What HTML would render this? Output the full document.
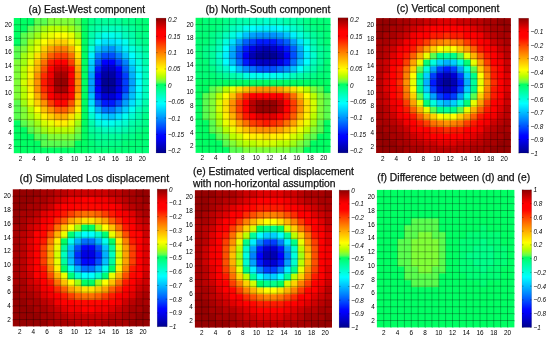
<!DOCTYPE html><html><head><meta charset="utf-8"><style>html,body{margin:0;padding:0;background:#fff;}svg{display:block;will-change:transform;}text{font-family:"Liberation Sans",sans-serif;}</style></head><body>
<svg width="550" height="339" viewBox="0 0 550 339">
<rect width="550" height="339" fill="#fff"/>
<rect x="13.80" y="146.44" width="7.76" height="6.76" fill="#00ff64"/><rect x="20.56" y="146.44" width="7.76" height="6.76" fill="#00ff64"/><rect x="27.32" y="146.44" width="7.76" height="6.76" fill="#00ff64"/><rect x="34.08" y="146.44" width="7.76" height="6.76" fill="#00ff64"/><rect x="40.84" y="146.44" width="7.76" height="6.76" fill="#00ff64"/><rect x="47.60" y="146.44" width="7.76" height="6.76" fill="#00ff64"/><rect x="54.36" y="146.44" width="7.76" height="6.76" fill="#00ff64"/><rect x="61.12" y="146.44" width="7.76" height="6.76" fill="#00ff64"/><rect x="67.88" y="146.44" width="7.76" height="6.76" fill="#00ff64"/><rect x="74.64" y="146.44" width="7.76" height="6.76" fill="#00ff64"/><rect x="81.40" y="146.44" width="7.76" height="6.76" fill="#00ff64"/><rect x="88.16" y="146.44" width="7.76" height="6.76" fill="#00ff77"/><rect x="94.92" y="146.44" width="7.76" height="6.76" fill="#00ff77"/><rect x="101.68" y="146.44" width="7.76" height="6.76" fill="#00ff77"/><rect x="108.44" y="146.44" width="7.76" height="6.76" fill="#00ff77"/><rect x="115.20" y="146.44" width="7.76" height="6.76" fill="#00ff77"/><rect x="121.96" y="146.44" width="7.76" height="6.76" fill="#00ff77"/><rect x="128.72" y="146.44" width="7.76" height="6.76" fill="#00ff77"/><rect x="135.48" y="146.44" width="7.76" height="6.76" fill="#00ff77"/><rect x="142.24" y="146.44" width="6.76" height="6.76" fill="#00ff77"/><rect x="13.80" y="139.68" width="7.76" height="7.76" fill="#00ff64"/><rect x="20.56" y="139.68" width="7.76" height="7.76" fill="#00ff64"/><rect x="27.32" y="139.68" width="7.76" height="7.76" fill="#00ff64"/><rect x="34.08" y="139.68" width="7.76" height="7.76" fill="#00ff64"/><rect x="40.84" y="139.68" width="7.76" height="7.76" fill="#59ff4f"/><rect x="47.60" y="139.68" width="7.76" height="7.76" fill="#59ff4f"/><rect x="54.36" y="139.68" width="7.76" height="7.76" fill="#59ff4f"/><rect x="61.12" y="139.68" width="7.76" height="7.76" fill="#59ff4f"/><rect x="67.88" y="139.68" width="7.76" height="7.76" fill="#59ff4f"/><rect x="74.64" y="139.68" width="7.76" height="7.76" fill="#00ff64"/><rect x="81.40" y="139.68" width="7.76" height="7.76" fill="#00ff64"/><rect x="88.16" y="139.68" width="7.76" height="7.76" fill="#00ff77"/><rect x="94.92" y="139.68" width="7.76" height="7.76" fill="#00ff89"/><rect x="101.68" y="139.68" width="7.76" height="7.76" fill="#00ff89"/><rect x="108.44" y="139.68" width="7.76" height="7.76" fill="#00ff89"/><rect x="115.20" y="139.68" width="7.76" height="7.76" fill="#00ff89"/><rect x="121.96" y="139.68" width="7.76" height="7.76" fill="#00ff77"/><rect x="128.72" y="139.68" width="7.76" height="7.76" fill="#00ff77"/><rect x="135.48" y="139.68" width="7.76" height="7.76" fill="#00ff77"/><rect x="142.24" y="139.68" width="6.76" height="7.76" fill="#00ff77"/><rect x="13.80" y="132.92" width="7.76" height="7.76" fill="#00ff64"/><rect x="20.56" y="132.92" width="7.76" height="7.76" fill="#00ff64"/><rect x="27.32" y="132.92" width="7.76" height="7.76" fill="#00ff64"/><rect x="34.08" y="132.92" width="7.76" height="7.76" fill="#59ff4f"/><rect x="40.84" y="132.92" width="7.76" height="7.76" fill="#59ff4f"/><rect x="47.60" y="132.92" width="7.76" height="7.76" fill="#80ff37"/><rect x="54.36" y="132.92" width="7.76" height="7.76" fill="#80ff37"/><rect x="61.12" y="132.92" width="7.76" height="7.76" fill="#80ff37"/><rect x="67.88" y="132.92" width="7.76" height="7.76" fill="#80ff37"/><rect x="74.64" y="132.92" width="7.76" height="7.76" fill="#59ff4f"/><rect x="81.40" y="132.92" width="7.76" height="7.76" fill="#00ff64"/><rect x="88.16" y="132.92" width="7.76" height="7.76" fill="#00ff89"/><rect x="94.92" y="132.92" width="7.76" height="7.76" fill="#00ff9b"/><rect x="101.68" y="132.92" width="7.76" height="7.76" fill="#00ff9b"/><rect x="108.44" y="132.92" width="7.76" height="7.76" fill="#00ff9b"/><rect x="115.20" y="132.92" width="7.76" height="7.76" fill="#00ff9b"/><rect x="121.96" y="132.92" width="7.76" height="7.76" fill="#00ff89"/><rect x="128.72" y="132.92" width="7.76" height="7.76" fill="#00ff89"/><rect x="135.48" y="132.92" width="7.76" height="7.76" fill="#00ff77"/><rect x="142.24" y="132.92" width="6.76" height="7.76" fill="#00ff77"/><rect x="13.80" y="126.16" width="7.76" height="7.76" fill="#00ff64"/><rect x="20.56" y="126.16" width="7.76" height="7.76" fill="#00ff64"/><rect x="27.32" y="126.16" width="7.76" height="7.76" fill="#59ff4f"/><rect x="34.08" y="126.16" width="7.76" height="7.76" fill="#80ff37"/><rect x="40.84" y="126.16" width="7.76" height="7.76" fill="#9fff13"/><rect x="47.60" y="126.16" width="7.76" height="7.76" fill="#b9ff00"/><rect x="54.36" y="126.16" width="7.76" height="7.76" fill="#b9ff00"/><rect x="61.12" y="126.16" width="7.76" height="7.76" fill="#b9ff00"/><rect x="67.88" y="126.16" width="7.76" height="7.76" fill="#b9ff00"/><rect x="74.64" y="126.16" width="7.76" height="7.76" fill="#80ff37"/><rect x="81.40" y="126.16" width="7.76" height="7.76" fill="#00ff64"/><rect x="88.16" y="126.16" width="7.76" height="7.76" fill="#00ff9b"/><rect x="94.92" y="126.16" width="7.76" height="7.76" fill="#00ffac"/><rect x="101.68" y="126.16" width="7.76" height="7.76" fill="#00ffbd"/><rect x="108.44" y="126.16" width="7.76" height="7.76" fill="#00ffbd"/><rect x="115.20" y="126.16" width="7.76" height="7.76" fill="#00ffbd"/><rect x="121.96" y="126.16" width="7.76" height="7.76" fill="#00ffac"/><rect x="128.72" y="126.16" width="7.76" height="7.76" fill="#00ff9b"/><rect x="135.48" y="126.16" width="7.76" height="7.76" fill="#00ff89"/><rect x="142.24" y="126.16" width="6.76" height="7.76" fill="#00ff77"/><rect x="13.80" y="119.40" width="7.76" height="7.76" fill="#00ff64"/><rect x="20.56" y="119.40" width="7.76" height="7.76" fill="#59ff4f"/><rect x="27.32" y="119.40" width="7.76" height="7.76" fill="#80ff37"/><rect x="34.08" y="119.40" width="7.76" height="7.76" fill="#9fff13"/><rect x="40.84" y="119.40" width="7.76" height="7.76" fill="#d2ff00"/><rect x="47.60" y="119.40" width="7.76" height="7.76" fill="#e9ff00"/><rect x="54.36" y="119.40" width="7.76" height="7.76" fill="#fff000"/><rect x="61.12" y="119.40" width="7.76" height="7.76" fill="#fff000"/><rect x="67.88" y="119.40" width="7.76" height="7.76" fill="#e9ff00"/><rect x="74.64" y="119.40" width="7.76" height="7.76" fill="#9fff13"/><rect x="81.40" y="119.40" width="7.76" height="7.76" fill="#00ff64"/><rect x="88.16" y="119.40" width="7.76" height="7.76" fill="#00ffac"/><rect x="94.92" y="119.40" width="7.76" height="7.76" fill="#00ffdf"/><rect x="101.68" y="119.40" width="7.76" height="7.76" fill="#00ffef"/><rect x="108.44" y="119.40" width="7.76" height="7.76" fill="#00ffef"/><rect x="115.20" y="119.40" width="7.76" height="7.76" fill="#00ffdf"/><rect x="121.96" y="119.40" width="7.76" height="7.76" fill="#00ffce"/><rect x="128.72" y="119.40" width="7.76" height="7.76" fill="#00ffac"/><rect x="135.48" y="119.40" width="7.76" height="7.76" fill="#00ff9b"/><rect x="142.24" y="119.40" width="6.76" height="7.76" fill="#00ff89"/><rect x="13.80" y="112.64" width="7.76" height="7.76" fill="#59ff4f"/><rect x="20.56" y="112.64" width="7.76" height="7.76" fill="#80ff37"/><rect x="27.32" y="112.64" width="7.76" height="7.76" fill="#9fff13"/><rect x="34.08" y="112.64" width="7.76" height="7.76" fill="#d2ff00"/><rect x="40.84" y="112.64" width="7.76" height="7.76" fill="#fff000"/><rect x="47.60" y="112.64" width="7.76" height="7.76" fill="#ffd000"/><rect x="54.36" y="112.64" width="7.76" height="7.76" fill="#ffb100"/><rect x="61.12" y="112.64" width="7.76" height="7.76" fill="#ffb100"/><rect x="67.88" y="112.64" width="7.76" height="7.76" fill="#ffe000"/><rect x="74.64" y="112.64" width="7.76" height="7.76" fill="#d2ff00"/><rect x="81.40" y="112.64" width="7.76" height="7.76" fill="#00ff64"/><rect x="88.16" y="112.64" width="7.76" height="7.76" fill="#00ffce"/><rect x="94.92" y="112.64" width="7.76" height="7.76" fill="#00f0ff"/><rect x="101.68" y="112.64" width="7.76" height="7.76" fill="#00d0ff"/><rect x="108.44" y="112.64" width="7.76" height="7.76" fill="#00c1ff"/><rect x="115.20" y="112.64" width="7.76" height="7.76" fill="#00e0ff"/><rect x="121.96" y="112.64" width="7.76" height="7.76" fill="#00ffef"/><rect x="128.72" y="112.64" width="7.76" height="7.76" fill="#00ffce"/><rect x="135.48" y="112.64" width="7.76" height="7.76" fill="#00ffac"/><rect x="142.24" y="112.64" width="6.76" height="7.76" fill="#00ff89"/><rect x="13.80" y="105.88" width="7.76" height="7.76" fill="#59ff4f"/><rect x="20.56" y="105.88" width="7.76" height="7.76" fill="#80ff37"/><rect x="27.32" y="105.88" width="7.76" height="7.76" fill="#b9ff00"/><rect x="34.08" y="105.88" width="7.76" height="7.76" fill="#ffff00"/><rect x="40.84" y="105.88" width="7.76" height="7.76" fill="#ffc100"/><rect x="47.60" y="105.88" width="7.76" height="7.76" fill="#ff9100"/><rect x="54.36" y="105.88" width="7.76" height="7.76" fill="#ff5f00"/><rect x="61.12" y="105.88" width="7.76" height="7.76" fill="#ff5f00"/><rect x="67.88" y="105.88" width="7.76" height="7.76" fill="#ff9100"/><rect x="74.64" y="105.88" width="7.76" height="7.76" fill="#fff000"/><rect x="81.40" y="105.88" width="7.76" height="7.76" fill="#00ff64"/><rect x="88.16" y="105.88" width="7.76" height="7.76" fill="#00ffef"/><rect x="94.92" y="105.88" width="7.76" height="7.76" fill="#00b1ff"/><rect x="101.68" y="105.88" width="7.76" height="7.76" fill="#0070ff"/><rect x="108.44" y="105.88" width="7.76" height="7.76" fill="#0070ff"/><rect x="115.20" y="105.88" width="7.76" height="7.76" fill="#00a1ff"/><rect x="121.96" y="105.88" width="7.76" height="7.76" fill="#00d0ff"/><rect x="128.72" y="105.88" width="7.76" height="7.76" fill="#00ffef"/><rect x="135.48" y="105.88" width="7.76" height="7.76" fill="#00ffbd"/><rect x="142.24" y="105.88" width="6.76" height="7.76" fill="#00ff9b"/><rect x="13.80" y="99.12" width="7.76" height="7.76" fill="#59ff4f"/><rect x="20.56" y="99.12" width="7.76" height="7.76" fill="#9fff13"/><rect x="27.32" y="99.12" width="7.76" height="7.76" fill="#e9ff00"/><rect x="34.08" y="99.12" width="7.76" height="7.76" fill="#ffd000"/><rect x="40.84" y="99.12" width="7.76" height="7.76" fill="#ff9100"/><rect x="47.60" y="99.12" width="7.76" height="7.76" fill="#ff3e00"/><rect x="54.36" y="99.12" width="7.76" height="7.76" fill="#ff0700"/><rect x="61.12" y="99.12" width="7.76" height="7.76" fill="#ff0700"/><rect x="67.88" y="99.12" width="7.76" height="7.76" fill="#ff4f00"/><rect x="74.64" y="99.12" width="7.76" height="7.76" fill="#ffd000"/><rect x="81.40" y="99.12" width="7.76" height="7.76" fill="#00ff64"/><rect x="88.16" y="99.12" width="7.76" height="7.76" fill="#00e0ff"/><rect x="94.92" y="99.12" width="7.76" height="7.76" fill="#005fff"/><rect x="101.68" y="99.12" width="7.76" height="7.76" fill="#001aff"/><rect x="108.44" y="99.12" width="7.76" height="7.76" fill="#001aff"/><rect x="115.20" y="99.12" width="7.76" height="7.76" fill="#004fff"/><rect x="121.96" y="99.12" width="7.76" height="7.76" fill="#00a1ff"/><rect x="128.72" y="99.12" width="7.76" height="7.76" fill="#00e0ff"/><rect x="135.48" y="99.12" width="7.76" height="7.76" fill="#00ffdf"/><rect x="142.24" y="99.12" width="6.76" height="7.76" fill="#00ffac"/><rect x="13.80" y="92.36" width="7.76" height="7.76" fill="#80ff37"/><rect x="20.56" y="92.36" width="7.76" height="7.76" fill="#b9ff00"/><rect x="27.32" y="92.36" width="7.76" height="7.76" fill="#ffff00"/><rect x="34.08" y="92.36" width="7.76" height="7.76" fill="#ffb100"/><rect x="40.84" y="92.36" width="7.76" height="7.76" fill="#ff4f00"/><rect x="47.60" y="92.36" width="7.76" height="7.76" fill="#ff0000"/><rect x="54.36" y="92.36" width="7.76" height="7.76" fill="#e00000"/><rect x="61.12" y="92.36" width="7.76" height="7.76" fill="#e00000"/><rect x="67.88" y="92.36" width="7.76" height="7.76" fill="#ff0700"/><rect x="74.64" y="92.36" width="7.76" height="7.76" fill="#ffb100"/><rect x="81.40" y="92.36" width="7.76" height="7.76" fill="#00ff64"/><rect x="88.16" y="92.36" width="7.76" height="7.76" fill="#00c1ff"/><rect x="94.92" y="92.36" width="7.76" height="7.76" fill="#001aff"/><rect x="101.68" y="92.36" width="7.76" height="7.76" fill="#0000d4"/><rect x="108.44" y="92.36" width="7.76" height="7.76" fill="#0000d4"/><rect x="115.20" y="92.36" width="7.76" height="7.76" fill="#0007ff"/><rect x="121.96" y="92.36" width="7.76" height="7.76" fill="#0070ff"/><rect x="128.72" y="92.36" width="7.76" height="7.76" fill="#00c1ff"/><rect x="135.48" y="92.36" width="7.76" height="7.76" fill="#00ffef"/><rect x="142.24" y="92.36" width="6.76" height="7.76" fill="#00ffbd"/><rect x="13.80" y="85.60" width="7.76" height="7.76" fill="#80ff37"/><rect x="20.56" y="85.60" width="7.76" height="7.76" fill="#b9ff00"/><rect x="27.32" y="85.60" width="7.76" height="7.76" fill="#fff000"/><rect x="34.08" y="85.60" width="7.76" height="7.76" fill="#ff9100"/><rect x="40.84" y="85.60" width="7.76" height="7.76" fill="#ff2c00"/><rect x="47.60" y="85.60" width="7.76" height="7.76" fill="#f20000"/><rect x="54.36" y="85.60" width="7.76" height="7.76" fill="#a90000"/><rect x="61.12" y="85.60" width="7.76" height="7.76" fill="#a90000"/><rect x="67.88" y="85.60" width="7.76" height="7.76" fill="#ff0000"/><rect x="74.64" y="85.60" width="7.76" height="7.76" fill="#ff9100"/><rect x="81.40" y="85.60" width="7.76" height="7.76" fill="#00ff64"/><rect x="88.16" y="85.60" width="7.76" height="7.76" fill="#00a1ff"/><rect x="94.92" y="85.60" width="7.76" height="7.76" fill="#0000ff"/><rect x="101.68" y="85.60" width="7.76" height="7.76" fill="#0000a4"/><rect x="108.44" y="85.60" width="7.76" height="7.76" fill="#0000a4"/><rect x="115.20" y="85.60" width="7.76" height="7.76" fill="#0000e4"/><rect x="121.96" y="85.60" width="7.76" height="7.76" fill="#003eff"/><rect x="128.72" y="85.60" width="7.76" height="7.76" fill="#00b1ff"/><rect x="135.48" y="85.60" width="7.76" height="7.76" fill="#00ffff"/><rect x="142.24" y="85.60" width="6.76" height="7.76" fill="#00ffbd"/><rect x="13.80" y="78.84" width="7.76" height="7.76" fill="#80ff37"/><rect x="20.56" y="78.84" width="7.76" height="7.76" fill="#d2ff00"/><rect x="27.32" y="78.84" width="7.76" height="7.76" fill="#ffe000"/><rect x="34.08" y="78.84" width="7.76" height="7.76" fill="#ff9100"/><rect x="40.84" y="78.84" width="7.76" height="7.76" fill="#ff1a00"/><rect x="47.60" y="78.84" width="7.76" height="7.76" fill="#e00000"/><rect x="54.36" y="78.84" width="7.76" height="7.76" fill="#960000"/><rect x="61.12" y="78.84" width="7.76" height="7.76" fill="#960000"/><rect x="67.88" y="78.84" width="7.76" height="7.76" fill="#f20000"/><rect x="74.64" y="78.84" width="7.76" height="7.76" fill="#ff9100"/><rect x="81.40" y="78.84" width="7.76" height="7.76" fill="#00ff64"/><rect x="88.16" y="78.84" width="7.76" height="7.76" fill="#00a1ff"/><rect x="94.92" y="78.84" width="7.76" height="7.76" fill="#0000f4"/><rect x="101.68" y="78.84" width="7.76" height="7.76" fill="#000094"/><rect x="108.44" y="78.84" width="7.76" height="7.76" fill="#000094"/><rect x="115.20" y="78.84" width="7.76" height="7.76" fill="#0000d4"/><rect x="121.96" y="78.84" width="7.76" height="7.76" fill="#003eff"/><rect x="128.72" y="78.84" width="7.76" height="7.76" fill="#00a1ff"/><rect x="135.48" y="78.84" width="7.76" height="7.76" fill="#00ffff"/><rect x="142.24" y="78.84" width="6.76" height="7.76" fill="#00ffbd"/><rect x="13.80" y="72.08" width="7.76" height="7.76" fill="#80ff37"/><rect x="20.56" y="72.08" width="7.76" height="7.76" fill="#b9ff00"/><rect x="27.32" y="72.08" width="7.76" height="7.76" fill="#fff000"/><rect x="34.08" y="72.08" width="7.76" height="7.76" fill="#ff9100"/><rect x="40.84" y="72.08" width="7.76" height="7.76" fill="#ff2c00"/><rect x="47.60" y="72.08" width="7.76" height="7.76" fill="#f20000"/><rect x="54.36" y="72.08" width="7.76" height="7.76" fill="#a90000"/><rect x="61.12" y="72.08" width="7.76" height="7.76" fill="#a90000"/><rect x="67.88" y="72.08" width="7.76" height="7.76" fill="#ff0000"/><rect x="74.64" y="72.08" width="7.76" height="7.76" fill="#ff9100"/><rect x="81.40" y="72.08" width="7.76" height="7.76" fill="#00ff64"/><rect x="88.16" y="72.08" width="7.76" height="7.76" fill="#00a1ff"/><rect x="94.92" y="72.08" width="7.76" height="7.76" fill="#0000f4"/><rect x="101.68" y="72.08" width="7.76" height="7.76" fill="#0000a4"/><rect x="108.44" y="72.08" width="7.76" height="7.76" fill="#0000a4"/><rect x="115.20" y="72.08" width="7.76" height="7.76" fill="#0000e4"/><rect x="121.96" y="72.08" width="7.76" height="7.76" fill="#003eff"/><rect x="128.72" y="72.08" width="7.76" height="7.76" fill="#00b1ff"/><rect x="135.48" y="72.08" width="7.76" height="7.76" fill="#00ffff"/><rect x="142.24" y="72.08" width="6.76" height="7.76" fill="#00ffbd"/><rect x="13.80" y="65.32" width="7.76" height="7.76" fill="#80ff37"/><rect x="20.56" y="65.32" width="7.76" height="7.76" fill="#b9ff00"/><rect x="27.32" y="65.32" width="7.76" height="7.76" fill="#fff000"/><rect x="34.08" y="65.32" width="7.76" height="7.76" fill="#ffb100"/><rect x="40.84" y="65.32" width="7.76" height="7.76" fill="#ff4f00"/><rect x="47.60" y="65.32" width="7.76" height="7.76" fill="#ff0000"/><rect x="54.36" y="65.32" width="7.76" height="7.76" fill="#cd0000"/><rect x="61.12" y="65.32" width="7.76" height="7.76" fill="#cd0000"/><rect x="67.88" y="65.32" width="7.76" height="7.76" fill="#ff0000"/><rect x="74.64" y="65.32" width="7.76" height="7.76" fill="#ffa100"/><rect x="81.40" y="65.32" width="7.76" height="7.76" fill="#00ff64"/><rect x="88.16" y="65.32" width="7.76" height="7.76" fill="#00c1ff"/><rect x="94.92" y="65.32" width="7.76" height="7.76" fill="#001aff"/><rect x="101.68" y="65.32" width="7.76" height="7.76" fill="#0000c4"/><rect x="108.44" y="65.32" width="7.76" height="7.76" fill="#0000c4"/><rect x="115.20" y="65.32" width="7.76" height="7.76" fill="#0000ff"/><rect x="121.96" y="65.32" width="7.76" height="7.76" fill="#005fff"/><rect x="128.72" y="65.32" width="7.76" height="7.76" fill="#00c1ff"/><rect x="135.48" y="65.32" width="7.76" height="7.76" fill="#00ffef"/><rect x="142.24" y="65.32" width="6.76" height="7.76" fill="#00ffbd"/><rect x="13.80" y="58.56" width="7.76" height="7.76" fill="#80ff37"/><rect x="20.56" y="58.56" width="7.76" height="7.76" fill="#9fff13"/><rect x="27.32" y="58.56" width="7.76" height="7.76" fill="#e9ff00"/><rect x="34.08" y="58.56" width="7.76" height="7.76" fill="#ffc100"/><rect x="40.84" y="58.56" width="7.76" height="7.76" fill="#ff7000"/><rect x="47.60" y="58.56" width="7.76" height="7.76" fill="#ff1a00"/><rect x="54.36" y="58.56" width="7.76" height="7.76" fill="#ff0000"/><rect x="61.12" y="58.56" width="7.76" height="7.76" fill="#ff0000"/><rect x="67.88" y="58.56" width="7.76" height="7.76" fill="#ff3e00"/><rect x="74.64" y="58.56" width="7.76" height="7.76" fill="#ffc100"/><rect x="81.40" y="58.56" width="7.76" height="7.76" fill="#00ff64"/><rect x="88.16" y="58.56" width="7.76" height="7.76" fill="#00d0ff"/><rect x="94.92" y="58.56" width="7.76" height="7.76" fill="#004fff"/><rect x="101.68" y="58.56" width="7.76" height="7.76" fill="#0000ff"/><rect x="108.44" y="58.56" width="7.76" height="7.76" fill="#0000ff"/><rect x="115.20" y="58.56" width="7.76" height="7.76" fill="#003eff"/><rect x="121.96" y="58.56" width="7.76" height="7.76" fill="#0081ff"/><rect x="128.72" y="58.56" width="7.76" height="7.76" fill="#00e0ff"/><rect x="135.48" y="58.56" width="7.76" height="7.76" fill="#00ffdf"/><rect x="142.24" y="58.56" width="6.76" height="7.76" fill="#00ffac"/><rect x="13.80" y="51.80" width="7.76" height="7.76" fill="#59ff4f"/><rect x="20.56" y="51.80" width="7.76" height="7.76" fill="#9fff13"/><rect x="27.32" y="51.80" width="7.76" height="7.76" fill="#d2ff00"/><rect x="34.08" y="51.80" width="7.76" height="7.76" fill="#ffe000"/><rect x="40.84" y="51.80" width="7.76" height="7.76" fill="#ffa100"/><rect x="47.60" y="51.80" width="7.76" height="7.76" fill="#ff5f00"/><rect x="54.36" y="51.80" width="7.76" height="7.76" fill="#ff3e00"/><rect x="61.12" y="51.80" width="7.76" height="7.76" fill="#ff3e00"/><rect x="67.88" y="51.80" width="7.76" height="7.76" fill="#ff7000"/><rect x="74.64" y="51.80" width="7.76" height="7.76" fill="#ffe000"/><rect x="81.40" y="51.80" width="7.76" height="7.76" fill="#00ff64"/><rect x="88.16" y="51.80" width="7.76" height="7.76" fill="#00f0ff"/><rect x="94.92" y="51.80" width="7.76" height="7.76" fill="#0081ff"/><rect x="101.68" y="51.80" width="7.76" height="7.76" fill="#004fff"/><rect x="108.44" y="51.80" width="7.76" height="7.76" fill="#004fff"/><rect x="115.20" y="51.80" width="7.76" height="7.76" fill="#0081ff"/><rect x="121.96" y="51.80" width="7.76" height="7.76" fill="#00c1ff"/><rect x="128.72" y="51.80" width="7.76" height="7.76" fill="#00ffff"/><rect x="135.48" y="51.80" width="7.76" height="7.76" fill="#00ffce"/><rect x="142.24" y="51.80" width="6.76" height="7.76" fill="#00ffac"/><rect x="13.80" y="45.04" width="7.76" height="7.76" fill="#59ff4f"/><rect x="20.56" y="45.04" width="7.76" height="7.76" fill="#80ff37"/><rect x="27.32" y="45.04" width="7.76" height="7.76" fill="#b9ff00"/><rect x="34.08" y="45.04" width="7.76" height="7.76" fill="#e9ff00"/><rect x="40.84" y="45.04" width="7.76" height="7.76" fill="#ffd000"/><rect x="47.60" y="45.04" width="7.76" height="7.76" fill="#ffa100"/><rect x="54.36" y="45.04" width="7.76" height="7.76" fill="#ff8100"/><rect x="61.12" y="45.04" width="7.76" height="7.76" fill="#ff8100"/><rect x="67.88" y="45.04" width="7.76" height="7.76" fill="#ffb100"/><rect x="74.64" y="45.04" width="7.76" height="7.76" fill="#ffff00"/><rect x="81.40" y="45.04" width="7.76" height="7.76" fill="#00ff64"/><rect x="88.16" y="45.04" width="7.76" height="7.76" fill="#00ffdf"/><rect x="94.92" y="45.04" width="7.76" height="7.76" fill="#00c1ff"/><rect x="101.68" y="45.04" width="7.76" height="7.76" fill="#00a1ff"/><rect x="108.44" y="45.04" width="7.76" height="7.76" fill="#0091ff"/><rect x="115.20" y="45.04" width="7.76" height="7.76" fill="#00c1ff"/><rect x="121.96" y="45.04" width="7.76" height="7.76" fill="#00f0ff"/><rect x="128.72" y="45.04" width="7.76" height="7.76" fill="#00ffdf"/><rect x="135.48" y="45.04" width="7.76" height="7.76" fill="#00ffbd"/><rect x="142.24" y="45.04" width="6.76" height="7.76" fill="#00ff9b"/><rect x="13.80" y="38.28" width="7.76" height="7.76" fill="#00ff64"/><rect x="20.56" y="38.28" width="7.76" height="7.76" fill="#59ff4f"/><rect x="27.32" y="38.28" width="7.76" height="7.76" fill="#9fff13"/><rect x="34.08" y="38.28" width="7.76" height="7.76" fill="#d2ff00"/><rect x="40.84" y="38.28" width="7.76" height="7.76" fill="#ffff00"/><rect x="47.60" y="38.28" width="7.76" height="7.76" fill="#ffe000"/><rect x="54.36" y="38.28" width="7.76" height="7.76" fill="#ffd000"/><rect x="61.12" y="38.28" width="7.76" height="7.76" fill="#ffd000"/><rect x="67.88" y="38.28" width="7.76" height="7.76" fill="#fff000"/><rect x="74.64" y="38.28" width="7.76" height="7.76" fill="#d2ff00"/><rect x="81.40" y="38.28" width="7.76" height="7.76" fill="#00ff64"/><rect x="88.16" y="38.28" width="7.76" height="7.76" fill="#00ffbd"/><rect x="94.92" y="38.28" width="7.76" height="7.76" fill="#00ffff"/><rect x="101.68" y="38.28" width="7.76" height="7.76" fill="#00e0ff"/><rect x="108.44" y="38.28" width="7.76" height="7.76" fill="#00e0ff"/><rect x="115.20" y="38.28" width="7.76" height="7.76" fill="#00f0ff"/><rect x="121.96" y="38.28" width="7.76" height="7.76" fill="#00ffef"/><rect x="128.72" y="38.28" width="7.76" height="7.76" fill="#00ffbd"/><rect x="135.48" y="38.28" width="7.76" height="7.76" fill="#00ff9b"/><rect x="142.24" y="38.28" width="6.76" height="7.76" fill="#00ff89"/><rect x="13.80" y="31.52" width="7.76" height="7.76" fill="#00ff64"/><rect x="20.56" y="31.52" width="7.76" height="7.76" fill="#59ff4f"/><rect x="27.32" y="31.52" width="7.76" height="7.76" fill="#80ff37"/><rect x="34.08" y="31.52" width="7.76" height="7.76" fill="#9fff13"/><rect x="40.84" y="31.52" width="7.76" height="7.76" fill="#d2ff00"/><rect x="47.60" y="31.52" width="7.76" height="7.76" fill="#e9ff00"/><rect x="54.36" y="31.52" width="7.76" height="7.76" fill="#ffff00"/><rect x="61.12" y="31.52" width="7.76" height="7.76" fill="#ffff00"/><rect x="67.88" y="31.52" width="7.76" height="7.76" fill="#e9ff00"/><rect x="74.64" y="31.52" width="7.76" height="7.76" fill="#9fff13"/><rect x="81.40" y="31.52" width="7.76" height="7.76" fill="#00ff64"/><rect x="88.16" y="31.52" width="7.76" height="7.76" fill="#00ffac"/><rect x="94.92" y="31.52" width="7.76" height="7.76" fill="#00ffce"/><rect x="101.68" y="31.52" width="7.76" height="7.76" fill="#00ffef"/><rect x="108.44" y="31.52" width="7.76" height="7.76" fill="#00ffef"/><rect x="115.20" y="31.52" width="7.76" height="7.76" fill="#00ffdf"/><rect x="121.96" y="31.52" width="7.76" height="7.76" fill="#00ffbd"/><rect x="128.72" y="31.52" width="7.76" height="7.76" fill="#00ffac"/><rect x="135.48" y="31.52" width="7.76" height="7.76" fill="#00ff89"/><rect x="142.24" y="31.52" width="6.76" height="7.76" fill="#00ff89"/><rect x="13.80" y="24.76" width="7.76" height="7.76" fill="#00ff64"/><rect x="20.56" y="24.76" width="7.76" height="7.76" fill="#00ff64"/><rect x="27.32" y="24.76" width="7.76" height="7.76" fill="#59ff4f"/><rect x="34.08" y="24.76" width="7.76" height="7.76" fill="#80ff37"/><rect x="40.84" y="24.76" width="7.76" height="7.76" fill="#9fff13"/><rect x="47.60" y="24.76" width="7.76" height="7.76" fill="#b9ff00"/><rect x="54.36" y="24.76" width="7.76" height="7.76" fill="#b9ff00"/><rect x="61.12" y="24.76" width="7.76" height="7.76" fill="#b9ff00"/><rect x="67.88" y="24.76" width="7.76" height="7.76" fill="#9fff13"/><rect x="74.64" y="24.76" width="7.76" height="7.76" fill="#80ff37"/><rect x="81.40" y="24.76" width="7.76" height="7.76" fill="#00ff64"/><rect x="88.16" y="24.76" width="7.76" height="7.76" fill="#00ff9b"/><rect x="94.92" y="24.76" width="7.76" height="7.76" fill="#00ffac"/><rect x="101.68" y="24.76" width="7.76" height="7.76" fill="#00ffbd"/><rect x="108.44" y="24.76" width="7.76" height="7.76" fill="#00ffbd"/><rect x="115.20" y="24.76" width="7.76" height="7.76" fill="#00ffbd"/><rect x="121.96" y="24.76" width="7.76" height="7.76" fill="#00ffac"/><rect x="128.72" y="24.76" width="7.76" height="7.76" fill="#00ff9b"/><rect x="135.48" y="24.76" width="7.76" height="7.76" fill="#00ff89"/><rect x="142.24" y="24.76" width="6.76" height="7.76" fill="#00ff77"/><rect x="13.80" y="18.00" width="7.76" height="7.76" fill="#00ff64"/><rect x="20.56" y="18.00" width="7.76" height="7.76" fill="#00ff64"/><rect x="27.32" y="18.00" width="7.76" height="7.76" fill="#00ff64"/><rect x="34.08" y="18.00" width="7.76" height="7.76" fill="#59ff4f"/><rect x="40.84" y="18.00" width="7.76" height="7.76" fill="#59ff4f"/><rect x="47.60" y="18.00" width="7.76" height="7.76" fill="#80ff37"/><rect x="54.36" y="18.00" width="7.76" height="7.76" fill="#80ff37"/><rect x="61.12" y="18.00" width="7.76" height="7.76" fill="#80ff37"/><rect x="67.88" y="18.00" width="7.76" height="7.76" fill="#80ff37"/><rect x="74.64" y="18.00" width="7.76" height="7.76" fill="#59ff4f"/><rect x="81.40" y="18.00" width="7.76" height="7.76" fill="#00ff64"/><rect x="88.16" y="18.00" width="7.76" height="7.76" fill="#00ff89"/><rect x="94.92" y="18.00" width="7.76" height="7.76" fill="#00ff9b"/><rect x="101.68" y="18.00" width="7.76" height="7.76" fill="#00ff9b"/><rect x="108.44" y="18.00" width="7.76" height="7.76" fill="#00ff9b"/><rect x="115.20" y="18.00" width="7.76" height="7.76" fill="#00ff9b"/><rect x="121.96" y="18.00" width="7.76" height="7.76" fill="#00ff89"/><rect x="128.72" y="18.00" width="7.76" height="7.76" fill="#00ff89"/><rect x="135.48" y="18.00" width="7.76" height="7.76" fill="#00ff77"/><rect x="142.24" y="18.00" width="6.76" height="7.76" fill="#00ff77"/>
<path d="M20.56 18.00V153.20M13.80 24.76H149.00M27.32 18.00V153.20M13.80 31.52H149.00M34.08 18.00V153.20M13.80 38.28H149.00M40.84 18.00V153.20M13.80 45.04H149.00M47.60 18.00V153.20M13.80 51.80H149.00M54.36 18.00V153.20M13.80 58.56H149.00M61.12 18.00V153.20M13.80 65.32H149.00M67.88 18.00V153.20M13.80 72.08H149.00M74.64 18.00V153.20M13.80 78.84H149.00M81.40 18.00V153.20M13.80 85.60H149.00M88.16 18.00V153.20M13.80 92.36H149.00M94.92 18.00V153.20M13.80 99.12H149.00M101.68 18.00V153.20M13.80 105.88H149.00M108.44 18.00V153.20M13.80 112.64H149.00M115.20 18.00V153.20M13.80 119.40H149.00M121.96 18.00V153.20M13.80 126.16H149.00M128.72 18.00V153.20M13.80 132.92H149.00M135.48 18.00V153.20M13.80 139.68H149.00M142.24 18.00V153.20M13.80 146.44H149.00" stroke="#000" stroke-opacity="0.42" stroke-width="0.7" fill="none"/>
<text x="20.56" y="160.70" font-size="7.1" fill="#000" text-anchor="middle" textLength="3.55" lengthAdjust="spacingAndGlyphs">2</text>
<text x="11.80" y="148.74" font-size="7.1" fill="#000" text-anchor="end" textLength="3.55" lengthAdjust="spacingAndGlyphs">2</text>
<text x="34.08" y="160.70" font-size="7.1" fill="#000" text-anchor="middle" textLength="3.55" lengthAdjust="spacingAndGlyphs">4</text>
<text x="11.80" y="135.22" font-size="7.1" fill="#000" text-anchor="end" textLength="3.55" lengthAdjust="spacingAndGlyphs">4</text>
<text x="47.60" y="160.70" font-size="7.1" fill="#000" text-anchor="middle" textLength="3.55" lengthAdjust="spacingAndGlyphs">6</text>
<text x="11.80" y="121.70" font-size="7.1" fill="#000" text-anchor="end" textLength="3.55" lengthAdjust="spacingAndGlyphs">6</text>
<text x="61.12" y="160.70" font-size="7.1" fill="#000" text-anchor="middle" textLength="3.55" lengthAdjust="spacingAndGlyphs">8</text>
<text x="11.80" y="108.18" font-size="7.1" fill="#000" text-anchor="end" textLength="3.55" lengthAdjust="spacingAndGlyphs">8</text>
<text x="74.64" y="160.70" font-size="7.1" fill="#000" text-anchor="middle" textLength="7.11" lengthAdjust="spacingAndGlyphs">10</text>
<text x="11.80" y="94.66" font-size="7.1" fill="#000" text-anchor="end" textLength="7.11" lengthAdjust="spacingAndGlyphs">10</text>
<text x="88.16" y="160.70" font-size="7.1" fill="#000" text-anchor="middle" textLength="7.11" lengthAdjust="spacingAndGlyphs">12</text>
<text x="11.80" y="81.14" font-size="7.1" fill="#000" text-anchor="end" textLength="7.11" lengthAdjust="spacingAndGlyphs">12</text>
<text x="101.68" y="160.70" font-size="7.1" fill="#000" text-anchor="middle" textLength="7.11" lengthAdjust="spacingAndGlyphs">14</text>
<text x="11.80" y="67.62" font-size="7.1" fill="#000" text-anchor="end" textLength="7.11" lengthAdjust="spacingAndGlyphs">14</text>
<text x="115.20" y="160.70" font-size="7.1" fill="#000" text-anchor="middle" textLength="7.11" lengthAdjust="spacingAndGlyphs">16</text>
<text x="11.80" y="54.10" font-size="7.1" fill="#000" text-anchor="end" textLength="7.11" lengthAdjust="spacingAndGlyphs">16</text>
<text x="128.72" y="160.70" font-size="7.1" fill="#000" text-anchor="middle" textLength="7.11" lengthAdjust="spacingAndGlyphs">18</text>
<text x="11.80" y="40.58" font-size="7.1" fill="#000" text-anchor="end" textLength="7.11" lengthAdjust="spacingAndGlyphs">18</text>
<text x="142.24" y="160.70" font-size="7.1" fill="#000" text-anchor="middle" textLength="7.11" lengthAdjust="spacingAndGlyphs">20</text>
<text x="11.80" y="27.06" font-size="7.1" fill="#000" text-anchor="end" textLength="7.11" lengthAdjust="spacingAndGlyphs">20</text>
<defs><linearGradient id="g0" x1="0" y1="0" x2="0" y2="1"><stop offset="0.0078" stop-color="#960000"/><stop offset="0.0234" stop-color="#a90000"/><stop offset="0.0391" stop-color="#bb0000"/><stop offset="0.0547" stop-color="#cd0000"/><stop offset="0.0703" stop-color="#e00000"/><stop offset="0.0859" stop-color="#f20000"/><stop offset="0.1016" stop-color="#ff0000"/><stop offset="0.1172" stop-color="#ff0000"/><stop offset="0.1328" stop-color="#ff0000"/><stop offset="0.1484" stop-color="#ff0700"/><stop offset="0.1641" stop-color="#ff1a00"/><stop offset="0.1797" stop-color="#ff2c00"/><stop offset="0.1953" stop-color="#ff3e00"/><stop offset="0.2109" stop-color="#ff4f00"/><stop offset="0.2266" stop-color="#ff5f00"/><stop offset="0.2422" stop-color="#ff7000"/><stop offset="0.2578" stop-color="#ff8100"/><stop offset="0.2734" stop-color="#ff9100"/><stop offset="0.2891" stop-color="#ffa100"/><stop offset="0.3047" stop-color="#ffb100"/><stop offset="0.3203" stop-color="#ffc100"/><stop offset="0.3359" stop-color="#ffd000"/><stop offset="0.3516" stop-color="#ffe000"/><stop offset="0.3672" stop-color="#fff000"/><stop offset="0.3828" stop-color="#ffff00"/><stop offset="0.3984" stop-color="#e9ff00"/><stop offset="0.4141" stop-color="#d2ff00"/><stop offset="0.4297" stop-color="#b9ff00"/><stop offset="0.4453" stop-color="#9fff13"/><stop offset="0.4609" stop-color="#80ff37"/><stop offset="0.4766" stop-color="#59ff4f"/><stop offset="0.4922" stop-color="#00ff64"/><stop offset="0.5078" stop-color="#00ff77"/><stop offset="0.5234" stop-color="#00ff89"/><stop offset="0.5391" stop-color="#00ff9b"/><stop offset="0.5547" stop-color="#00ffac"/><stop offset="0.5703" stop-color="#00ffbd"/><stop offset="0.5859" stop-color="#00ffce"/><stop offset="0.6016" stop-color="#00ffdf"/><stop offset="0.6172" stop-color="#00ffef"/><stop offset="0.6328" stop-color="#00ffff"/><stop offset="0.6484" stop-color="#00f0ff"/><stop offset="0.6641" stop-color="#00e0ff"/><stop offset="0.6797" stop-color="#00d0ff"/><stop offset="0.6953" stop-color="#00c1ff"/><stop offset="0.7109" stop-color="#00b1ff"/><stop offset="0.7266" stop-color="#00a1ff"/><stop offset="0.7422" stop-color="#0091ff"/><stop offset="0.7578" stop-color="#0081ff"/><stop offset="0.7734" stop-color="#0070ff"/><stop offset="0.7891" stop-color="#005fff"/><stop offset="0.8047" stop-color="#004fff"/><stop offset="0.8203" stop-color="#003eff"/><stop offset="0.8359" stop-color="#002cff"/><stop offset="0.8516" stop-color="#001aff"/><stop offset="0.8672" stop-color="#0007ff"/><stop offset="0.8828" stop-color="#0000ff"/><stop offset="0.8984" stop-color="#0000f4"/><stop offset="0.9141" stop-color="#0000e4"/><stop offset="0.9297" stop-color="#0000d4"/><stop offset="0.9453" stop-color="#0000c4"/><stop offset="0.9609" stop-color="#0000b4"/><stop offset="0.9766" stop-color="#0000a4"/><stop offset="0.9922" stop-color="#000094"/></linearGradient></defs>
<rect x="156.10" y="18.10" width="9.90" height="134.90" fill="url(#g0)"/>
<rect x="156.10" y="18.10" width="9.90" height="134.90" fill="none" stroke="#000" stroke-opacity="0.25" stroke-width="0.5"/>
<path d="M156.10 19.96h1.5M166.00 19.96h-1.5" stroke="#000" stroke-opacity="0.5" stroke-width="0.6"/>
<text x="167.90" y="22.46" font-size="7.1" fill="#000" font-style="italic" textLength="8.88" lengthAdjust="spacingAndGlyphs">0.2</text>
<path d="M156.10 36.31h1.5M166.00 36.31h-1.5" stroke="#000" stroke-opacity="0.5" stroke-width="0.6"/>
<text x="167.90" y="38.81" font-size="7.1" fill="#000" font-style="italic" textLength="12.43" lengthAdjust="spacingAndGlyphs">0.15</text>
<path d="M156.10 52.65h1.5M166.00 52.65h-1.5" stroke="#000" stroke-opacity="0.5" stroke-width="0.6"/>
<text x="167.90" y="55.15" font-size="7.1" fill="#000" font-style="italic" textLength="8.88" lengthAdjust="spacingAndGlyphs">0.1</text>
<path d="M156.10 68.99h1.5M166.00 68.99h-1.5" stroke="#000" stroke-opacity="0.5" stroke-width="0.6"/>
<text x="167.90" y="71.49" font-size="7.1" fill="#000" font-style="italic" textLength="12.43" lengthAdjust="spacingAndGlyphs">0.05</text>
<path d="M156.10 85.34h1.5M166.00 85.34h-1.5" stroke="#000" stroke-opacity="0.5" stroke-width="0.6"/>
<text x="167.90" y="87.84" font-size="7.1" fill="#000" font-style="italic" textLength="3.55" lengthAdjust="spacingAndGlyphs">0</text>
<path d="M156.10 101.68h1.5M166.00 101.68h-1.5" stroke="#000" stroke-opacity="0.5" stroke-width="0.6"/>
<text x="167.90" y="104.18" font-size="7.1" fill="#000" font-style="italic" textLength="16.17" lengthAdjust="spacingAndGlyphs">−0.05</text>
<path d="M156.10 118.02h1.5M166.00 118.02h-1.5" stroke="#000" stroke-opacity="0.5" stroke-width="0.6"/>
<text x="167.90" y="120.52" font-size="7.1" fill="#000" font-style="italic" textLength="12.61" lengthAdjust="spacingAndGlyphs">−0.1</text>
<path d="M156.10 134.37h1.5M166.00 134.37h-1.5" stroke="#000" stroke-opacity="0.5" stroke-width="0.6"/>
<text x="167.90" y="136.87" font-size="7.1" fill="#000" font-style="italic" textLength="16.17" lengthAdjust="spacingAndGlyphs">−0.15</text>
<path d="M156.10 150.71h1.5M166.00 150.71h-1.5" stroke="#000" stroke-opacity="0.5" stroke-width="0.6"/>
<text x="167.90" y="153.21" font-size="7.1" fill="#000" font-style="italic" textLength="12.61" lengthAdjust="spacingAndGlyphs">−0.2</text>
<text x="28.50" y="12.50" font-size="10.3" fill="#111" stroke="#111" stroke-width="0.25">(a) East-West component</text>
<rect x="195.60" y="146.15" width="7.75" height="6.75" fill="#00ff64"/><rect x="202.34" y="146.15" width="7.75" height="6.75" fill="#00ff64"/><rect x="209.09" y="146.15" width="7.75" height="6.75" fill="#00ff64"/><rect x="215.83" y="146.15" width="7.75" height="6.75" fill="#00ff64"/><rect x="222.58" y="146.15" width="7.75" height="6.75" fill="#00ff64"/><rect x="229.32" y="146.15" width="7.75" height="6.75" fill="#59ff4f"/><rect x="236.07" y="146.15" width="7.75" height="6.75" fill="#59ff4f"/><rect x="242.81" y="146.15" width="7.75" height="6.75" fill="#80ff37"/><rect x="249.56" y="146.15" width="7.75" height="6.75" fill="#80ff37"/><rect x="256.31" y="146.15" width="7.75" height="6.75" fill="#80ff37"/><rect x="263.05" y="146.15" width="7.75" height="6.75" fill="#80ff37"/><rect x="269.80" y="146.15" width="7.75" height="6.75" fill="#80ff37"/><rect x="276.54" y="146.15" width="7.75" height="6.75" fill="#80ff37"/><rect x="283.28" y="146.15" width="7.75" height="6.75" fill="#80ff37"/><rect x="290.03" y="146.15" width="7.75" height="6.75" fill="#59ff4f"/><rect x="296.77" y="146.15" width="7.75" height="6.75" fill="#59ff4f"/><rect x="303.52" y="146.15" width="7.75" height="6.75" fill="#00ff64"/><rect x="310.26" y="146.15" width="7.75" height="6.75" fill="#00ff64"/><rect x="317.01" y="146.15" width="7.75" height="6.75" fill="#00ff64"/><rect x="323.75" y="146.15" width="6.75" height="6.75" fill="#00ff64"/><rect x="195.60" y="139.39" width="7.75" height="7.75" fill="#00ff64"/><rect x="202.34" y="139.39" width="7.75" height="7.75" fill="#00ff64"/><rect x="209.09" y="139.39" width="7.75" height="7.75" fill="#00ff64"/><rect x="215.83" y="139.39" width="7.75" height="7.75" fill="#00ff64"/><rect x="222.58" y="139.39" width="7.75" height="7.75" fill="#59ff4f"/><rect x="229.32" y="139.39" width="7.75" height="7.75" fill="#80ff37"/><rect x="236.07" y="139.39" width="7.75" height="7.75" fill="#9fff13"/><rect x="242.81" y="139.39" width="7.75" height="7.75" fill="#b9ff00"/><rect x="249.56" y="139.39" width="7.75" height="7.75" fill="#b9ff00"/><rect x="256.31" y="139.39" width="7.75" height="7.75" fill="#d2ff00"/><rect x="263.05" y="139.39" width="7.75" height="7.75" fill="#d2ff00"/><rect x="269.80" y="139.39" width="7.75" height="7.75" fill="#d2ff00"/><rect x="276.54" y="139.39" width="7.75" height="7.75" fill="#b9ff00"/><rect x="283.28" y="139.39" width="7.75" height="7.75" fill="#b9ff00"/><rect x="290.03" y="139.39" width="7.75" height="7.75" fill="#9fff13"/><rect x="296.77" y="139.39" width="7.75" height="7.75" fill="#80ff37"/><rect x="303.52" y="139.39" width="7.75" height="7.75" fill="#59ff4f"/><rect x="310.26" y="139.39" width="7.75" height="7.75" fill="#00ff64"/><rect x="317.01" y="139.39" width="7.75" height="7.75" fill="#00ff64"/><rect x="323.75" y="139.39" width="6.75" height="7.75" fill="#00ff64"/><rect x="195.60" y="132.63" width="7.75" height="7.75" fill="#00ff64"/><rect x="202.34" y="132.63" width="7.75" height="7.75" fill="#00ff64"/><rect x="209.09" y="132.63" width="7.75" height="7.75" fill="#00ff64"/><rect x="215.83" y="132.63" width="7.75" height="7.75" fill="#59ff4f"/><rect x="222.58" y="132.63" width="7.75" height="7.75" fill="#80ff37"/><rect x="229.32" y="132.63" width="7.75" height="7.75" fill="#b9ff00"/><rect x="236.07" y="132.63" width="7.75" height="7.75" fill="#d2ff00"/><rect x="242.81" y="132.63" width="7.75" height="7.75" fill="#ffff00"/><rect x="249.56" y="132.63" width="7.75" height="7.75" fill="#fff000"/><rect x="256.31" y="132.63" width="7.75" height="7.75" fill="#fff000"/><rect x="263.05" y="132.63" width="7.75" height="7.75" fill="#ffe000"/><rect x="269.80" y="132.63" width="7.75" height="7.75" fill="#fff000"/><rect x="276.54" y="132.63" width="7.75" height="7.75" fill="#fff000"/><rect x="283.28" y="132.63" width="7.75" height="7.75" fill="#ffff00"/><rect x="290.03" y="132.63" width="7.75" height="7.75" fill="#d2ff00"/><rect x="296.77" y="132.63" width="7.75" height="7.75" fill="#b9ff00"/><rect x="303.52" y="132.63" width="7.75" height="7.75" fill="#80ff37"/><rect x="310.26" y="132.63" width="7.75" height="7.75" fill="#59ff4f"/><rect x="317.01" y="132.63" width="7.75" height="7.75" fill="#00ff64"/><rect x="323.75" y="132.63" width="6.75" height="7.75" fill="#00ff64"/><rect x="195.60" y="125.88" width="7.75" height="7.75" fill="#00ff64"/><rect x="202.34" y="125.88" width="7.75" height="7.75" fill="#00ff64"/><rect x="209.09" y="125.88" width="7.75" height="7.75" fill="#59ff4f"/><rect x="215.83" y="125.88" width="7.75" height="7.75" fill="#80ff37"/><rect x="222.58" y="125.88" width="7.75" height="7.75" fill="#b9ff00"/><rect x="229.32" y="125.88" width="7.75" height="7.75" fill="#e9ff00"/><rect x="236.07" y="125.88" width="7.75" height="7.75" fill="#ffe000"/><rect x="242.81" y="125.88" width="7.75" height="7.75" fill="#ffc100"/><rect x="249.56" y="125.88" width="7.75" height="7.75" fill="#ffa100"/><rect x="256.31" y="125.88" width="7.75" height="7.75" fill="#ff9100"/><rect x="263.05" y="125.88" width="7.75" height="7.75" fill="#ff9100"/><rect x="269.80" y="125.88" width="7.75" height="7.75" fill="#ff9100"/><rect x="276.54" y="125.88" width="7.75" height="7.75" fill="#ffa100"/><rect x="283.28" y="125.88" width="7.75" height="7.75" fill="#ffc100"/><rect x="290.03" y="125.88" width="7.75" height="7.75" fill="#ffe000"/><rect x="296.77" y="125.88" width="7.75" height="7.75" fill="#e9ff00"/><rect x="303.52" y="125.88" width="7.75" height="7.75" fill="#b9ff00"/><rect x="310.26" y="125.88" width="7.75" height="7.75" fill="#80ff37"/><rect x="317.01" y="125.88" width="7.75" height="7.75" fill="#59ff4f"/><rect x="323.75" y="125.88" width="6.75" height="7.75" fill="#00ff64"/><rect x="195.60" y="119.12" width="7.75" height="7.75" fill="#00ff64"/><rect x="202.34" y="119.12" width="7.75" height="7.75" fill="#00ff64"/><rect x="209.09" y="119.12" width="7.75" height="7.75" fill="#59ff4f"/><rect x="215.83" y="119.12" width="7.75" height="7.75" fill="#9fff13"/><rect x="222.58" y="119.12" width="7.75" height="7.75" fill="#e9ff00"/><rect x="229.32" y="119.12" width="7.75" height="7.75" fill="#ffe000"/><rect x="236.07" y="119.12" width="7.75" height="7.75" fill="#ffa100"/><rect x="242.81" y="119.12" width="7.75" height="7.75" fill="#ff7000"/><rect x="249.56" y="119.12" width="7.75" height="7.75" fill="#ff3e00"/><rect x="256.31" y="119.12" width="7.75" height="7.75" fill="#ff2c00"/><rect x="263.05" y="119.12" width="7.75" height="7.75" fill="#ff1a00"/><rect x="269.80" y="119.12" width="7.75" height="7.75" fill="#ff2c00"/><rect x="276.54" y="119.12" width="7.75" height="7.75" fill="#ff3e00"/><rect x="283.28" y="119.12" width="7.75" height="7.75" fill="#ff7000"/><rect x="290.03" y="119.12" width="7.75" height="7.75" fill="#ffa100"/><rect x="296.77" y="119.12" width="7.75" height="7.75" fill="#ffe000"/><rect x="303.52" y="119.12" width="7.75" height="7.75" fill="#e9ff00"/><rect x="310.26" y="119.12" width="7.75" height="7.75" fill="#9fff13"/><rect x="317.01" y="119.12" width="7.75" height="7.75" fill="#59ff4f"/><rect x="323.75" y="119.12" width="6.75" height="7.75" fill="#00ff64"/><rect x="195.60" y="112.37" width="7.75" height="7.75" fill="#00ff64"/><rect x="202.34" y="112.37" width="7.75" height="7.75" fill="#59ff4f"/><rect x="209.09" y="112.37" width="7.75" height="7.75" fill="#80ff37"/><rect x="215.83" y="112.37" width="7.75" height="7.75" fill="#b9ff00"/><rect x="222.58" y="112.37" width="7.75" height="7.75" fill="#fff000"/><rect x="229.32" y="112.37" width="7.75" height="7.75" fill="#ffb100"/><rect x="236.07" y="112.37" width="7.75" height="7.75" fill="#ff5f00"/><rect x="242.81" y="112.37" width="7.75" height="7.75" fill="#ff1a00"/><rect x="249.56" y="112.37" width="7.75" height="7.75" fill="#ff0000"/><rect x="256.31" y="112.37" width="7.75" height="7.75" fill="#e00000"/><rect x="263.05" y="112.37" width="7.75" height="7.75" fill="#e00000"/><rect x="269.80" y="112.37" width="7.75" height="7.75" fill="#e00000"/><rect x="276.54" y="112.37" width="7.75" height="7.75" fill="#ff0000"/><rect x="283.28" y="112.37" width="7.75" height="7.75" fill="#ff1a00"/><rect x="290.03" y="112.37" width="7.75" height="7.75" fill="#ff5f00"/><rect x="296.77" y="112.37" width="7.75" height="7.75" fill="#ffb100"/><rect x="303.52" y="112.37" width="7.75" height="7.75" fill="#fff000"/><rect x="310.26" y="112.37" width="7.75" height="7.75" fill="#b9ff00"/><rect x="317.01" y="112.37" width="7.75" height="7.75" fill="#80ff37"/><rect x="323.75" y="112.37" width="6.75" height="7.75" fill="#59ff4f"/><rect x="195.60" y="105.62" width="7.75" height="7.75" fill="#00ff64"/><rect x="202.34" y="105.62" width="7.75" height="7.75" fill="#59ff4f"/><rect x="209.09" y="105.62" width="7.75" height="7.75" fill="#80ff37"/><rect x="215.83" y="105.62" width="7.75" height="7.75" fill="#d2ff00"/><rect x="222.58" y="105.62" width="7.75" height="7.75" fill="#ffe000"/><rect x="229.32" y="105.62" width="7.75" height="7.75" fill="#ff9100"/><rect x="236.07" y="105.62" width="7.75" height="7.75" fill="#ff3e00"/><rect x="242.81" y="105.62" width="7.75" height="7.75" fill="#ff0000"/><rect x="249.56" y="105.62" width="7.75" height="7.75" fill="#bb0000"/><rect x="256.31" y="105.62" width="7.75" height="7.75" fill="#960000"/><rect x="263.05" y="105.62" width="7.75" height="7.75" fill="#960000"/><rect x="269.80" y="105.62" width="7.75" height="7.75" fill="#960000"/><rect x="276.54" y="105.62" width="7.75" height="7.75" fill="#bb0000"/><rect x="283.28" y="105.62" width="7.75" height="7.75" fill="#ff0000"/><rect x="290.03" y="105.62" width="7.75" height="7.75" fill="#ff3e00"/><rect x="296.77" y="105.62" width="7.75" height="7.75" fill="#ff9100"/><rect x="303.52" y="105.62" width="7.75" height="7.75" fill="#ffe000"/><rect x="310.26" y="105.62" width="7.75" height="7.75" fill="#d2ff00"/><rect x="317.01" y="105.62" width="7.75" height="7.75" fill="#80ff37"/><rect x="323.75" y="105.62" width="6.75" height="7.75" fill="#59ff4f"/><rect x="195.60" y="98.86" width="7.75" height="7.75" fill="#00ff64"/><rect x="202.34" y="98.86" width="7.75" height="7.75" fill="#59ff4f"/><rect x="209.09" y="98.86" width="7.75" height="7.75" fill="#80ff37"/><rect x="215.83" y="98.86" width="7.75" height="7.75" fill="#d2ff00"/><rect x="222.58" y="98.86" width="7.75" height="7.75" fill="#ffe000"/><rect x="229.32" y="98.86" width="7.75" height="7.75" fill="#ff9100"/><rect x="236.07" y="98.86" width="7.75" height="7.75" fill="#ff3e00"/><rect x="242.81" y="98.86" width="7.75" height="7.75" fill="#ff0000"/><rect x="249.56" y="98.86" width="7.75" height="7.75" fill="#bb0000"/><rect x="256.31" y="98.86" width="7.75" height="7.75" fill="#960000"/><rect x="263.05" y="98.86" width="7.75" height="7.75" fill="#960000"/><rect x="269.80" y="98.86" width="7.75" height="7.75" fill="#960000"/><rect x="276.54" y="98.86" width="7.75" height="7.75" fill="#bb0000"/><rect x="283.28" y="98.86" width="7.75" height="7.75" fill="#ff0000"/><rect x="290.03" y="98.86" width="7.75" height="7.75" fill="#ff3e00"/><rect x="296.77" y="98.86" width="7.75" height="7.75" fill="#ff9100"/><rect x="303.52" y="98.86" width="7.75" height="7.75" fill="#ffe000"/><rect x="310.26" y="98.86" width="7.75" height="7.75" fill="#d2ff00"/><rect x="317.01" y="98.86" width="7.75" height="7.75" fill="#80ff37"/><rect x="323.75" y="98.86" width="6.75" height="7.75" fill="#59ff4f"/><rect x="195.60" y="92.11" width="7.75" height="7.75" fill="#00ff64"/><rect x="202.34" y="92.11" width="7.75" height="7.75" fill="#59ff4f"/><rect x="209.09" y="92.11" width="7.75" height="7.75" fill="#80ff37"/><rect x="215.83" y="92.11" width="7.75" height="7.75" fill="#b9ff00"/><rect x="222.58" y="92.11" width="7.75" height="7.75" fill="#ffff00"/><rect x="229.32" y="92.11" width="7.75" height="7.75" fill="#ffc100"/><rect x="236.07" y="92.11" width="7.75" height="7.75" fill="#ff7000"/><rect x="242.81" y="92.11" width="7.75" height="7.75" fill="#ff2c00"/><rect x="249.56" y="92.11" width="7.75" height="7.75" fill="#ff0000"/><rect x="256.31" y="92.11" width="7.75" height="7.75" fill="#ff0000"/><rect x="263.05" y="92.11" width="7.75" height="7.75" fill="#ff0000"/><rect x="269.80" y="92.11" width="7.75" height="7.75" fill="#ff0000"/><rect x="276.54" y="92.11" width="7.75" height="7.75" fill="#ff0000"/><rect x="283.28" y="92.11" width="7.75" height="7.75" fill="#ff2c00"/><rect x="290.03" y="92.11" width="7.75" height="7.75" fill="#ff7000"/><rect x="296.77" y="92.11" width="7.75" height="7.75" fill="#ffc100"/><rect x="303.52" y="92.11" width="7.75" height="7.75" fill="#ffff00"/><rect x="310.26" y="92.11" width="7.75" height="7.75" fill="#b9ff00"/><rect x="317.01" y="92.11" width="7.75" height="7.75" fill="#80ff37"/><rect x="323.75" y="92.11" width="6.75" height="7.75" fill="#59ff4f"/><rect x="195.60" y="85.35" width="7.75" height="7.75" fill="#00ff64"/><rect x="202.34" y="85.35" width="7.75" height="7.75" fill="#00ff64"/><rect x="209.09" y="85.35" width="7.75" height="7.75" fill="#59ff4f"/><rect x="215.83" y="85.35" width="7.75" height="7.75" fill="#80ff37"/><rect x="222.58" y="85.35" width="7.75" height="7.75" fill="#b9ff00"/><rect x="229.32" y="85.35" width="7.75" height="7.75" fill="#e9ff00"/><rect x="236.07" y="85.35" width="7.75" height="7.75" fill="#ffe000"/><rect x="242.81" y="85.35" width="7.75" height="7.75" fill="#ffc100"/><rect x="249.56" y="85.35" width="7.75" height="7.75" fill="#ffa100"/><rect x="256.31" y="85.35" width="7.75" height="7.75" fill="#ff9100"/><rect x="263.05" y="85.35" width="7.75" height="7.75" fill="#ff9100"/><rect x="269.80" y="85.35" width="7.75" height="7.75" fill="#ff9100"/><rect x="276.54" y="85.35" width="7.75" height="7.75" fill="#ffa100"/><rect x="283.28" y="85.35" width="7.75" height="7.75" fill="#ffc100"/><rect x="290.03" y="85.35" width="7.75" height="7.75" fill="#ffe000"/><rect x="296.77" y="85.35" width="7.75" height="7.75" fill="#e9ff00"/><rect x="303.52" y="85.35" width="7.75" height="7.75" fill="#b9ff00"/><rect x="310.26" y="85.35" width="7.75" height="7.75" fill="#80ff37"/><rect x="317.01" y="85.35" width="7.75" height="7.75" fill="#59ff4f"/><rect x="323.75" y="85.35" width="6.75" height="7.75" fill="#00ff64"/><rect x="195.60" y="78.60" width="7.75" height="7.75" fill="#00ff64"/><rect x="202.34" y="78.60" width="7.75" height="7.75" fill="#00ff64"/><rect x="209.09" y="78.60" width="7.75" height="7.75" fill="#00ff64"/><rect x="215.83" y="78.60" width="7.75" height="7.75" fill="#00ff64"/><rect x="222.58" y="78.60" width="7.75" height="7.75" fill="#00ff64"/><rect x="229.32" y="78.60" width="7.75" height="7.75" fill="#00ff64"/><rect x="236.07" y="78.60" width="7.75" height="7.75" fill="#00ff64"/><rect x="242.81" y="78.60" width="7.75" height="7.75" fill="#00ff64"/><rect x="249.56" y="78.60" width="7.75" height="7.75" fill="#00ff64"/><rect x="256.31" y="78.60" width="7.75" height="7.75" fill="#00ff64"/><rect x="263.05" y="78.60" width="7.75" height="7.75" fill="#00ff64"/><rect x="269.80" y="78.60" width="7.75" height="7.75" fill="#00ff64"/><rect x="276.54" y="78.60" width="7.75" height="7.75" fill="#00ff64"/><rect x="283.28" y="78.60" width="7.75" height="7.75" fill="#00ff64"/><rect x="290.03" y="78.60" width="7.75" height="7.75" fill="#00ff64"/><rect x="296.77" y="78.60" width="7.75" height="7.75" fill="#00ff64"/><rect x="303.52" y="78.60" width="7.75" height="7.75" fill="#00ff64"/><rect x="310.26" y="78.60" width="7.75" height="7.75" fill="#00ff64"/><rect x="317.01" y="78.60" width="7.75" height="7.75" fill="#00ff64"/><rect x="323.75" y="78.60" width="6.75" height="7.75" fill="#00ff64"/><rect x="195.60" y="71.84" width="7.75" height="7.75" fill="#00ff77"/><rect x="202.34" y="71.84" width="7.75" height="7.75" fill="#00ff77"/><rect x="209.09" y="71.84" width="7.75" height="7.75" fill="#00ff77"/><rect x="215.83" y="71.84" width="7.75" height="7.75" fill="#00ff89"/><rect x="222.58" y="71.84" width="7.75" height="7.75" fill="#00ff9b"/><rect x="229.32" y="71.84" width="7.75" height="7.75" fill="#00ffac"/><rect x="236.07" y="71.84" width="7.75" height="7.75" fill="#00ffbd"/><rect x="242.81" y="71.84" width="7.75" height="7.75" fill="#00ffdf"/><rect x="249.56" y="71.84" width="7.75" height="7.75" fill="#00ffef"/><rect x="256.31" y="71.84" width="7.75" height="7.75" fill="#00ffef"/><rect x="263.05" y="71.84" width="7.75" height="7.75" fill="#00ffef"/><rect x="269.80" y="71.84" width="7.75" height="7.75" fill="#00ffef"/><rect x="276.54" y="71.84" width="7.75" height="7.75" fill="#00ffef"/><rect x="283.28" y="71.84" width="7.75" height="7.75" fill="#00ffdf"/><rect x="290.03" y="71.84" width="7.75" height="7.75" fill="#00ffbd"/><rect x="296.77" y="71.84" width="7.75" height="7.75" fill="#00ffac"/><rect x="303.52" y="71.84" width="7.75" height="7.75" fill="#00ff9b"/><rect x="310.26" y="71.84" width="7.75" height="7.75" fill="#00ff89"/><rect x="317.01" y="71.84" width="7.75" height="7.75" fill="#00ff77"/><rect x="323.75" y="71.84" width="6.75" height="7.75" fill="#00ff77"/><rect x="195.60" y="65.09" width="7.75" height="7.75" fill="#00ff77"/><rect x="202.34" y="65.09" width="7.75" height="7.75" fill="#00ff77"/><rect x="209.09" y="65.09" width="7.75" height="7.75" fill="#00ff89"/><rect x="215.83" y="65.09" width="7.75" height="7.75" fill="#00ffac"/><rect x="222.58" y="65.09" width="7.75" height="7.75" fill="#00ffce"/><rect x="229.32" y="65.09" width="7.75" height="7.75" fill="#00ffff"/><rect x="236.07" y="65.09" width="7.75" height="7.75" fill="#00c1ff"/><rect x="242.81" y="65.09" width="7.75" height="7.75" fill="#0091ff"/><rect x="249.56" y="65.09" width="7.75" height="7.75" fill="#0070ff"/><rect x="256.31" y="65.09" width="7.75" height="7.75" fill="#004fff"/><rect x="263.05" y="65.09" width="7.75" height="7.75" fill="#004fff"/><rect x="269.80" y="65.09" width="7.75" height="7.75" fill="#004fff"/><rect x="276.54" y="65.09" width="7.75" height="7.75" fill="#0070ff"/><rect x="283.28" y="65.09" width="7.75" height="7.75" fill="#0091ff"/><rect x="290.03" y="65.09" width="7.75" height="7.75" fill="#00c1ff"/><rect x="296.77" y="65.09" width="7.75" height="7.75" fill="#00ffff"/><rect x="303.52" y="65.09" width="7.75" height="7.75" fill="#00ffce"/><rect x="310.26" y="65.09" width="7.75" height="7.75" fill="#00ffac"/><rect x="317.01" y="65.09" width="7.75" height="7.75" fill="#00ff89"/><rect x="323.75" y="65.09" width="6.75" height="7.75" fill="#00ff77"/><rect x="195.60" y="58.33" width="7.75" height="7.75" fill="#00ff77"/><rect x="202.34" y="58.33" width="7.75" height="7.75" fill="#00ff77"/><rect x="209.09" y="58.33" width="7.75" height="7.75" fill="#00ff9b"/><rect x="215.83" y="58.33" width="7.75" height="7.75" fill="#00ffbd"/><rect x="222.58" y="58.33" width="7.75" height="7.75" fill="#00ffff"/><rect x="229.32" y="58.33" width="7.75" height="7.75" fill="#00c1ff"/><rect x="236.07" y="58.33" width="7.75" height="7.75" fill="#0070ff"/><rect x="242.81" y="58.33" width="7.75" height="7.75" fill="#001aff"/><rect x="249.56" y="58.33" width="7.75" height="7.75" fill="#0000e4"/><rect x="256.31" y="58.33" width="7.75" height="7.75" fill="#0000c4"/><rect x="263.05" y="58.33" width="7.75" height="7.75" fill="#0000c4"/><rect x="269.80" y="58.33" width="7.75" height="7.75" fill="#0000c4"/><rect x="276.54" y="58.33" width="7.75" height="7.75" fill="#0000e4"/><rect x="283.28" y="58.33" width="7.75" height="7.75" fill="#001aff"/><rect x="290.03" y="58.33" width="7.75" height="7.75" fill="#0070ff"/><rect x="296.77" y="58.33" width="7.75" height="7.75" fill="#00c1ff"/><rect x="303.52" y="58.33" width="7.75" height="7.75" fill="#00ffff"/><rect x="310.26" y="58.33" width="7.75" height="7.75" fill="#00ffbd"/><rect x="317.01" y="58.33" width="7.75" height="7.75" fill="#00ff9b"/><rect x="323.75" y="58.33" width="6.75" height="7.75" fill="#00ff77"/><rect x="195.60" y="51.58" width="7.75" height="7.75" fill="#00ff77"/><rect x="202.34" y="51.58" width="7.75" height="7.75" fill="#00ff89"/><rect x="209.09" y="51.58" width="7.75" height="7.75" fill="#00ff9b"/><rect x="215.83" y="51.58" width="7.75" height="7.75" fill="#00ffce"/><rect x="222.58" y="51.58" width="7.75" height="7.75" fill="#00f0ff"/><rect x="229.32" y="51.58" width="7.75" height="7.75" fill="#00a1ff"/><rect x="236.07" y="51.58" width="7.75" height="7.75" fill="#004fff"/><rect x="242.81" y="51.58" width="7.75" height="7.75" fill="#0000f4"/><rect x="249.56" y="51.58" width="7.75" height="7.75" fill="#0000b4"/><rect x="256.31" y="51.58" width="7.75" height="7.75" fill="#000094"/><rect x="263.05" y="51.58" width="7.75" height="7.75" fill="#000094"/><rect x="269.80" y="51.58" width="7.75" height="7.75" fill="#000094"/><rect x="276.54" y="51.58" width="7.75" height="7.75" fill="#0000b4"/><rect x="283.28" y="51.58" width="7.75" height="7.75" fill="#0000f4"/><rect x="290.03" y="51.58" width="7.75" height="7.75" fill="#004fff"/><rect x="296.77" y="51.58" width="7.75" height="7.75" fill="#00a1ff"/><rect x="303.52" y="51.58" width="7.75" height="7.75" fill="#00f0ff"/><rect x="310.26" y="51.58" width="7.75" height="7.75" fill="#00ffce"/><rect x="317.01" y="51.58" width="7.75" height="7.75" fill="#00ff9b"/><rect x="323.75" y="51.58" width="6.75" height="7.75" fill="#00ff89"/><rect x="195.60" y="44.82" width="7.75" height="7.75" fill="#00ff77"/><rect x="202.34" y="44.82" width="7.75" height="7.75" fill="#00ff89"/><rect x="209.09" y="44.82" width="7.75" height="7.75" fill="#00ff9b"/><rect x="215.83" y="44.82" width="7.75" height="7.75" fill="#00ffbd"/><rect x="222.58" y="44.82" width="7.75" height="7.75" fill="#00ffff"/><rect x="229.32" y="44.82" width="7.75" height="7.75" fill="#00b1ff"/><rect x="236.07" y="44.82" width="7.75" height="7.75" fill="#005fff"/><rect x="242.81" y="44.82" width="7.75" height="7.75" fill="#001aff"/><rect x="249.56" y="44.82" width="7.75" height="7.75" fill="#0000e4"/><rect x="256.31" y="44.82" width="7.75" height="7.75" fill="#0000c4"/><rect x="263.05" y="44.82" width="7.75" height="7.75" fill="#0000b4"/><rect x="269.80" y="44.82" width="7.75" height="7.75" fill="#0000c4"/><rect x="276.54" y="44.82" width="7.75" height="7.75" fill="#0000e4"/><rect x="283.28" y="44.82" width="7.75" height="7.75" fill="#001aff"/><rect x="290.03" y="44.82" width="7.75" height="7.75" fill="#005fff"/><rect x="296.77" y="44.82" width="7.75" height="7.75" fill="#00b1ff"/><rect x="303.52" y="44.82" width="7.75" height="7.75" fill="#00ffff"/><rect x="310.26" y="44.82" width="7.75" height="7.75" fill="#00ffbd"/><rect x="317.01" y="44.82" width="7.75" height="7.75" fill="#00ff9b"/><rect x="323.75" y="44.82" width="6.75" height="7.75" fill="#00ff89"/><rect x="195.60" y="38.07" width="7.75" height="7.75" fill="#00ff77"/><rect x="202.34" y="38.07" width="7.75" height="7.75" fill="#00ff77"/><rect x="209.09" y="38.07" width="7.75" height="7.75" fill="#00ff89"/><rect x="215.83" y="38.07" width="7.75" height="7.75" fill="#00ffac"/><rect x="222.58" y="38.07" width="7.75" height="7.75" fill="#00ffdf"/><rect x="229.32" y="38.07" width="7.75" height="7.75" fill="#00e0ff"/><rect x="236.07" y="38.07" width="7.75" height="7.75" fill="#00a1ff"/><rect x="242.81" y="38.07" width="7.75" height="7.75" fill="#005fff"/><rect x="249.56" y="38.07" width="7.75" height="7.75" fill="#003eff"/><rect x="256.31" y="38.07" width="7.75" height="7.75" fill="#001aff"/><rect x="263.05" y="38.07" width="7.75" height="7.75" fill="#001aff"/><rect x="269.80" y="38.07" width="7.75" height="7.75" fill="#001aff"/><rect x="276.54" y="38.07" width="7.75" height="7.75" fill="#003eff"/><rect x="283.28" y="38.07" width="7.75" height="7.75" fill="#005fff"/><rect x="290.03" y="38.07" width="7.75" height="7.75" fill="#00a1ff"/><rect x="296.77" y="38.07" width="7.75" height="7.75" fill="#00e0ff"/><rect x="303.52" y="38.07" width="7.75" height="7.75" fill="#00ffdf"/><rect x="310.26" y="38.07" width="7.75" height="7.75" fill="#00ffac"/><rect x="317.01" y="38.07" width="7.75" height="7.75" fill="#00ff89"/><rect x="323.75" y="38.07" width="6.75" height="7.75" fill="#00ff77"/><rect x="195.60" y="31.31" width="7.75" height="7.75" fill="#00ff77"/><rect x="202.34" y="31.31" width="7.75" height="7.75" fill="#00ff77"/><rect x="209.09" y="31.31" width="7.75" height="7.75" fill="#00ff89"/><rect x="215.83" y="31.31" width="7.75" height="7.75" fill="#00ff9b"/><rect x="222.58" y="31.31" width="7.75" height="7.75" fill="#00ffbd"/><rect x="229.32" y="31.31" width="7.75" height="7.75" fill="#00ffdf"/><rect x="236.07" y="31.31" width="7.75" height="7.75" fill="#00f0ff"/><rect x="242.81" y="31.31" width="7.75" height="7.75" fill="#00c1ff"/><rect x="249.56" y="31.31" width="7.75" height="7.75" fill="#00a1ff"/><rect x="256.31" y="31.31" width="7.75" height="7.75" fill="#0091ff"/><rect x="263.05" y="31.31" width="7.75" height="7.75" fill="#0091ff"/><rect x="269.80" y="31.31" width="7.75" height="7.75" fill="#0091ff"/><rect x="276.54" y="31.31" width="7.75" height="7.75" fill="#00a1ff"/><rect x="283.28" y="31.31" width="7.75" height="7.75" fill="#00c1ff"/><rect x="290.03" y="31.31" width="7.75" height="7.75" fill="#00f0ff"/><rect x="296.77" y="31.31" width="7.75" height="7.75" fill="#00ffdf"/><rect x="303.52" y="31.31" width="7.75" height="7.75" fill="#00ffbd"/><rect x="310.26" y="31.31" width="7.75" height="7.75" fill="#00ff9b"/><rect x="317.01" y="31.31" width="7.75" height="7.75" fill="#00ff89"/><rect x="323.75" y="31.31" width="6.75" height="7.75" fill="#00ff77"/><rect x="195.60" y="24.56" width="7.75" height="7.75" fill="#00ff77"/><rect x="202.34" y="24.56" width="7.75" height="7.75" fill="#00ff77"/><rect x="209.09" y="24.56" width="7.75" height="7.75" fill="#00ff77"/><rect x="215.83" y="24.56" width="7.75" height="7.75" fill="#00ff89"/><rect x="222.58" y="24.56" width="7.75" height="7.75" fill="#00ff9b"/><rect x="229.32" y="24.56" width="7.75" height="7.75" fill="#00ffbd"/><rect x="236.07" y="24.56" width="7.75" height="7.75" fill="#00ffce"/><rect x="242.81" y="24.56" width="7.75" height="7.75" fill="#00ffef"/><rect x="249.56" y="24.56" width="7.75" height="7.75" fill="#00ffff"/><rect x="256.31" y="24.56" width="7.75" height="7.75" fill="#00f0ff"/><rect x="263.05" y="24.56" width="7.75" height="7.75" fill="#00f0ff"/><rect x="269.80" y="24.56" width="7.75" height="7.75" fill="#00f0ff"/><rect x="276.54" y="24.56" width="7.75" height="7.75" fill="#00ffff"/><rect x="283.28" y="24.56" width="7.75" height="7.75" fill="#00ffef"/><rect x="290.03" y="24.56" width="7.75" height="7.75" fill="#00ffce"/><rect x="296.77" y="24.56" width="7.75" height="7.75" fill="#00ffbd"/><rect x="303.52" y="24.56" width="7.75" height="7.75" fill="#00ff9b"/><rect x="310.26" y="24.56" width="7.75" height="7.75" fill="#00ff89"/><rect x="317.01" y="24.56" width="7.75" height="7.75" fill="#00ff77"/><rect x="323.75" y="24.56" width="6.75" height="7.75" fill="#00ff77"/><rect x="195.60" y="17.80" width="7.75" height="7.75" fill="#00ff64"/><rect x="202.34" y="17.80" width="7.75" height="7.75" fill="#00ff77"/><rect x="209.09" y="17.80" width="7.75" height="7.75" fill="#00ff77"/><rect x="215.83" y="17.80" width="7.75" height="7.75" fill="#00ff77"/><rect x="222.58" y="17.80" width="7.75" height="7.75" fill="#00ff89"/><rect x="229.32" y="17.80" width="7.75" height="7.75" fill="#00ff9b"/><rect x="236.07" y="17.80" width="7.75" height="7.75" fill="#00ffac"/><rect x="242.81" y="17.80" width="7.75" height="7.75" fill="#00ffac"/><rect x="249.56" y="17.80" width="7.75" height="7.75" fill="#00ffbd"/><rect x="256.31" y="17.80" width="7.75" height="7.75" fill="#00ffbd"/><rect x="263.05" y="17.80" width="7.75" height="7.75" fill="#00ffce"/><rect x="269.80" y="17.80" width="7.75" height="7.75" fill="#00ffbd"/><rect x="276.54" y="17.80" width="7.75" height="7.75" fill="#00ffbd"/><rect x="283.28" y="17.80" width="7.75" height="7.75" fill="#00ffac"/><rect x="290.03" y="17.80" width="7.75" height="7.75" fill="#00ffac"/><rect x="296.77" y="17.80" width="7.75" height="7.75" fill="#00ff9b"/><rect x="303.52" y="17.80" width="7.75" height="7.75" fill="#00ff89"/><rect x="310.26" y="17.80" width="7.75" height="7.75" fill="#00ff77"/><rect x="317.01" y="17.80" width="7.75" height="7.75" fill="#00ff77"/><rect x="323.75" y="17.80" width="6.75" height="7.75" fill="#00ff77"/>
<path d="M202.34 17.80V152.90M195.60 24.55H330.50M209.09 17.80V152.90M195.60 31.31H330.50M215.83 17.80V152.90M195.60 38.06H330.50M222.58 17.80V152.90M195.60 44.82H330.50M229.32 17.80V152.90M195.60 51.58H330.50M236.07 17.80V152.90M195.60 58.33H330.50M242.81 17.80V152.90M195.60 65.08H330.50M249.56 17.80V152.90M195.60 71.84H330.50M256.31 17.80V152.90M195.60 78.59H330.50M263.05 17.80V152.90M195.60 85.35H330.50M269.80 17.80V152.90M195.60 92.10H330.50M276.54 17.80V152.90M195.60 98.86H330.50M283.28 17.80V152.90M195.60 105.61H330.50M290.03 17.80V152.90M195.60 112.37H330.50M296.77 17.80V152.90M195.60 119.12H330.50M303.52 17.80V152.90M195.60 125.88H330.50M310.26 17.80V152.90M195.60 132.63H330.50M317.01 17.80V152.90M195.60 139.39H330.50M323.75 17.80V152.90M195.60 146.15H330.50" stroke="#000" stroke-opacity="0.42" stroke-width="0.7" fill="none"/>
<text x="202.34" y="160.40" font-size="7.1" fill="#000" text-anchor="middle" textLength="3.55" lengthAdjust="spacingAndGlyphs">2</text>
<text x="193.60" y="148.45" font-size="7.1" fill="#000" text-anchor="end" textLength="3.55" lengthAdjust="spacingAndGlyphs">2</text>
<text x="215.83" y="160.40" font-size="7.1" fill="#000" text-anchor="middle" textLength="3.55" lengthAdjust="spacingAndGlyphs">4</text>
<text x="193.60" y="134.94" font-size="7.1" fill="#000" text-anchor="end" textLength="3.55" lengthAdjust="spacingAndGlyphs">4</text>
<text x="229.32" y="160.40" font-size="7.1" fill="#000" text-anchor="middle" textLength="3.55" lengthAdjust="spacingAndGlyphs">6</text>
<text x="193.60" y="121.42" font-size="7.1" fill="#000" text-anchor="end" textLength="3.55" lengthAdjust="spacingAndGlyphs">6</text>
<text x="242.81" y="160.40" font-size="7.1" fill="#000" text-anchor="middle" textLength="3.55" lengthAdjust="spacingAndGlyphs">8</text>
<text x="193.60" y="107.92" font-size="7.1" fill="#000" text-anchor="end" textLength="3.55" lengthAdjust="spacingAndGlyphs">8</text>
<text x="256.31" y="160.40" font-size="7.1" fill="#000" text-anchor="middle" textLength="7.11" lengthAdjust="spacingAndGlyphs">10</text>
<text x="193.60" y="94.41" font-size="7.1" fill="#000" text-anchor="end" textLength="7.11" lengthAdjust="spacingAndGlyphs">10</text>
<text x="269.80" y="160.40" font-size="7.1" fill="#000" text-anchor="middle" textLength="7.11" lengthAdjust="spacingAndGlyphs">12</text>
<text x="193.60" y="80.90" font-size="7.1" fill="#000" text-anchor="end" textLength="7.11" lengthAdjust="spacingAndGlyphs">12</text>
<text x="283.28" y="160.40" font-size="7.1" fill="#000" text-anchor="middle" textLength="7.11" lengthAdjust="spacingAndGlyphs">14</text>
<text x="193.60" y="67.39" font-size="7.1" fill="#000" text-anchor="end" textLength="7.11" lengthAdjust="spacingAndGlyphs">14</text>
<text x="296.77" y="160.40" font-size="7.1" fill="#000" text-anchor="middle" textLength="7.11" lengthAdjust="spacingAndGlyphs">16</text>
<text x="193.60" y="53.88" font-size="7.1" fill="#000" text-anchor="end" textLength="7.11" lengthAdjust="spacingAndGlyphs">16</text>
<text x="310.26" y="160.40" font-size="7.1" fill="#000" text-anchor="middle" textLength="7.11" lengthAdjust="spacingAndGlyphs">18</text>
<text x="193.60" y="40.37" font-size="7.1" fill="#000" text-anchor="end" textLength="7.11" lengthAdjust="spacingAndGlyphs">18</text>
<text x="323.75" y="160.40" font-size="7.1" fill="#000" text-anchor="middle" textLength="7.11" lengthAdjust="spacingAndGlyphs">20</text>
<text x="193.60" y="26.86" font-size="7.1" fill="#000" text-anchor="end" textLength="7.11" lengthAdjust="spacingAndGlyphs">20</text>
<defs><linearGradient id="g1" x1="0" y1="0" x2="0" y2="1"><stop offset="0.0078" stop-color="#960000"/><stop offset="0.0234" stop-color="#a90000"/><stop offset="0.0391" stop-color="#bb0000"/><stop offset="0.0547" stop-color="#cd0000"/><stop offset="0.0703" stop-color="#e00000"/><stop offset="0.0859" stop-color="#f20000"/><stop offset="0.1016" stop-color="#ff0000"/><stop offset="0.1172" stop-color="#ff0000"/><stop offset="0.1328" stop-color="#ff0000"/><stop offset="0.1484" stop-color="#ff0700"/><stop offset="0.1641" stop-color="#ff1a00"/><stop offset="0.1797" stop-color="#ff2c00"/><stop offset="0.1953" stop-color="#ff3e00"/><stop offset="0.2109" stop-color="#ff4f00"/><stop offset="0.2266" stop-color="#ff5f00"/><stop offset="0.2422" stop-color="#ff7000"/><stop offset="0.2578" stop-color="#ff8100"/><stop offset="0.2734" stop-color="#ff9100"/><stop offset="0.2891" stop-color="#ffa100"/><stop offset="0.3047" stop-color="#ffb100"/><stop offset="0.3203" stop-color="#ffc100"/><stop offset="0.3359" stop-color="#ffd000"/><stop offset="0.3516" stop-color="#ffe000"/><stop offset="0.3672" stop-color="#fff000"/><stop offset="0.3828" stop-color="#ffff00"/><stop offset="0.3984" stop-color="#e9ff00"/><stop offset="0.4141" stop-color="#d2ff00"/><stop offset="0.4297" stop-color="#b9ff00"/><stop offset="0.4453" stop-color="#9fff13"/><stop offset="0.4609" stop-color="#80ff37"/><stop offset="0.4766" stop-color="#59ff4f"/><stop offset="0.4922" stop-color="#00ff64"/><stop offset="0.5078" stop-color="#00ff77"/><stop offset="0.5234" stop-color="#00ff89"/><stop offset="0.5391" stop-color="#00ff9b"/><stop offset="0.5547" stop-color="#00ffac"/><stop offset="0.5703" stop-color="#00ffbd"/><stop offset="0.5859" stop-color="#00ffce"/><stop offset="0.6016" stop-color="#00ffdf"/><stop offset="0.6172" stop-color="#00ffef"/><stop offset="0.6328" stop-color="#00ffff"/><stop offset="0.6484" stop-color="#00f0ff"/><stop offset="0.6641" stop-color="#00e0ff"/><stop offset="0.6797" stop-color="#00d0ff"/><stop offset="0.6953" stop-color="#00c1ff"/><stop offset="0.7109" stop-color="#00b1ff"/><stop offset="0.7266" stop-color="#00a1ff"/><stop offset="0.7422" stop-color="#0091ff"/><stop offset="0.7578" stop-color="#0081ff"/><stop offset="0.7734" stop-color="#0070ff"/><stop offset="0.7891" stop-color="#005fff"/><stop offset="0.8047" stop-color="#004fff"/><stop offset="0.8203" stop-color="#003eff"/><stop offset="0.8359" stop-color="#002cff"/><stop offset="0.8516" stop-color="#001aff"/><stop offset="0.8672" stop-color="#0007ff"/><stop offset="0.8828" stop-color="#0000ff"/><stop offset="0.8984" stop-color="#0000f4"/><stop offset="0.9141" stop-color="#0000e4"/><stop offset="0.9297" stop-color="#0000d4"/><stop offset="0.9453" stop-color="#0000c4"/><stop offset="0.9609" stop-color="#0000b4"/><stop offset="0.9766" stop-color="#0000a4"/><stop offset="0.9922" stop-color="#000094"/></linearGradient></defs>
<rect x="338.00" y="17.80" width="10.00" height="135.10" fill="url(#g1)"/>
<rect x="338.00" y="17.80" width="10.00" height="135.10" fill="none" stroke="#000" stroke-opacity="0.25" stroke-width="0.5"/>
<path d="M338.00 19.67h1.5M348.00 19.67h-1.5" stroke="#000" stroke-opacity="0.5" stroke-width="0.6"/>
<text x="349.90" y="22.17" font-size="7.1" fill="#000" font-style="italic" textLength="8.88" lengthAdjust="spacingAndGlyphs">0.2</text>
<path d="M338.00 36.03h1.5M348.00 36.03h-1.5" stroke="#000" stroke-opacity="0.5" stroke-width="0.6"/>
<text x="349.90" y="38.53" font-size="7.1" fill="#000" font-style="italic" textLength="12.43" lengthAdjust="spacingAndGlyphs">0.15</text>
<path d="M338.00 52.40h1.5M348.00 52.40h-1.5" stroke="#000" stroke-opacity="0.5" stroke-width="0.6"/>
<text x="349.90" y="54.90" font-size="7.1" fill="#000" font-style="italic" textLength="8.88" lengthAdjust="spacingAndGlyphs">0.1</text>
<path d="M338.00 68.77h1.5M348.00 68.77h-1.5" stroke="#000" stroke-opacity="0.5" stroke-width="0.6"/>
<text x="349.90" y="71.27" font-size="7.1" fill="#000" font-style="italic" textLength="12.43" lengthAdjust="spacingAndGlyphs">0.05</text>
<path d="M338.00 85.14h1.5M348.00 85.14h-1.5" stroke="#000" stroke-opacity="0.5" stroke-width="0.6"/>
<text x="349.90" y="87.64" font-size="7.1" fill="#000" font-style="italic" textLength="3.55" lengthAdjust="spacingAndGlyphs">0</text>
<path d="M338.00 101.51h1.5M348.00 101.51h-1.5" stroke="#000" stroke-opacity="0.5" stroke-width="0.6"/>
<text x="349.90" y="104.01" font-size="7.1" fill="#000" font-style="italic" textLength="16.17" lengthAdjust="spacingAndGlyphs">−0.05</text>
<path d="M338.00 117.87h1.5M348.00 117.87h-1.5" stroke="#000" stroke-opacity="0.5" stroke-width="0.6"/>
<text x="349.90" y="120.37" font-size="7.1" fill="#000" font-style="italic" textLength="12.61" lengthAdjust="spacingAndGlyphs">−0.1</text>
<path d="M338.00 134.24h1.5M348.00 134.24h-1.5" stroke="#000" stroke-opacity="0.5" stroke-width="0.6"/>
<text x="349.90" y="136.74" font-size="7.1" fill="#000" font-style="italic" textLength="16.17" lengthAdjust="spacingAndGlyphs">−0.15</text>
<path d="M338.00 150.61h1.5M348.00 150.61h-1.5" stroke="#000" stroke-opacity="0.5" stroke-width="0.6"/>
<text x="349.90" y="153.11" font-size="7.1" fill="#000" font-style="italic" textLength="12.61" lengthAdjust="spacingAndGlyphs">−0.2</text>
<text x="205.60" y="12.70" font-size="10.31" fill="#111" stroke="#111" stroke-width="0.25">(b) North-South component</text>
<rect x="376.10" y="146.25" width="7.74" height="6.75" fill="#960000"/><rect x="382.84" y="146.25" width="7.74" height="6.75" fill="#960000"/><rect x="389.58" y="146.25" width="7.74" height="6.75" fill="#960000"/><rect x="396.32" y="146.25" width="7.74" height="6.75" fill="#960000"/><rect x="403.06" y="146.25" width="7.74" height="6.75" fill="#a90000"/><rect x="409.80" y="146.25" width="7.74" height="6.75" fill="#a90000"/><rect x="416.54" y="146.25" width="7.74" height="6.75" fill="#a90000"/><rect x="423.28" y="146.25" width="7.74" height="6.75" fill="#bb0000"/><rect x="430.02" y="146.25" width="7.74" height="6.75" fill="#bb0000"/><rect x="436.76" y="146.25" width="7.74" height="6.75" fill="#bb0000"/><rect x="443.50" y="146.25" width="7.74" height="6.75" fill="#bb0000"/><rect x="450.24" y="146.25" width="7.74" height="6.75" fill="#bb0000"/><rect x="456.98" y="146.25" width="7.74" height="6.75" fill="#bb0000"/><rect x="463.72" y="146.25" width="7.74" height="6.75" fill="#bb0000"/><rect x="470.46" y="146.25" width="7.74" height="6.75" fill="#a90000"/><rect x="477.20" y="146.25" width="7.74" height="6.75" fill="#a90000"/><rect x="483.94" y="146.25" width="7.74" height="6.75" fill="#a90000"/><rect x="490.68" y="146.25" width="7.74" height="6.75" fill="#960000"/><rect x="497.42" y="146.25" width="7.74" height="6.75" fill="#960000"/><rect x="504.16" y="146.25" width="6.74" height="6.75" fill="#960000"/><rect x="376.10" y="139.51" width="7.74" height="7.75" fill="#960000"/><rect x="382.84" y="139.51" width="7.74" height="7.75" fill="#960000"/><rect x="389.58" y="139.51" width="7.74" height="7.75" fill="#960000"/><rect x="396.32" y="139.51" width="7.74" height="7.75" fill="#a90000"/><rect x="403.06" y="139.51" width="7.74" height="7.75" fill="#a90000"/><rect x="409.80" y="139.51" width="7.74" height="7.75" fill="#bb0000"/><rect x="416.54" y="139.51" width="7.74" height="7.75" fill="#bb0000"/><rect x="423.28" y="139.51" width="7.74" height="7.75" fill="#cd0000"/><rect x="430.02" y="139.51" width="7.74" height="7.75" fill="#cd0000"/><rect x="436.76" y="139.51" width="7.74" height="7.75" fill="#e00000"/><rect x="443.50" y="139.51" width="7.74" height="7.75" fill="#e00000"/><rect x="450.24" y="139.51" width="7.74" height="7.75" fill="#e00000"/><rect x="456.98" y="139.51" width="7.74" height="7.75" fill="#cd0000"/><rect x="463.72" y="139.51" width="7.74" height="7.75" fill="#cd0000"/><rect x="470.46" y="139.51" width="7.74" height="7.75" fill="#bb0000"/><rect x="477.20" y="139.51" width="7.74" height="7.75" fill="#bb0000"/><rect x="483.94" y="139.51" width="7.74" height="7.75" fill="#a90000"/><rect x="490.68" y="139.51" width="7.74" height="7.75" fill="#a90000"/><rect x="497.42" y="139.51" width="7.74" height="7.75" fill="#960000"/><rect x="504.16" y="139.51" width="6.74" height="7.75" fill="#960000"/><rect x="376.10" y="132.76" width="7.74" height="7.75" fill="#960000"/><rect x="382.84" y="132.76" width="7.74" height="7.75" fill="#960000"/><rect x="389.58" y="132.76" width="7.74" height="7.75" fill="#a90000"/><rect x="396.32" y="132.76" width="7.74" height="7.75" fill="#a90000"/><rect x="403.06" y="132.76" width="7.74" height="7.75" fill="#bb0000"/><rect x="409.80" y="132.76" width="7.74" height="7.75" fill="#cd0000"/><rect x="416.54" y="132.76" width="7.74" height="7.75" fill="#e00000"/><rect x="423.28" y="132.76" width="7.74" height="7.75" fill="#f20000"/><rect x="430.02" y="132.76" width="7.74" height="7.75" fill="#ff0000"/><rect x="436.76" y="132.76" width="7.74" height="7.75" fill="#ff0000"/><rect x="443.50" y="132.76" width="7.74" height="7.75" fill="#ff0000"/><rect x="450.24" y="132.76" width="7.74" height="7.75" fill="#ff0000"/><rect x="456.98" y="132.76" width="7.74" height="7.75" fill="#ff0000"/><rect x="463.72" y="132.76" width="7.74" height="7.75" fill="#f20000"/><rect x="470.46" y="132.76" width="7.74" height="7.75" fill="#e00000"/><rect x="477.20" y="132.76" width="7.74" height="7.75" fill="#cd0000"/><rect x="483.94" y="132.76" width="7.74" height="7.75" fill="#bb0000"/><rect x="490.68" y="132.76" width="7.74" height="7.75" fill="#a90000"/><rect x="497.42" y="132.76" width="7.74" height="7.75" fill="#a90000"/><rect x="504.16" y="132.76" width="6.74" height="7.75" fill="#960000"/><rect x="376.10" y="126.02" width="7.74" height="7.75" fill="#960000"/><rect x="382.84" y="126.02" width="7.74" height="7.75" fill="#a90000"/><rect x="389.58" y="126.02" width="7.74" height="7.75" fill="#a90000"/><rect x="396.32" y="126.02" width="7.74" height="7.75" fill="#bb0000"/><rect x="403.06" y="126.02" width="7.74" height="7.75" fill="#cd0000"/><rect x="409.80" y="126.02" width="7.74" height="7.75" fill="#f20000"/><rect x="416.54" y="126.02" width="7.74" height="7.75" fill="#ff0000"/><rect x="423.28" y="126.02" width="7.74" height="7.75" fill="#ff0000"/><rect x="430.02" y="126.02" width="7.74" height="7.75" fill="#ff1a00"/><rect x="436.76" y="126.02" width="7.74" height="7.75" fill="#ff1a00"/><rect x="443.50" y="126.02" width="7.74" height="7.75" fill="#ff2c00"/><rect x="450.24" y="126.02" width="7.74" height="7.75" fill="#ff1a00"/><rect x="456.98" y="126.02" width="7.74" height="7.75" fill="#ff1a00"/><rect x="463.72" y="126.02" width="7.74" height="7.75" fill="#ff0000"/><rect x="470.46" y="126.02" width="7.74" height="7.75" fill="#ff0000"/><rect x="477.20" y="126.02" width="7.74" height="7.75" fill="#f20000"/><rect x="483.94" y="126.02" width="7.74" height="7.75" fill="#cd0000"/><rect x="490.68" y="126.02" width="7.74" height="7.75" fill="#bb0000"/><rect x="497.42" y="126.02" width="7.74" height="7.75" fill="#a90000"/><rect x="504.16" y="126.02" width="6.74" height="7.75" fill="#a90000"/><rect x="376.10" y="119.28" width="7.74" height="7.75" fill="#a90000"/><rect x="382.84" y="119.28" width="7.74" height="7.75" fill="#a90000"/><rect x="389.58" y="119.28" width="7.74" height="7.75" fill="#bb0000"/><rect x="396.32" y="119.28" width="7.74" height="7.75" fill="#cd0000"/><rect x="403.06" y="119.28" width="7.74" height="7.75" fill="#f20000"/><rect x="409.80" y="119.28" width="7.74" height="7.75" fill="#ff0000"/><rect x="416.54" y="119.28" width="7.74" height="7.75" fill="#ff1a00"/><rect x="423.28" y="119.28" width="7.74" height="7.75" fill="#ff3e00"/><rect x="430.02" y="119.28" width="7.74" height="7.75" fill="#ff7000"/><rect x="436.76" y="119.28" width="7.74" height="7.75" fill="#ff8100"/><rect x="443.50" y="119.28" width="7.74" height="7.75" fill="#ff9100"/><rect x="450.24" y="119.28" width="7.74" height="7.75" fill="#ff8100"/><rect x="456.98" y="119.28" width="7.74" height="7.75" fill="#ff7000"/><rect x="463.72" y="119.28" width="7.74" height="7.75" fill="#ff3e00"/><rect x="470.46" y="119.28" width="7.74" height="7.75" fill="#ff1a00"/><rect x="477.20" y="119.28" width="7.74" height="7.75" fill="#ff0000"/><rect x="483.94" y="119.28" width="7.74" height="7.75" fill="#f20000"/><rect x="490.68" y="119.28" width="7.74" height="7.75" fill="#cd0000"/><rect x="497.42" y="119.28" width="7.74" height="7.75" fill="#bb0000"/><rect x="504.16" y="119.28" width="6.74" height="7.75" fill="#a90000"/><rect x="376.10" y="112.53" width="7.74" height="7.75" fill="#a90000"/><rect x="382.84" y="112.53" width="7.74" height="7.75" fill="#bb0000"/><rect x="389.58" y="112.53" width="7.74" height="7.75" fill="#cd0000"/><rect x="396.32" y="112.53" width="7.74" height="7.75" fill="#f20000"/><rect x="403.06" y="112.53" width="7.74" height="7.75" fill="#ff0000"/><rect x="409.80" y="112.53" width="7.74" height="7.75" fill="#ff1a00"/><rect x="416.54" y="112.53" width="7.74" height="7.75" fill="#ff5f00"/><rect x="423.28" y="112.53" width="7.74" height="7.75" fill="#ffa100"/><rect x="430.02" y="112.53" width="7.74" height="7.75" fill="#ffd000"/><rect x="436.76" y="112.53" width="7.74" height="7.75" fill="#ffff00"/><rect x="443.50" y="112.53" width="7.74" height="7.75" fill="#e9ff00"/><rect x="450.24" y="112.53" width="7.74" height="7.75" fill="#ffff00"/><rect x="456.98" y="112.53" width="7.74" height="7.75" fill="#ffd000"/><rect x="463.72" y="112.53" width="7.74" height="7.75" fill="#ffa100"/><rect x="470.46" y="112.53" width="7.74" height="7.75" fill="#ff5f00"/><rect x="477.20" y="112.53" width="7.74" height="7.75" fill="#ff1a00"/><rect x="483.94" y="112.53" width="7.74" height="7.75" fill="#ff0000"/><rect x="490.68" y="112.53" width="7.74" height="7.75" fill="#f20000"/><rect x="497.42" y="112.53" width="7.74" height="7.75" fill="#cd0000"/><rect x="504.16" y="112.53" width="6.74" height="7.75" fill="#bb0000"/><rect x="376.10" y="105.78" width="7.74" height="7.75" fill="#a90000"/><rect x="382.84" y="105.78" width="7.74" height="7.75" fill="#bb0000"/><rect x="389.58" y="105.78" width="7.74" height="7.75" fill="#e00000"/><rect x="396.32" y="105.78" width="7.74" height="7.75" fill="#ff0000"/><rect x="403.06" y="105.78" width="7.74" height="7.75" fill="#ff1a00"/><rect x="409.80" y="105.78" width="7.74" height="7.75" fill="#ff5f00"/><rect x="416.54" y="105.78" width="7.74" height="7.75" fill="#ffb100"/><rect x="423.28" y="105.78" width="7.74" height="7.75" fill="#e9ff00"/><rect x="430.02" y="105.78" width="7.74" height="7.75" fill="#59ff4f"/><rect x="436.76" y="105.78" width="7.74" height="7.75" fill="#00ff89"/><rect x="443.50" y="105.78" width="7.74" height="7.75" fill="#00ff9b"/><rect x="450.24" y="105.78" width="7.74" height="7.75" fill="#00ff89"/><rect x="456.98" y="105.78" width="7.74" height="7.75" fill="#59ff4f"/><rect x="463.72" y="105.78" width="7.74" height="7.75" fill="#e9ff00"/><rect x="470.46" y="105.78" width="7.74" height="7.75" fill="#ffb100"/><rect x="477.20" y="105.78" width="7.74" height="7.75" fill="#ff5f00"/><rect x="483.94" y="105.78" width="7.74" height="7.75" fill="#ff1a00"/><rect x="490.68" y="105.78" width="7.74" height="7.75" fill="#ff0000"/><rect x="497.42" y="105.78" width="7.74" height="7.75" fill="#e00000"/><rect x="504.16" y="105.78" width="6.74" height="7.75" fill="#bb0000"/><rect x="376.10" y="99.04" width="7.74" height="7.75" fill="#bb0000"/><rect x="382.84" y="99.04" width="7.74" height="7.75" fill="#cd0000"/><rect x="389.58" y="99.04" width="7.74" height="7.75" fill="#f20000"/><rect x="396.32" y="99.04" width="7.74" height="7.75" fill="#ff0000"/><rect x="403.06" y="99.04" width="7.74" height="7.75" fill="#ff3e00"/><rect x="409.80" y="99.04" width="7.74" height="7.75" fill="#ffa100"/><rect x="416.54" y="99.04" width="7.74" height="7.75" fill="#e9ff00"/><rect x="423.28" y="99.04" width="7.74" height="7.75" fill="#00ff77"/><rect x="430.02" y="99.04" width="7.74" height="7.75" fill="#00ffdf"/><rect x="436.76" y="99.04" width="7.74" height="7.75" fill="#00d0ff"/><rect x="443.50" y="99.04" width="7.74" height="7.75" fill="#00b1ff"/><rect x="450.24" y="99.04" width="7.74" height="7.75" fill="#00d0ff"/><rect x="456.98" y="99.04" width="7.74" height="7.75" fill="#00ffdf"/><rect x="463.72" y="99.04" width="7.74" height="7.75" fill="#00ff77"/><rect x="470.46" y="99.04" width="7.74" height="7.75" fill="#e9ff00"/><rect x="477.20" y="99.04" width="7.74" height="7.75" fill="#ffa100"/><rect x="483.94" y="99.04" width="7.74" height="7.75" fill="#ff3e00"/><rect x="490.68" y="99.04" width="7.74" height="7.75" fill="#ff0000"/><rect x="497.42" y="99.04" width="7.74" height="7.75" fill="#f20000"/><rect x="504.16" y="99.04" width="6.74" height="7.75" fill="#cd0000"/><rect x="376.10" y="92.30" width="7.74" height="7.75" fill="#bb0000"/><rect x="382.84" y="92.30" width="7.74" height="7.75" fill="#cd0000"/><rect x="389.58" y="92.30" width="7.74" height="7.75" fill="#ff0000"/><rect x="396.32" y="92.30" width="7.74" height="7.75" fill="#ff1a00"/><rect x="403.06" y="92.30" width="7.74" height="7.75" fill="#ff7000"/><rect x="409.80" y="92.30" width="7.74" height="7.75" fill="#ffd000"/><rect x="416.54" y="92.30" width="7.74" height="7.75" fill="#59ff4f"/><rect x="423.28" y="92.30" width="7.74" height="7.75" fill="#00ffdf"/><rect x="430.02" y="92.30" width="7.74" height="7.75" fill="#00a1ff"/><rect x="436.76" y="92.30" width="7.74" height="7.75" fill="#003eff"/><rect x="443.50" y="92.30" width="7.74" height="7.75" fill="#001aff"/><rect x="450.24" y="92.30" width="7.74" height="7.75" fill="#003eff"/><rect x="456.98" y="92.30" width="7.74" height="7.75" fill="#00a1ff"/><rect x="463.72" y="92.30" width="7.74" height="7.75" fill="#00ffdf"/><rect x="470.46" y="92.30" width="7.74" height="7.75" fill="#59ff4f"/><rect x="477.20" y="92.30" width="7.74" height="7.75" fill="#ffd000"/><rect x="483.94" y="92.30" width="7.74" height="7.75" fill="#ff7000"/><rect x="490.68" y="92.30" width="7.74" height="7.75" fill="#ff1a00"/><rect x="497.42" y="92.30" width="7.74" height="7.75" fill="#ff0000"/><rect x="504.16" y="92.30" width="6.74" height="7.75" fill="#cd0000"/><rect x="376.10" y="85.55" width="7.74" height="7.75" fill="#bb0000"/><rect x="382.84" y="85.55" width="7.74" height="7.75" fill="#e00000"/><rect x="389.58" y="85.55" width="7.74" height="7.75" fill="#ff0000"/><rect x="396.32" y="85.55" width="7.74" height="7.75" fill="#ff1a00"/><rect x="403.06" y="85.55" width="7.74" height="7.75" fill="#ff8100"/><rect x="409.80" y="85.55" width="7.74" height="7.75" fill="#ffff00"/><rect x="416.54" y="85.55" width="7.74" height="7.75" fill="#00ff89"/><rect x="423.28" y="85.55" width="7.74" height="7.75" fill="#00d0ff"/><rect x="430.02" y="85.55" width="7.74" height="7.75" fill="#003eff"/><rect x="436.76" y="85.55" width="7.74" height="7.75" fill="#0000d4"/><rect x="443.50" y="85.55" width="7.74" height="7.75" fill="#0000b4"/><rect x="450.24" y="85.55" width="7.74" height="7.75" fill="#0000d4"/><rect x="456.98" y="85.55" width="7.74" height="7.75" fill="#003eff"/><rect x="463.72" y="85.55" width="7.74" height="7.75" fill="#00d0ff"/><rect x="470.46" y="85.55" width="7.74" height="7.75" fill="#00ff89"/><rect x="477.20" y="85.55" width="7.74" height="7.75" fill="#ffff00"/><rect x="483.94" y="85.55" width="7.74" height="7.75" fill="#ff8100"/><rect x="490.68" y="85.55" width="7.74" height="7.75" fill="#ff1a00"/><rect x="497.42" y="85.55" width="7.74" height="7.75" fill="#ff0000"/><rect x="504.16" y="85.55" width="6.74" height="7.75" fill="#e00000"/><rect x="376.10" y="78.80" width="7.74" height="7.75" fill="#bb0000"/><rect x="382.84" y="78.80" width="7.74" height="7.75" fill="#e00000"/><rect x="389.58" y="78.80" width="7.74" height="7.75" fill="#ff0000"/><rect x="396.32" y="78.80" width="7.74" height="7.75" fill="#ff2c00"/><rect x="403.06" y="78.80" width="7.74" height="7.75" fill="#ff9100"/><rect x="409.80" y="78.80" width="7.74" height="7.75" fill="#e9ff00"/><rect x="416.54" y="78.80" width="7.74" height="7.75" fill="#00ff9b"/><rect x="423.28" y="78.80" width="7.74" height="7.75" fill="#00b1ff"/><rect x="430.02" y="78.80" width="7.74" height="7.75" fill="#001aff"/><rect x="436.76" y="78.80" width="7.74" height="7.75" fill="#0000b4"/><rect x="443.50" y="78.80" width="7.74" height="7.75" fill="#000094"/><rect x="450.24" y="78.80" width="7.74" height="7.75" fill="#0000b4"/><rect x="456.98" y="78.80" width="7.74" height="7.75" fill="#001aff"/><rect x="463.72" y="78.80" width="7.74" height="7.75" fill="#00b1ff"/><rect x="470.46" y="78.80" width="7.74" height="7.75" fill="#00ff9b"/><rect x="477.20" y="78.80" width="7.74" height="7.75" fill="#e9ff00"/><rect x="483.94" y="78.80" width="7.74" height="7.75" fill="#ff9100"/><rect x="490.68" y="78.80" width="7.74" height="7.75" fill="#ff2c00"/><rect x="497.42" y="78.80" width="7.74" height="7.75" fill="#ff0000"/><rect x="504.16" y="78.80" width="6.74" height="7.75" fill="#e00000"/><rect x="376.10" y="72.06" width="7.74" height="7.75" fill="#bb0000"/><rect x="382.84" y="72.06" width="7.74" height="7.75" fill="#e00000"/><rect x="389.58" y="72.06" width="7.74" height="7.75" fill="#ff0000"/><rect x="396.32" y="72.06" width="7.74" height="7.75" fill="#ff1a00"/><rect x="403.06" y="72.06" width="7.74" height="7.75" fill="#ff8100"/><rect x="409.80" y="72.06" width="7.74" height="7.75" fill="#ffff00"/><rect x="416.54" y="72.06" width="7.74" height="7.75" fill="#00ff89"/><rect x="423.28" y="72.06" width="7.74" height="7.75" fill="#00d0ff"/><rect x="430.02" y="72.06" width="7.74" height="7.75" fill="#003eff"/><rect x="436.76" y="72.06" width="7.74" height="7.75" fill="#0000d4"/><rect x="443.50" y="72.06" width="7.74" height="7.75" fill="#0000b4"/><rect x="450.24" y="72.06" width="7.74" height="7.75" fill="#0000d4"/><rect x="456.98" y="72.06" width="7.74" height="7.75" fill="#003eff"/><rect x="463.72" y="72.06" width="7.74" height="7.75" fill="#00d0ff"/><rect x="470.46" y="72.06" width="7.74" height="7.75" fill="#00ff89"/><rect x="477.20" y="72.06" width="7.74" height="7.75" fill="#ffff00"/><rect x="483.94" y="72.06" width="7.74" height="7.75" fill="#ff8100"/><rect x="490.68" y="72.06" width="7.74" height="7.75" fill="#ff1a00"/><rect x="497.42" y="72.06" width="7.74" height="7.75" fill="#ff0000"/><rect x="504.16" y="72.06" width="6.74" height="7.75" fill="#e00000"/><rect x="376.10" y="65.31" width="7.74" height="7.75" fill="#bb0000"/><rect x="382.84" y="65.31" width="7.74" height="7.75" fill="#cd0000"/><rect x="389.58" y="65.31" width="7.74" height="7.75" fill="#ff0000"/><rect x="396.32" y="65.31" width="7.74" height="7.75" fill="#ff1a00"/><rect x="403.06" y="65.31" width="7.74" height="7.75" fill="#ff7000"/><rect x="409.80" y="65.31" width="7.74" height="7.75" fill="#ffd000"/><rect x="416.54" y="65.31" width="7.74" height="7.75" fill="#59ff4f"/><rect x="423.28" y="65.31" width="7.74" height="7.75" fill="#00ffdf"/><rect x="430.02" y="65.31" width="7.74" height="7.75" fill="#00a1ff"/><rect x="436.76" y="65.31" width="7.74" height="7.75" fill="#003eff"/><rect x="443.50" y="65.31" width="7.74" height="7.75" fill="#001aff"/><rect x="450.24" y="65.31" width="7.74" height="7.75" fill="#003eff"/><rect x="456.98" y="65.31" width="7.74" height="7.75" fill="#00a1ff"/><rect x="463.72" y="65.31" width="7.74" height="7.75" fill="#00ffdf"/><rect x="470.46" y="65.31" width="7.74" height="7.75" fill="#59ff4f"/><rect x="477.20" y="65.31" width="7.74" height="7.75" fill="#ffd000"/><rect x="483.94" y="65.31" width="7.74" height="7.75" fill="#ff7000"/><rect x="490.68" y="65.31" width="7.74" height="7.75" fill="#ff1a00"/><rect x="497.42" y="65.31" width="7.74" height="7.75" fill="#ff0000"/><rect x="504.16" y="65.31" width="6.74" height="7.75" fill="#cd0000"/><rect x="376.10" y="58.57" width="7.74" height="7.75" fill="#bb0000"/><rect x="382.84" y="58.57" width="7.74" height="7.75" fill="#cd0000"/><rect x="389.58" y="58.57" width="7.74" height="7.75" fill="#f20000"/><rect x="396.32" y="58.57" width="7.74" height="7.75" fill="#ff0000"/><rect x="403.06" y="58.57" width="7.74" height="7.75" fill="#ff3e00"/><rect x="409.80" y="58.57" width="7.74" height="7.75" fill="#ffa100"/><rect x="416.54" y="58.57" width="7.74" height="7.75" fill="#e9ff00"/><rect x="423.28" y="58.57" width="7.74" height="7.75" fill="#00ff77"/><rect x="430.02" y="58.57" width="7.74" height="7.75" fill="#00ffdf"/><rect x="436.76" y="58.57" width="7.74" height="7.75" fill="#00d0ff"/><rect x="443.50" y="58.57" width="7.74" height="7.75" fill="#00b1ff"/><rect x="450.24" y="58.57" width="7.74" height="7.75" fill="#00d0ff"/><rect x="456.98" y="58.57" width="7.74" height="7.75" fill="#00ffdf"/><rect x="463.72" y="58.57" width="7.74" height="7.75" fill="#00ff77"/><rect x="470.46" y="58.57" width="7.74" height="7.75" fill="#e9ff00"/><rect x="477.20" y="58.57" width="7.74" height="7.75" fill="#ffa100"/><rect x="483.94" y="58.57" width="7.74" height="7.75" fill="#ff3e00"/><rect x="490.68" y="58.57" width="7.74" height="7.75" fill="#ff0000"/><rect x="497.42" y="58.57" width="7.74" height="7.75" fill="#f20000"/><rect x="504.16" y="58.57" width="6.74" height="7.75" fill="#cd0000"/><rect x="376.10" y="51.83" width="7.74" height="7.75" fill="#a90000"/><rect x="382.84" y="51.83" width="7.74" height="7.75" fill="#bb0000"/><rect x="389.58" y="51.83" width="7.74" height="7.75" fill="#e00000"/><rect x="396.32" y="51.83" width="7.74" height="7.75" fill="#ff0000"/><rect x="403.06" y="51.83" width="7.74" height="7.75" fill="#ff1a00"/><rect x="409.80" y="51.83" width="7.74" height="7.75" fill="#ff5f00"/><rect x="416.54" y="51.83" width="7.74" height="7.75" fill="#ffb100"/><rect x="423.28" y="51.83" width="7.74" height="7.75" fill="#e9ff00"/><rect x="430.02" y="51.83" width="7.74" height="7.75" fill="#59ff4f"/><rect x="436.76" y="51.83" width="7.74" height="7.75" fill="#00ff89"/><rect x="443.50" y="51.83" width="7.74" height="7.75" fill="#00ff9b"/><rect x="450.24" y="51.83" width="7.74" height="7.75" fill="#00ff89"/><rect x="456.98" y="51.83" width="7.74" height="7.75" fill="#59ff4f"/><rect x="463.72" y="51.83" width="7.74" height="7.75" fill="#e9ff00"/><rect x="470.46" y="51.83" width="7.74" height="7.75" fill="#ffb100"/><rect x="477.20" y="51.83" width="7.74" height="7.75" fill="#ff5f00"/><rect x="483.94" y="51.83" width="7.74" height="7.75" fill="#ff1a00"/><rect x="490.68" y="51.83" width="7.74" height="7.75" fill="#ff0000"/><rect x="497.42" y="51.83" width="7.74" height="7.75" fill="#e00000"/><rect x="504.16" y="51.83" width="6.74" height="7.75" fill="#bb0000"/><rect x="376.10" y="45.08" width="7.74" height="7.75" fill="#a90000"/><rect x="382.84" y="45.08" width="7.74" height="7.75" fill="#bb0000"/><rect x="389.58" y="45.08" width="7.74" height="7.75" fill="#cd0000"/><rect x="396.32" y="45.08" width="7.74" height="7.75" fill="#f20000"/><rect x="403.06" y="45.08" width="7.74" height="7.75" fill="#ff0000"/><rect x="409.80" y="45.08" width="7.74" height="7.75" fill="#ff1a00"/><rect x="416.54" y="45.08" width="7.74" height="7.75" fill="#ff5f00"/><rect x="423.28" y="45.08" width="7.74" height="7.75" fill="#ffa100"/><rect x="430.02" y="45.08" width="7.74" height="7.75" fill="#ffd000"/><rect x="436.76" y="45.08" width="7.74" height="7.75" fill="#ffff00"/><rect x="443.50" y="45.08" width="7.74" height="7.75" fill="#e9ff00"/><rect x="450.24" y="45.08" width="7.74" height="7.75" fill="#ffff00"/><rect x="456.98" y="45.08" width="7.74" height="7.75" fill="#ffd000"/><rect x="463.72" y="45.08" width="7.74" height="7.75" fill="#ffa100"/><rect x="470.46" y="45.08" width="7.74" height="7.75" fill="#ff5f00"/><rect x="477.20" y="45.08" width="7.74" height="7.75" fill="#ff1a00"/><rect x="483.94" y="45.08" width="7.74" height="7.75" fill="#ff0000"/><rect x="490.68" y="45.08" width="7.74" height="7.75" fill="#f20000"/><rect x="497.42" y="45.08" width="7.74" height="7.75" fill="#cd0000"/><rect x="504.16" y="45.08" width="6.74" height="7.75" fill="#bb0000"/><rect x="376.10" y="38.33" width="7.74" height="7.75" fill="#a90000"/><rect x="382.84" y="38.33" width="7.74" height="7.75" fill="#a90000"/><rect x="389.58" y="38.33" width="7.74" height="7.75" fill="#bb0000"/><rect x="396.32" y="38.33" width="7.74" height="7.75" fill="#cd0000"/><rect x="403.06" y="38.33" width="7.74" height="7.75" fill="#f20000"/><rect x="409.80" y="38.33" width="7.74" height="7.75" fill="#ff0000"/><rect x="416.54" y="38.33" width="7.74" height="7.75" fill="#ff1a00"/><rect x="423.28" y="38.33" width="7.74" height="7.75" fill="#ff3e00"/><rect x="430.02" y="38.33" width="7.74" height="7.75" fill="#ff7000"/><rect x="436.76" y="38.33" width="7.74" height="7.75" fill="#ff8100"/><rect x="443.50" y="38.33" width="7.74" height="7.75" fill="#ff9100"/><rect x="450.24" y="38.33" width="7.74" height="7.75" fill="#ff8100"/><rect x="456.98" y="38.33" width="7.74" height="7.75" fill="#ff7000"/><rect x="463.72" y="38.33" width="7.74" height="7.75" fill="#ff3e00"/><rect x="470.46" y="38.33" width="7.74" height="7.75" fill="#ff1a00"/><rect x="477.20" y="38.33" width="7.74" height="7.75" fill="#ff0000"/><rect x="483.94" y="38.33" width="7.74" height="7.75" fill="#f20000"/><rect x="490.68" y="38.33" width="7.74" height="7.75" fill="#cd0000"/><rect x="497.42" y="38.33" width="7.74" height="7.75" fill="#bb0000"/><rect x="504.16" y="38.33" width="6.74" height="7.75" fill="#a90000"/><rect x="376.10" y="31.59" width="7.74" height="7.75" fill="#960000"/><rect x="382.84" y="31.59" width="7.74" height="7.75" fill="#a90000"/><rect x="389.58" y="31.59" width="7.74" height="7.75" fill="#a90000"/><rect x="396.32" y="31.59" width="7.74" height="7.75" fill="#bb0000"/><rect x="403.06" y="31.59" width="7.74" height="7.75" fill="#cd0000"/><rect x="409.80" y="31.59" width="7.74" height="7.75" fill="#f20000"/><rect x="416.54" y="31.59" width="7.74" height="7.75" fill="#ff0000"/><rect x="423.28" y="31.59" width="7.74" height="7.75" fill="#ff0000"/><rect x="430.02" y="31.59" width="7.74" height="7.75" fill="#ff1a00"/><rect x="436.76" y="31.59" width="7.74" height="7.75" fill="#ff1a00"/><rect x="443.50" y="31.59" width="7.74" height="7.75" fill="#ff2c00"/><rect x="450.24" y="31.59" width="7.74" height="7.75" fill="#ff1a00"/><rect x="456.98" y="31.59" width="7.74" height="7.75" fill="#ff1a00"/><rect x="463.72" y="31.59" width="7.74" height="7.75" fill="#ff0000"/><rect x="470.46" y="31.59" width="7.74" height="7.75" fill="#ff0000"/><rect x="477.20" y="31.59" width="7.74" height="7.75" fill="#f20000"/><rect x="483.94" y="31.59" width="7.74" height="7.75" fill="#cd0000"/><rect x="490.68" y="31.59" width="7.74" height="7.75" fill="#bb0000"/><rect x="497.42" y="31.59" width="7.74" height="7.75" fill="#a90000"/><rect x="504.16" y="31.59" width="6.74" height="7.75" fill="#a90000"/><rect x="376.10" y="24.84" width="7.74" height="7.75" fill="#960000"/><rect x="382.84" y="24.84" width="7.74" height="7.75" fill="#960000"/><rect x="389.58" y="24.84" width="7.74" height="7.75" fill="#a90000"/><rect x="396.32" y="24.84" width="7.74" height="7.75" fill="#a90000"/><rect x="403.06" y="24.84" width="7.74" height="7.75" fill="#bb0000"/><rect x="409.80" y="24.84" width="7.74" height="7.75" fill="#cd0000"/><rect x="416.54" y="24.84" width="7.74" height="7.75" fill="#e00000"/><rect x="423.28" y="24.84" width="7.74" height="7.75" fill="#f20000"/><rect x="430.02" y="24.84" width="7.74" height="7.75" fill="#ff0000"/><rect x="436.76" y="24.84" width="7.74" height="7.75" fill="#ff0000"/><rect x="443.50" y="24.84" width="7.74" height="7.75" fill="#ff0000"/><rect x="450.24" y="24.84" width="7.74" height="7.75" fill="#ff0000"/><rect x="456.98" y="24.84" width="7.74" height="7.75" fill="#ff0000"/><rect x="463.72" y="24.84" width="7.74" height="7.75" fill="#f20000"/><rect x="470.46" y="24.84" width="7.74" height="7.75" fill="#e00000"/><rect x="477.20" y="24.84" width="7.74" height="7.75" fill="#cd0000"/><rect x="483.94" y="24.84" width="7.74" height="7.75" fill="#bb0000"/><rect x="490.68" y="24.84" width="7.74" height="7.75" fill="#a90000"/><rect x="497.42" y="24.84" width="7.74" height="7.75" fill="#a90000"/><rect x="504.16" y="24.84" width="6.74" height="7.75" fill="#960000"/><rect x="376.10" y="18.10" width="7.74" height="7.75" fill="#960000"/><rect x="382.84" y="18.10" width="7.74" height="7.75" fill="#960000"/><rect x="389.58" y="18.10" width="7.74" height="7.75" fill="#960000"/><rect x="396.32" y="18.10" width="7.74" height="7.75" fill="#a90000"/><rect x="403.06" y="18.10" width="7.74" height="7.75" fill="#a90000"/><rect x="409.80" y="18.10" width="7.74" height="7.75" fill="#bb0000"/><rect x="416.54" y="18.10" width="7.74" height="7.75" fill="#bb0000"/><rect x="423.28" y="18.10" width="7.74" height="7.75" fill="#cd0000"/><rect x="430.02" y="18.10" width="7.74" height="7.75" fill="#cd0000"/><rect x="436.76" y="18.10" width="7.74" height="7.75" fill="#e00000"/><rect x="443.50" y="18.10" width="7.74" height="7.75" fill="#e00000"/><rect x="450.24" y="18.10" width="7.74" height="7.75" fill="#e00000"/><rect x="456.98" y="18.10" width="7.74" height="7.75" fill="#cd0000"/><rect x="463.72" y="18.10" width="7.74" height="7.75" fill="#cd0000"/><rect x="470.46" y="18.10" width="7.74" height="7.75" fill="#bb0000"/><rect x="477.20" y="18.10" width="7.74" height="7.75" fill="#bb0000"/><rect x="483.94" y="18.10" width="7.74" height="7.75" fill="#a90000"/><rect x="490.68" y="18.10" width="7.74" height="7.75" fill="#a90000"/><rect x="497.42" y="18.10" width="7.74" height="7.75" fill="#960000"/><rect x="504.16" y="18.10" width="6.74" height="7.75" fill="#960000"/>
<path d="M382.84 18.10V153.00M376.10 24.85H510.90M389.58 18.10V153.00M376.10 31.59H510.90M396.32 18.10V153.00M376.10 38.34H510.90M403.06 18.10V153.00M376.10 45.08H510.90M409.80 18.10V153.00M376.10 51.83H510.90M416.54 18.10V153.00M376.10 58.57H510.90M423.28 18.10V153.00M376.10 65.31H510.90M430.02 18.10V153.00M376.10 72.06H510.90M436.76 18.10V153.00M376.10 78.81H510.90M443.50 18.10V153.00M376.10 85.55H510.90M450.24 18.10V153.00M376.10 92.30H510.90M456.98 18.10V153.00M376.10 99.04H510.90M463.72 18.10V153.00M376.10 105.78H510.90M470.46 18.10V153.00M376.10 112.53H510.90M477.20 18.10V153.00M376.10 119.28H510.90M483.94 18.10V153.00M376.10 126.02H510.90M490.68 18.10V153.00M376.10 132.77H510.90M497.42 18.10V153.00M376.10 139.51H510.90M504.16 18.10V153.00M376.10 146.25H510.90" stroke="#000" stroke-opacity="0.42" stroke-width="0.7" fill="none"/>
<text x="382.84" y="160.50" font-size="7.1" fill="#000" text-anchor="middle" textLength="3.55" lengthAdjust="spacingAndGlyphs">2</text>
<text x="374.10" y="148.56" font-size="7.1" fill="#000" text-anchor="end" textLength="3.55" lengthAdjust="spacingAndGlyphs">2</text>
<text x="396.32" y="160.50" font-size="7.1" fill="#000" text-anchor="middle" textLength="3.55" lengthAdjust="spacingAndGlyphs">4</text>
<text x="374.10" y="135.06" font-size="7.1" fill="#000" text-anchor="end" textLength="3.55" lengthAdjust="spacingAndGlyphs">4</text>
<text x="409.80" y="160.50" font-size="7.1" fill="#000" text-anchor="middle" textLength="3.55" lengthAdjust="spacingAndGlyphs">6</text>
<text x="374.10" y="121.58" font-size="7.1" fill="#000" text-anchor="end" textLength="3.55" lengthAdjust="spacingAndGlyphs">6</text>
<text x="423.28" y="160.50" font-size="7.1" fill="#000" text-anchor="middle" textLength="3.55" lengthAdjust="spacingAndGlyphs">8</text>
<text x="374.10" y="108.08" font-size="7.1" fill="#000" text-anchor="end" textLength="3.55" lengthAdjust="spacingAndGlyphs">8</text>
<text x="436.76" y="160.50" font-size="7.1" fill="#000" text-anchor="middle" textLength="7.11" lengthAdjust="spacingAndGlyphs">10</text>
<text x="374.10" y="94.59" font-size="7.1" fill="#000" text-anchor="end" textLength="7.11" lengthAdjust="spacingAndGlyphs">10</text>
<text x="450.24" y="160.50" font-size="7.1" fill="#000" text-anchor="middle" textLength="7.11" lengthAdjust="spacingAndGlyphs">12</text>
<text x="374.10" y="81.10" font-size="7.1" fill="#000" text-anchor="end" textLength="7.11" lengthAdjust="spacingAndGlyphs">12</text>
<text x="463.72" y="160.50" font-size="7.1" fill="#000" text-anchor="middle" textLength="7.11" lengthAdjust="spacingAndGlyphs">14</text>
<text x="374.10" y="67.61" font-size="7.1" fill="#000" text-anchor="end" textLength="7.11" lengthAdjust="spacingAndGlyphs">14</text>
<text x="477.20" y="160.50" font-size="7.1" fill="#000" text-anchor="middle" textLength="7.11" lengthAdjust="spacingAndGlyphs">16</text>
<text x="374.10" y="54.12" font-size="7.1" fill="#000" text-anchor="end" textLength="7.11" lengthAdjust="spacingAndGlyphs">16</text>
<text x="490.68" y="160.50" font-size="7.1" fill="#000" text-anchor="middle" textLength="7.11" lengthAdjust="spacingAndGlyphs">18</text>
<text x="374.10" y="40.63" font-size="7.1" fill="#000" text-anchor="end" textLength="7.11" lengthAdjust="spacingAndGlyphs">18</text>
<text x="504.16" y="160.50" font-size="7.1" fill="#000" text-anchor="middle" textLength="7.11" lengthAdjust="spacingAndGlyphs">20</text>
<text x="374.10" y="27.14" font-size="7.1" fill="#000" text-anchor="end" textLength="7.11" lengthAdjust="spacingAndGlyphs">20</text>
<defs><linearGradient id="g2" x1="0" y1="0" x2="0" y2="1"><stop offset="0.0078" stop-color="#960000"/><stop offset="0.0234" stop-color="#a90000"/><stop offset="0.0391" stop-color="#bb0000"/><stop offset="0.0547" stop-color="#cd0000"/><stop offset="0.0703" stop-color="#e00000"/><stop offset="0.0859" stop-color="#f20000"/><stop offset="0.1016" stop-color="#ff0000"/><stop offset="0.1172" stop-color="#ff0000"/><stop offset="0.1328" stop-color="#ff0000"/><stop offset="0.1484" stop-color="#ff0700"/><stop offset="0.1641" stop-color="#ff1a00"/><stop offset="0.1797" stop-color="#ff2c00"/><stop offset="0.1953" stop-color="#ff3e00"/><stop offset="0.2109" stop-color="#ff4f00"/><stop offset="0.2266" stop-color="#ff5f00"/><stop offset="0.2422" stop-color="#ff7000"/><stop offset="0.2578" stop-color="#ff8100"/><stop offset="0.2734" stop-color="#ff9100"/><stop offset="0.2891" stop-color="#ffa100"/><stop offset="0.3047" stop-color="#ffb100"/><stop offset="0.3203" stop-color="#ffc100"/><stop offset="0.3359" stop-color="#ffd000"/><stop offset="0.3516" stop-color="#ffe000"/><stop offset="0.3672" stop-color="#fff000"/><stop offset="0.3828" stop-color="#ffff00"/><stop offset="0.3984" stop-color="#e9ff00"/><stop offset="0.4141" stop-color="#d2ff00"/><stop offset="0.4297" stop-color="#b9ff00"/><stop offset="0.4453" stop-color="#9fff13"/><stop offset="0.4609" stop-color="#80ff37"/><stop offset="0.4766" stop-color="#59ff4f"/><stop offset="0.4922" stop-color="#00ff64"/><stop offset="0.5078" stop-color="#00ff77"/><stop offset="0.5234" stop-color="#00ff89"/><stop offset="0.5391" stop-color="#00ff9b"/><stop offset="0.5547" stop-color="#00ffac"/><stop offset="0.5703" stop-color="#00ffbd"/><stop offset="0.5859" stop-color="#00ffce"/><stop offset="0.6016" stop-color="#00ffdf"/><stop offset="0.6172" stop-color="#00ffef"/><stop offset="0.6328" stop-color="#00ffff"/><stop offset="0.6484" stop-color="#00f0ff"/><stop offset="0.6641" stop-color="#00e0ff"/><stop offset="0.6797" stop-color="#00d0ff"/><stop offset="0.6953" stop-color="#00c1ff"/><stop offset="0.7109" stop-color="#00b1ff"/><stop offset="0.7266" stop-color="#00a1ff"/><stop offset="0.7422" stop-color="#0091ff"/><stop offset="0.7578" stop-color="#0081ff"/><stop offset="0.7734" stop-color="#0070ff"/><stop offset="0.7891" stop-color="#005fff"/><stop offset="0.8047" stop-color="#004fff"/><stop offset="0.8203" stop-color="#003eff"/><stop offset="0.8359" stop-color="#002cff"/><stop offset="0.8516" stop-color="#001aff"/><stop offset="0.8672" stop-color="#0007ff"/><stop offset="0.8828" stop-color="#0000ff"/><stop offset="0.8984" stop-color="#0000f4"/><stop offset="0.9141" stop-color="#0000e4"/><stop offset="0.9297" stop-color="#0000d4"/><stop offset="0.9453" stop-color="#0000c4"/><stop offset="0.9609" stop-color="#0000b4"/><stop offset="0.9766" stop-color="#0000a4"/><stop offset="0.9922" stop-color="#000094"/></linearGradient></defs>
<rect x="518.70" y="18.20" width="10.00" height="134.80" fill="url(#g2)"/>
<rect x="518.70" y="18.20" width="10.00" height="134.80" fill="none" stroke="#000" stroke-opacity="0.25" stroke-width="0.5"/>
<path d="M518.70 31.64h1.5M528.70 31.64h-1.5" stroke="#000" stroke-opacity="0.5" stroke-width="0.6"/>
<text x="530.60" y="34.14" font-size="7.1" fill="#000" font-style="italic" textLength="12.61" lengthAdjust="spacingAndGlyphs">−0.1</text>
<path d="M518.70 45.13h1.5M528.70 45.13h-1.5" stroke="#000" stroke-opacity="0.5" stroke-width="0.6"/>
<text x="530.60" y="47.63" font-size="7.1" fill="#000" font-style="italic" textLength="12.61" lengthAdjust="spacingAndGlyphs">−0.2</text>
<path d="M518.70 58.61h1.5M528.70 58.61h-1.5" stroke="#000" stroke-opacity="0.5" stroke-width="0.6"/>
<text x="530.60" y="61.11" font-size="7.1" fill="#000" font-style="italic" textLength="12.61" lengthAdjust="spacingAndGlyphs">−0.3</text>
<path d="M518.70 72.10h1.5M528.70 72.10h-1.5" stroke="#000" stroke-opacity="0.5" stroke-width="0.6"/>
<text x="530.60" y="74.60" font-size="7.1" fill="#000" font-style="italic" textLength="12.61" lengthAdjust="spacingAndGlyphs">−0.4</text>
<path d="M518.70 85.58h1.5M528.70 85.58h-1.5" stroke="#000" stroke-opacity="0.5" stroke-width="0.6"/>
<text x="530.60" y="88.08" font-size="7.1" fill="#000" font-style="italic" textLength="12.61" lengthAdjust="spacingAndGlyphs">−0.5</text>
<path d="M518.70 99.06h1.5M528.70 99.06h-1.5" stroke="#000" stroke-opacity="0.5" stroke-width="0.6"/>
<text x="530.60" y="101.56" font-size="7.1" fill="#000" font-style="italic" textLength="12.61" lengthAdjust="spacingAndGlyphs">−0.6</text>
<path d="M518.70 112.55h1.5M528.70 112.55h-1.5" stroke="#000" stroke-opacity="0.5" stroke-width="0.6"/>
<text x="530.60" y="115.05" font-size="7.1" fill="#000" font-style="italic" textLength="12.61" lengthAdjust="spacingAndGlyphs">−0.7</text>
<path d="M518.70 126.03h1.5M528.70 126.03h-1.5" stroke="#000" stroke-opacity="0.5" stroke-width="0.6"/>
<text x="530.60" y="128.53" font-size="7.1" fill="#000" font-style="italic" textLength="12.61" lengthAdjust="spacingAndGlyphs">−0.8</text>
<path d="M518.70 139.52h1.5M528.70 139.52h-1.5" stroke="#000" stroke-opacity="0.5" stroke-width="0.6"/>
<text x="530.60" y="142.02" font-size="7.1" fill="#000" font-style="italic" textLength="12.61" lengthAdjust="spacingAndGlyphs">−0.9</text>
<path d="M518.70 153.00h1.5M528.70 153.00h-1.5" stroke="#000" stroke-opacity="0.5" stroke-width="0.6"/>
<text x="530.60" y="155.50" font-size="7.1" fill="#000" font-style="italic" textLength="7.28" lengthAdjust="spacingAndGlyphs">−1</text>
<text x="396.50" y="12.20" font-size="10.33" fill="#111" stroke="#111" stroke-width="0.25">(c) Vertical component</text>
<rect x="12.80" y="319.54" width="7.85" height="6.85" fill="#960000"/><rect x="19.65" y="319.54" width="7.85" height="6.85" fill="#960000"/><rect x="26.50" y="319.54" width="7.85" height="6.85" fill="#960000"/><rect x="33.35" y="319.54" width="7.85" height="6.85" fill="#960000"/><rect x="40.20" y="319.54" width="7.85" height="6.85" fill="#960000"/><rect x="47.05" y="319.54" width="7.85" height="6.85" fill="#a90000"/><rect x="53.90" y="319.54" width="7.85" height="6.85" fill="#a90000"/><rect x="60.75" y="319.54" width="7.85" height="6.85" fill="#a90000"/><rect x="67.60" y="319.54" width="7.85" height="6.85" fill="#a90000"/><rect x="74.45" y="319.54" width="7.85" height="6.85" fill="#bb0000"/><rect x="81.30" y="319.54" width="7.85" height="6.85" fill="#bb0000"/><rect x="88.15" y="319.54" width="7.85" height="6.85" fill="#bb0000"/><rect x="95.00" y="319.54" width="7.85" height="6.85" fill="#bb0000"/><rect x="101.85" y="319.54" width="7.85" height="6.85" fill="#a90000"/><rect x="108.70" y="319.54" width="7.85" height="6.85" fill="#a90000"/><rect x="115.55" y="319.54" width="7.85" height="6.85" fill="#a90000"/><rect x="122.40" y="319.54" width="7.85" height="6.85" fill="#a90000"/><rect x="129.25" y="319.54" width="7.85" height="6.85" fill="#960000"/><rect x="136.10" y="319.54" width="7.85" height="6.85" fill="#960000"/><rect x="142.95" y="319.54" width="6.85" height="6.85" fill="#960000"/><rect x="12.80" y="312.69" width="7.85" height="7.85" fill="#960000"/><rect x="19.65" y="312.69" width="7.85" height="7.85" fill="#960000"/><rect x="26.50" y="312.69" width="7.85" height="7.85" fill="#960000"/><rect x="33.35" y="312.69" width="7.85" height="7.85" fill="#960000"/><rect x="40.20" y="312.69" width="7.85" height="7.85" fill="#a90000"/><rect x="47.05" y="312.69" width="7.85" height="7.85" fill="#a90000"/><rect x="53.90" y="312.69" width="7.85" height="7.85" fill="#bb0000"/><rect x="60.75" y="312.69" width="7.85" height="7.85" fill="#bb0000"/><rect x="67.60" y="312.69" width="7.85" height="7.85" fill="#cd0000"/><rect x="74.45" y="312.69" width="7.85" height="7.85" fill="#cd0000"/><rect x="81.30" y="312.69" width="7.85" height="7.85" fill="#cd0000"/><rect x="88.15" y="312.69" width="7.85" height="7.85" fill="#cd0000"/><rect x="95.00" y="312.69" width="7.85" height="7.85" fill="#cd0000"/><rect x="101.85" y="312.69" width="7.85" height="7.85" fill="#cd0000"/><rect x="108.70" y="312.69" width="7.85" height="7.85" fill="#bb0000"/><rect x="115.55" y="312.69" width="7.85" height="7.85" fill="#bb0000"/><rect x="122.40" y="312.69" width="7.85" height="7.85" fill="#a90000"/><rect x="129.25" y="312.69" width="7.85" height="7.85" fill="#a90000"/><rect x="136.10" y="312.69" width="7.85" height="7.85" fill="#960000"/><rect x="142.95" y="312.69" width="6.85" height="7.85" fill="#960000"/><rect x="12.80" y="305.83" width="7.85" height="7.85" fill="#960000"/><rect x="19.65" y="305.83" width="7.85" height="7.85" fill="#960000"/><rect x="26.50" y="305.83" width="7.85" height="7.85" fill="#960000"/><rect x="33.35" y="305.83" width="7.85" height="7.85" fill="#a90000"/><rect x="40.20" y="305.83" width="7.85" height="7.85" fill="#a90000"/><rect x="47.05" y="305.83" width="7.85" height="7.85" fill="#bb0000"/><rect x="53.90" y="305.83" width="7.85" height="7.85" fill="#cd0000"/><rect x="60.75" y="305.83" width="7.85" height="7.85" fill="#e00000"/><rect x="67.60" y="305.83" width="7.85" height="7.85" fill="#f20000"/><rect x="74.45" y="305.83" width="7.85" height="7.85" fill="#f20000"/><rect x="81.30" y="305.83" width="7.85" height="7.85" fill="#ff0000"/><rect x="88.15" y="305.83" width="7.85" height="7.85" fill="#ff0000"/><rect x="95.00" y="305.83" width="7.85" height="7.85" fill="#f20000"/><rect x="101.85" y="305.83" width="7.85" height="7.85" fill="#f20000"/><rect x="108.70" y="305.83" width="7.85" height="7.85" fill="#e00000"/><rect x="115.55" y="305.83" width="7.85" height="7.85" fill="#cd0000"/><rect x="122.40" y="305.83" width="7.85" height="7.85" fill="#bb0000"/><rect x="129.25" y="305.83" width="7.85" height="7.85" fill="#a90000"/><rect x="136.10" y="305.83" width="7.85" height="7.85" fill="#a90000"/><rect x="142.95" y="305.83" width="6.85" height="7.85" fill="#960000"/><rect x="12.80" y="298.98" width="7.85" height="7.85" fill="#960000"/><rect x="19.65" y="298.98" width="7.85" height="7.85" fill="#960000"/><rect x="26.50" y="298.98" width="7.85" height="7.85" fill="#a90000"/><rect x="33.35" y="298.98" width="7.85" height="7.85" fill="#a90000"/><rect x="40.20" y="298.98" width="7.85" height="7.85" fill="#bb0000"/><rect x="47.05" y="298.98" width="7.85" height="7.85" fill="#cd0000"/><rect x="53.90" y="298.98" width="7.85" height="7.85" fill="#f20000"/><rect x="60.75" y="298.98" width="7.85" height="7.85" fill="#ff0000"/><rect x="67.60" y="298.98" width="7.85" height="7.85" fill="#ff0000"/><rect x="74.45" y="298.98" width="7.85" height="7.85" fill="#ff0700"/><rect x="81.30" y="298.98" width="7.85" height="7.85" fill="#ff0700"/><rect x="88.15" y="298.98" width="7.85" height="7.85" fill="#ff0700"/><rect x="95.00" y="298.98" width="7.85" height="7.85" fill="#ff0700"/><rect x="101.85" y="298.98" width="7.85" height="7.85" fill="#ff0000"/><rect x="108.70" y="298.98" width="7.85" height="7.85" fill="#ff0000"/><rect x="115.55" y="298.98" width="7.85" height="7.85" fill="#f20000"/><rect x="122.40" y="298.98" width="7.85" height="7.85" fill="#cd0000"/><rect x="129.25" y="298.98" width="7.85" height="7.85" fill="#bb0000"/><rect x="136.10" y="298.98" width="7.85" height="7.85" fill="#a90000"/><rect x="142.95" y="298.98" width="6.85" height="7.85" fill="#a90000"/><rect x="12.80" y="292.12" width="7.85" height="7.85" fill="#960000"/><rect x="19.65" y="292.12" width="7.85" height="7.85" fill="#a90000"/><rect x="26.50" y="292.12" width="7.85" height="7.85" fill="#a90000"/><rect x="33.35" y="292.12" width="7.85" height="7.85" fill="#bb0000"/><rect x="40.20" y="292.12" width="7.85" height="7.85" fill="#e00000"/><rect x="47.05" y="292.12" width="7.85" height="7.85" fill="#f20000"/><rect x="53.90" y="292.12" width="7.85" height="7.85" fill="#ff0000"/><rect x="60.75" y="292.12" width="7.85" height="7.85" fill="#ff1a00"/><rect x="67.60" y="292.12" width="7.85" height="7.85" fill="#ff3e00"/><rect x="74.45" y="292.12" width="7.85" height="7.85" fill="#ff5f00"/><rect x="81.30" y="292.12" width="7.85" height="7.85" fill="#ff7000"/><rect x="88.15" y="292.12" width="7.85" height="7.85" fill="#ff7000"/><rect x="95.00" y="292.12" width="7.85" height="7.85" fill="#ff5f00"/><rect x="101.85" y="292.12" width="7.85" height="7.85" fill="#ff3e00"/><rect x="108.70" y="292.12" width="7.85" height="7.85" fill="#ff1a00"/><rect x="115.55" y="292.12" width="7.85" height="7.85" fill="#ff0000"/><rect x="122.40" y="292.12" width="7.85" height="7.85" fill="#f20000"/><rect x="129.25" y="292.12" width="7.85" height="7.85" fill="#e00000"/><rect x="136.10" y="292.12" width="7.85" height="7.85" fill="#bb0000"/><rect x="142.95" y="292.12" width="6.85" height="7.85" fill="#a90000"/><rect x="12.80" y="285.27" width="7.85" height="7.85" fill="#960000"/><rect x="19.65" y="285.27" width="7.85" height="7.85" fill="#a90000"/><rect x="26.50" y="285.27" width="7.85" height="7.85" fill="#bb0000"/><rect x="33.35" y="285.27" width="7.85" height="7.85" fill="#cd0000"/><rect x="40.20" y="285.27" width="7.85" height="7.85" fill="#f20000"/><rect x="47.05" y="285.27" width="7.85" height="7.85" fill="#ff0000"/><rect x="53.90" y="285.27" width="7.85" height="7.85" fill="#ff2c00"/><rect x="60.75" y="285.27" width="7.85" height="7.85" fill="#ff5f00"/><rect x="67.60" y="285.27" width="7.85" height="7.85" fill="#ffa100"/><rect x="74.45" y="285.27" width="7.85" height="7.85" fill="#ffc100"/><rect x="81.30" y="285.27" width="7.85" height="7.85" fill="#ffe000"/><rect x="88.15" y="285.27" width="7.85" height="7.85" fill="#ffe000"/><rect x="95.00" y="285.27" width="7.85" height="7.85" fill="#ffc100"/><rect x="101.85" y="285.27" width="7.85" height="7.85" fill="#ffa100"/><rect x="108.70" y="285.27" width="7.85" height="7.85" fill="#ff5f00"/><rect x="115.55" y="285.27" width="7.85" height="7.85" fill="#ff2c00"/><rect x="122.40" y="285.27" width="7.85" height="7.85" fill="#ff0000"/><rect x="129.25" y="285.27" width="7.85" height="7.85" fill="#f20000"/><rect x="136.10" y="285.27" width="7.85" height="7.85" fill="#cd0000"/><rect x="142.95" y="285.27" width="6.85" height="7.85" fill="#bb0000"/><rect x="12.80" y="278.41" width="7.85" height="7.85" fill="#a90000"/><rect x="19.65" y="278.41" width="7.85" height="7.85" fill="#a90000"/><rect x="26.50" y="278.41" width="7.85" height="7.85" fill="#cd0000"/><rect x="33.35" y="278.41" width="7.85" height="7.85" fill="#e00000"/><rect x="40.20" y="278.41" width="7.85" height="7.85" fill="#ff0000"/><rect x="47.05" y="278.41" width="7.85" height="7.85" fill="#ff1a00"/><rect x="53.90" y="278.41" width="7.85" height="7.85" fill="#ff7000"/><rect x="60.75" y="278.41" width="7.85" height="7.85" fill="#ffc100"/><rect x="67.60" y="278.41" width="7.85" height="7.85" fill="#ffff00"/><rect x="74.45" y="278.41" width="7.85" height="7.85" fill="#9fff13"/><rect x="81.30" y="278.41" width="7.85" height="7.85" fill="#00ff64"/><rect x="88.15" y="278.41" width="7.85" height="7.85" fill="#00ff64"/><rect x="95.00" y="278.41" width="7.85" height="7.85" fill="#9fff13"/><rect x="101.85" y="278.41" width="7.85" height="7.85" fill="#ffff00"/><rect x="108.70" y="278.41" width="7.85" height="7.85" fill="#ffc100"/><rect x="115.55" y="278.41" width="7.85" height="7.85" fill="#ff7000"/><rect x="122.40" y="278.41" width="7.85" height="7.85" fill="#ff1a00"/><rect x="129.25" y="278.41" width="7.85" height="7.85" fill="#ff0000"/><rect x="136.10" y="278.41" width="7.85" height="7.85" fill="#e00000"/><rect x="142.95" y="278.41" width="6.85" height="7.85" fill="#cd0000"/><rect x="12.80" y="271.56" width="7.85" height="7.85" fill="#a90000"/><rect x="19.65" y="271.56" width="7.85" height="7.85" fill="#bb0000"/><rect x="26.50" y="271.56" width="7.85" height="7.85" fill="#cd0000"/><rect x="33.35" y="271.56" width="7.85" height="7.85" fill="#ff0000"/><rect x="40.20" y="271.56" width="7.85" height="7.85" fill="#ff0700"/><rect x="47.05" y="271.56" width="7.85" height="7.85" fill="#ff4f00"/><rect x="53.90" y="271.56" width="7.85" height="7.85" fill="#ffb100"/><rect x="60.75" y="271.56" width="7.85" height="7.85" fill="#e9ff00"/><rect x="67.60" y="271.56" width="7.85" height="7.85" fill="#00ff77"/><rect x="74.45" y="271.56" width="7.85" height="7.85" fill="#00ffce"/><rect x="81.30" y="271.56" width="7.85" height="7.85" fill="#00ffff"/><rect x="88.15" y="271.56" width="7.85" height="7.85" fill="#00ffff"/><rect x="95.00" y="271.56" width="7.85" height="7.85" fill="#00ffce"/><rect x="101.85" y="271.56" width="7.85" height="7.85" fill="#00ff77"/><rect x="108.70" y="271.56" width="7.85" height="7.85" fill="#e9ff00"/><rect x="115.55" y="271.56" width="7.85" height="7.85" fill="#ffb100"/><rect x="122.40" y="271.56" width="7.85" height="7.85" fill="#ff4f00"/><rect x="129.25" y="271.56" width="7.85" height="7.85" fill="#ff0700"/><rect x="136.10" y="271.56" width="7.85" height="7.85" fill="#ff0000"/><rect x="142.95" y="271.56" width="6.85" height="7.85" fill="#cd0000"/><rect x="12.80" y="264.70" width="7.85" height="7.85" fill="#a90000"/><rect x="19.65" y="264.70" width="7.85" height="7.85" fill="#bb0000"/><rect x="26.50" y="264.70" width="7.85" height="7.85" fill="#e00000"/><rect x="33.35" y="264.70" width="7.85" height="7.85" fill="#ff0000"/><rect x="40.20" y="264.70" width="7.85" height="7.85" fill="#ff1a00"/><rect x="47.05" y="264.70" width="7.85" height="7.85" fill="#ff8100"/><rect x="53.90" y="264.70" width="7.85" height="7.85" fill="#fff000"/><rect x="60.75" y="264.70" width="7.85" height="7.85" fill="#00ff64"/><rect x="67.60" y="264.70" width="7.85" height="7.85" fill="#00ffef"/><rect x="74.45" y="264.70" width="7.85" height="7.85" fill="#00b1ff"/><rect x="81.30" y="264.70" width="7.85" height="7.85" fill="#0070ff"/><rect x="88.15" y="264.70" width="7.85" height="7.85" fill="#0070ff"/><rect x="95.00" y="264.70" width="7.85" height="7.85" fill="#00b1ff"/><rect x="101.85" y="264.70" width="7.85" height="7.85" fill="#00ffef"/><rect x="108.70" y="264.70" width="7.85" height="7.85" fill="#00ff64"/><rect x="115.55" y="264.70" width="7.85" height="7.85" fill="#fff000"/><rect x="122.40" y="264.70" width="7.85" height="7.85" fill="#ff8100"/><rect x="129.25" y="264.70" width="7.85" height="7.85" fill="#ff1a00"/><rect x="136.10" y="264.70" width="7.85" height="7.85" fill="#ff0000"/><rect x="142.95" y="264.70" width="6.85" height="7.85" fill="#e00000"/><rect x="12.80" y="257.85" width="7.85" height="7.85" fill="#a90000"/><rect x="19.65" y="257.85" width="7.85" height="7.85" fill="#bb0000"/><rect x="26.50" y="257.85" width="7.85" height="7.85" fill="#e00000"/><rect x="33.35" y="257.85" width="7.85" height="7.85" fill="#ff0000"/><rect x="40.20" y="257.85" width="7.85" height="7.85" fill="#ff3e00"/><rect x="47.05" y="257.85" width="7.85" height="7.85" fill="#ffa100"/><rect x="53.90" y="257.85" width="7.85" height="7.85" fill="#e9ff00"/><rect x="60.75" y="257.85" width="7.85" height="7.85" fill="#00ff9b"/><rect x="67.60" y="257.85" width="7.85" height="7.85" fill="#00c1ff"/><rect x="74.45" y="257.85" width="7.85" height="7.85" fill="#004fff"/><rect x="81.30" y="257.85" width="7.85" height="7.85" fill="#0007ff"/><rect x="88.15" y="257.85" width="7.85" height="7.85" fill="#0007ff"/><rect x="95.00" y="257.85" width="7.85" height="7.85" fill="#004fff"/><rect x="101.85" y="257.85" width="7.85" height="7.85" fill="#00c1ff"/><rect x="108.70" y="257.85" width="7.85" height="7.85" fill="#00ff9b"/><rect x="115.55" y="257.85" width="7.85" height="7.85" fill="#e9ff00"/><rect x="122.40" y="257.85" width="7.85" height="7.85" fill="#ffa100"/><rect x="129.25" y="257.85" width="7.85" height="7.85" fill="#ff3e00"/><rect x="136.10" y="257.85" width="7.85" height="7.85" fill="#ff0000"/><rect x="142.95" y="257.85" width="6.85" height="7.85" fill="#e00000"/><rect x="12.80" y="251.00" width="7.85" height="7.85" fill="#a90000"/><rect x="19.65" y="251.00" width="7.85" height="7.85" fill="#bb0000"/><rect x="26.50" y="251.00" width="7.85" height="7.85" fill="#e00000"/><rect x="33.35" y="251.00" width="7.85" height="7.85" fill="#ff0000"/><rect x="40.20" y="251.00" width="7.85" height="7.85" fill="#ff3e00"/><rect x="47.05" y="251.00" width="7.85" height="7.85" fill="#ffa100"/><rect x="53.90" y="251.00" width="7.85" height="7.85" fill="#d2ff00"/><rect x="60.75" y="251.00" width="7.85" height="7.85" fill="#00ffbd"/><rect x="67.60" y="251.00" width="7.85" height="7.85" fill="#00b1ff"/><rect x="74.45" y="251.00" width="7.85" height="7.85" fill="#002cff"/><rect x="81.30" y="251.00" width="7.85" height="7.85" fill="#0000e4"/><rect x="88.15" y="251.00" width="7.85" height="7.85" fill="#0000e4"/><rect x="95.00" y="251.00" width="7.85" height="7.85" fill="#002cff"/><rect x="101.85" y="251.00" width="7.85" height="7.85" fill="#00b1ff"/><rect x="108.70" y="251.00" width="7.85" height="7.85" fill="#00ffbd"/><rect x="115.55" y="251.00" width="7.85" height="7.85" fill="#d2ff00"/><rect x="122.40" y="251.00" width="7.85" height="7.85" fill="#ffa100"/><rect x="129.25" y="251.00" width="7.85" height="7.85" fill="#ff3e00"/><rect x="136.10" y="251.00" width="7.85" height="7.85" fill="#ff0000"/><rect x="142.95" y="251.00" width="6.85" height="7.85" fill="#e00000"/><rect x="12.80" y="244.14" width="7.85" height="7.85" fill="#a90000"/><rect x="19.65" y="244.14" width="7.85" height="7.85" fill="#bb0000"/><rect x="26.50" y="244.14" width="7.85" height="7.85" fill="#e00000"/><rect x="33.35" y="244.14" width="7.85" height="7.85" fill="#ff0000"/><rect x="40.20" y="244.14" width="7.85" height="7.85" fill="#ff3e00"/><rect x="47.05" y="244.14" width="7.85" height="7.85" fill="#ffa100"/><rect x="53.90" y="244.14" width="7.85" height="7.85" fill="#e9ff00"/><rect x="60.75" y="244.14" width="7.85" height="7.85" fill="#00ff9b"/><rect x="67.60" y="244.14" width="7.85" height="7.85" fill="#00c1ff"/><rect x="74.45" y="244.14" width="7.85" height="7.85" fill="#004fff"/><rect x="81.30" y="244.14" width="7.85" height="7.85" fill="#0007ff"/><rect x="88.15" y="244.14" width="7.85" height="7.85" fill="#0007ff"/><rect x="95.00" y="244.14" width="7.85" height="7.85" fill="#004fff"/><rect x="101.85" y="244.14" width="7.85" height="7.85" fill="#00c1ff"/><rect x="108.70" y="244.14" width="7.85" height="7.85" fill="#00ff9b"/><rect x="115.55" y="244.14" width="7.85" height="7.85" fill="#e9ff00"/><rect x="122.40" y="244.14" width="7.85" height="7.85" fill="#ffa100"/><rect x="129.25" y="244.14" width="7.85" height="7.85" fill="#ff3e00"/><rect x="136.10" y="244.14" width="7.85" height="7.85" fill="#ff0000"/><rect x="142.95" y="244.14" width="6.85" height="7.85" fill="#e00000"/><rect x="12.80" y="237.28" width="7.85" height="7.85" fill="#a90000"/><rect x="19.65" y="237.28" width="7.85" height="7.85" fill="#bb0000"/><rect x="26.50" y="237.28" width="7.85" height="7.85" fill="#e00000"/><rect x="33.35" y="237.28" width="7.85" height="7.85" fill="#ff0000"/><rect x="40.20" y="237.28" width="7.85" height="7.85" fill="#ff1a00"/><rect x="47.05" y="237.28" width="7.85" height="7.85" fill="#ff8100"/><rect x="53.90" y="237.28" width="7.85" height="7.85" fill="#fff000"/><rect x="60.75" y="237.28" width="7.85" height="7.85" fill="#00ff64"/><rect x="67.60" y="237.28" width="7.85" height="7.85" fill="#00ffef"/><rect x="74.45" y="237.28" width="7.85" height="7.85" fill="#00b1ff"/><rect x="81.30" y="237.28" width="7.85" height="7.85" fill="#0070ff"/><rect x="88.15" y="237.28" width="7.85" height="7.85" fill="#0070ff"/><rect x="95.00" y="237.28" width="7.85" height="7.85" fill="#00b1ff"/><rect x="101.85" y="237.28" width="7.85" height="7.85" fill="#00ffef"/><rect x="108.70" y="237.28" width="7.85" height="7.85" fill="#00ff64"/><rect x="115.55" y="237.28" width="7.85" height="7.85" fill="#fff000"/><rect x="122.40" y="237.28" width="7.85" height="7.85" fill="#ff8100"/><rect x="129.25" y="237.28" width="7.85" height="7.85" fill="#ff1a00"/><rect x="136.10" y="237.28" width="7.85" height="7.85" fill="#ff0000"/><rect x="142.95" y="237.28" width="6.85" height="7.85" fill="#e00000"/><rect x="12.80" y="230.43" width="7.85" height="7.85" fill="#a90000"/><rect x="19.65" y="230.43" width="7.85" height="7.85" fill="#bb0000"/><rect x="26.50" y="230.43" width="7.85" height="7.85" fill="#cd0000"/><rect x="33.35" y="230.43" width="7.85" height="7.85" fill="#ff0000"/><rect x="40.20" y="230.43" width="7.85" height="7.85" fill="#ff0700"/><rect x="47.05" y="230.43" width="7.85" height="7.85" fill="#ff4f00"/><rect x="53.90" y="230.43" width="7.85" height="7.85" fill="#ffb100"/><rect x="60.75" y="230.43" width="7.85" height="7.85" fill="#e9ff00"/><rect x="67.60" y="230.43" width="7.85" height="7.85" fill="#00ff77"/><rect x="74.45" y="230.43" width="7.85" height="7.85" fill="#00ffce"/><rect x="81.30" y="230.43" width="7.85" height="7.85" fill="#00ffff"/><rect x="88.15" y="230.43" width="7.85" height="7.85" fill="#00ffff"/><rect x="95.00" y="230.43" width="7.85" height="7.85" fill="#00ffce"/><rect x="101.85" y="230.43" width="7.85" height="7.85" fill="#00ff77"/><rect x="108.70" y="230.43" width="7.85" height="7.85" fill="#e9ff00"/><rect x="115.55" y="230.43" width="7.85" height="7.85" fill="#ffb100"/><rect x="122.40" y="230.43" width="7.85" height="7.85" fill="#ff4f00"/><rect x="129.25" y="230.43" width="7.85" height="7.85" fill="#ff0700"/><rect x="136.10" y="230.43" width="7.85" height="7.85" fill="#ff0000"/><rect x="142.95" y="230.43" width="6.85" height="7.85" fill="#cd0000"/><rect x="12.80" y="223.57" width="7.85" height="7.85" fill="#a90000"/><rect x="19.65" y="223.57" width="7.85" height="7.85" fill="#a90000"/><rect x="26.50" y="223.57" width="7.85" height="7.85" fill="#cd0000"/><rect x="33.35" y="223.57" width="7.85" height="7.85" fill="#e00000"/><rect x="40.20" y="223.57" width="7.85" height="7.85" fill="#ff0000"/><rect x="47.05" y="223.57" width="7.85" height="7.85" fill="#ff1a00"/><rect x="53.90" y="223.57" width="7.85" height="7.85" fill="#ff7000"/><rect x="60.75" y="223.57" width="7.85" height="7.85" fill="#ffc100"/><rect x="67.60" y="223.57" width="7.85" height="7.85" fill="#ffff00"/><rect x="74.45" y="223.57" width="7.85" height="7.85" fill="#9fff13"/><rect x="81.30" y="223.57" width="7.85" height="7.85" fill="#00ff64"/><rect x="88.15" y="223.57" width="7.85" height="7.85" fill="#00ff64"/><rect x="95.00" y="223.57" width="7.85" height="7.85" fill="#9fff13"/><rect x="101.85" y="223.57" width="7.85" height="7.85" fill="#ffff00"/><rect x="108.70" y="223.57" width="7.85" height="7.85" fill="#ffc100"/><rect x="115.55" y="223.57" width="7.85" height="7.85" fill="#ff7000"/><rect x="122.40" y="223.57" width="7.85" height="7.85" fill="#ff1a00"/><rect x="129.25" y="223.57" width="7.85" height="7.85" fill="#ff0000"/><rect x="136.10" y="223.57" width="7.85" height="7.85" fill="#e00000"/><rect x="142.95" y="223.57" width="6.85" height="7.85" fill="#cd0000"/><rect x="12.80" y="216.72" width="7.85" height="7.85" fill="#960000"/><rect x="19.65" y="216.72" width="7.85" height="7.85" fill="#a90000"/><rect x="26.50" y="216.72" width="7.85" height="7.85" fill="#bb0000"/><rect x="33.35" y="216.72" width="7.85" height="7.85" fill="#cd0000"/><rect x="40.20" y="216.72" width="7.85" height="7.85" fill="#f20000"/><rect x="47.05" y="216.72" width="7.85" height="7.85" fill="#ff0000"/><rect x="53.90" y="216.72" width="7.85" height="7.85" fill="#ff2c00"/><rect x="60.75" y="216.72" width="7.85" height="7.85" fill="#ff5f00"/><rect x="67.60" y="216.72" width="7.85" height="7.85" fill="#ffa100"/><rect x="74.45" y="216.72" width="7.85" height="7.85" fill="#ffc100"/><rect x="81.30" y="216.72" width="7.85" height="7.85" fill="#ffe000"/><rect x="88.15" y="216.72" width="7.85" height="7.85" fill="#ffe000"/><rect x="95.00" y="216.72" width="7.85" height="7.85" fill="#ffc100"/><rect x="101.85" y="216.72" width="7.85" height="7.85" fill="#ffa100"/><rect x="108.70" y="216.72" width="7.85" height="7.85" fill="#ff5f00"/><rect x="115.55" y="216.72" width="7.85" height="7.85" fill="#ff2c00"/><rect x="122.40" y="216.72" width="7.85" height="7.85" fill="#ff0000"/><rect x="129.25" y="216.72" width="7.85" height="7.85" fill="#f20000"/><rect x="136.10" y="216.72" width="7.85" height="7.85" fill="#cd0000"/><rect x="142.95" y="216.72" width="6.85" height="7.85" fill="#bb0000"/><rect x="12.80" y="209.87" width="7.85" height="7.85" fill="#960000"/><rect x="19.65" y="209.87" width="7.85" height="7.85" fill="#a90000"/><rect x="26.50" y="209.87" width="7.85" height="7.85" fill="#a90000"/><rect x="33.35" y="209.87" width="7.85" height="7.85" fill="#bb0000"/><rect x="40.20" y="209.87" width="7.85" height="7.85" fill="#e00000"/><rect x="47.05" y="209.87" width="7.85" height="7.85" fill="#f20000"/><rect x="53.90" y="209.87" width="7.85" height="7.85" fill="#ff0000"/><rect x="60.75" y="209.87" width="7.85" height="7.85" fill="#ff1a00"/><rect x="67.60" y="209.87" width="7.85" height="7.85" fill="#ff3e00"/><rect x="74.45" y="209.87" width="7.85" height="7.85" fill="#ff5f00"/><rect x="81.30" y="209.87" width="7.85" height="7.85" fill="#ff7000"/><rect x="88.15" y="209.87" width="7.85" height="7.85" fill="#ff7000"/><rect x="95.00" y="209.87" width="7.85" height="7.85" fill="#ff5f00"/><rect x="101.85" y="209.87" width="7.85" height="7.85" fill="#ff3e00"/><rect x="108.70" y="209.87" width="7.85" height="7.85" fill="#ff1a00"/><rect x="115.55" y="209.87" width="7.85" height="7.85" fill="#ff0000"/><rect x="122.40" y="209.87" width="7.85" height="7.85" fill="#f20000"/><rect x="129.25" y="209.87" width="7.85" height="7.85" fill="#e00000"/><rect x="136.10" y="209.87" width="7.85" height="7.85" fill="#bb0000"/><rect x="142.95" y="209.87" width="6.85" height="7.85" fill="#a90000"/><rect x="12.80" y="203.01" width="7.85" height="7.85" fill="#960000"/><rect x="19.65" y="203.01" width="7.85" height="7.85" fill="#960000"/><rect x="26.50" y="203.01" width="7.85" height="7.85" fill="#a90000"/><rect x="33.35" y="203.01" width="7.85" height="7.85" fill="#a90000"/><rect x="40.20" y="203.01" width="7.85" height="7.85" fill="#bb0000"/><rect x="47.05" y="203.01" width="7.85" height="7.85" fill="#cd0000"/><rect x="53.90" y="203.01" width="7.85" height="7.85" fill="#f20000"/><rect x="60.75" y="203.01" width="7.85" height="7.85" fill="#ff0000"/><rect x="67.60" y="203.01" width="7.85" height="7.85" fill="#ff0000"/><rect x="74.45" y="203.01" width="7.85" height="7.85" fill="#ff0700"/><rect x="81.30" y="203.01" width="7.85" height="7.85" fill="#ff0700"/><rect x="88.15" y="203.01" width="7.85" height="7.85" fill="#ff0700"/><rect x="95.00" y="203.01" width="7.85" height="7.85" fill="#ff0700"/><rect x="101.85" y="203.01" width="7.85" height="7.85" fill="#ff0000"/><rect x="108.70" y="203.01" width="7.85" height="7.85" fill="#ff0000"/><rect x="115.55" y="203.01" width="7.85" height="7.85" fill="#f20000"/><rect x="122.40" y="203.01" width="7.85" height="7.85" fill="#cd0000"/><rect x="129.25" y="203.01" width="7.85" height="7.85" fill="#bb0000"/><rect x="136.10" y="203.01" width="7.85" height="7.85" fill="#a90000"/><rect x="142.95" y="203.01" width="6.85" height="7.85" fill="#a90000"/><rect x="12.80" y="196.16" width="7.85" height="7.85" fill="#960000"/><rect x="19.65" y="196.16" width="7.85" height="7.85" fill="#960000"/><rect x="26.50" y="196.16" width="7.85" height="7.85" fill="#960000"/><rect x="33.35" y="196.16" width="7.85" height="7.85" fill="#a90000"/><rect x="40.20" y="196.16" width="7.85" height="7.85" fill="#a90000"/><rect x="47.05" y="196.16" width="7.85" height="7.85" fill="#bb0000"/><rect x="53.90" y="196.16" width="7.85" height="7.85" fill="#cd0000"/><rect x="60.75" y="196.16" width="7.85" height="7.85" fill="#e00000"/><rect x="67.60" y="196.16" width="7.85" height="7.85" fill="#f20000"/><rect x="74.45" y="196.16" width="7.85" height="7.85" fill="#f20000"/><rect x="81.30" y="196.16" width="7.85" height="7.85" fill="#ff0000"/><rect x="88.15" y="196.16" width="7.85" height="7.85" fill="#ff0000"/><rect x="95.00" y="196.16" width="7.85" height="7.85" fill="#f20000"/><rect x="101.85" y="196.16" width="7.85" height="7.85" fill="#f20000"/><rect x="108.70" y="196.16" width="7.85" height="7.85" fill="#e00000"/><rect x="115.55" y="196.16" width="7.85" height="7.85" fill="#cd0000"/><rect x="122.40" y="196.16" width="7.85" height="7.85" fill="#bb0000"/><rect x="129.25" y="196.16" width="7.85" height="7.85" fill="#a90000"/><rect x="136.10" y="196.16" width="7.85" height="7.85" fill="#a90000"/><rect x="142.95" y="196.16" width="6.85" height="7.85" fill="#960000"/><rect x="12.80" y="189.30" width="7.85" height="7.85" fill="#960000"/><rect x="19.65" y="189.30" width="7.85" height="7.85" fill="#960000"/><rect x="26.50" y="189.30" width="7.85" height="7.85" fill="#960000"/><rect x="33.35" y="189.30" width="7.85" height="7.85" fill="#960000"/><rect x="40.20" y="189.30" width="7.85" height="7.85" fill="#a90000"/><rect x="47.05" y="189.30" width="7.85" height="7.85" fill="#a90000"/><rect x="53.90" y="189.30" width="7.85" height="7.85" fill="#bb0000"/><rect x="60.75" y="189.30" width="7.85" height="7.85" fill="#bb0000"/><rect x="67.60" y="189.30" width="7.85" height="7.85" fill="#cd0000"/><rect x="74.45" y="189.30" width="7.85" height="7.85" fill="#cd0000"/><rect x="81.30" y="189.30" width="7.85" height="7.85" fill="#cd0000"/><rect x="88.15" y="189.30" width="7.85" height="7.85" fill="#cd0000"/><rect x="95.00" y="189.30" width="7.85" height="7.85" fill="#cd0000"/><rect x="101.85" y="189.30" width="7.85" height="7.85" fill="#cd0000"/><rect x="108.70" y="189.30" width="7.85" height="7.85" fill="#bb0000"/><rect x="115.55" y="189.30" width="7.85" height="7.85" fill="#bb0000"/><rect x="122.40" y="189.30" width="7.85" height="7.85" fill="#a90000"/><rect x="129.25" y="189.30" width="7.85" height="7.85" fill="#a90000"/><rect x="136.10" y="189.30" width="7.85" height="7.85" fill="#960000"/><rect x="142.95" y="189.30" width="6.85" height="7.85" fill="#960000"/>
<path d="M19.65 189.30V326.40M12.80 196.16H149.80M26.50 189.30V326.40M12.80 203.01H149.80M33.35 189.30V326.40M12.80 209.87H149.80M40.20 189.30V326.40M12.80 216.72H149.80M47.05 189.30V326.40M12.80 223.57H149.80M53.90 189.30V326.40M12.80 230.43H149.80M60.75 189.30V326.40M12.80 237.28H149.80M67.60 189.30V326.40M12.80 244.14H149.80M74.45 189.30V326.40M12.80 251.00H149.80M81.30 189.30V326.40M12.80 257.85H149.80M88.15 189.30V326.40M12.80 264.70H149.80M95.00 189.30V326.40M12.80 271.56H149.80M101.85 189.30V326.40M12.80 278.41H149.80M108.70 189.30V326.40M12.80 285.27H149.80M115.55 189.30V326.40M12.80 292.12H149.80M122.40 189.30V326.40M12.80 298.98H149.80M129.25 189.30V326.40M12.80 305.83H149.80M136.10 189.30V326.40M12.80 312.69H149.80M142.95 189.30V326.40M12.80 319.54H149.80" stroke="#000" stroke-opacity="0.42" stroke-width="0.7" fill="none"/>
<text x="19.65" y="333.90" font-size="7.1" fill="#000" text-anchor="middle" textLength="3.55" lengthAdjust="spacingAndGlyphs">2</text>
<text x="10.80" y="321.84" font-size="7.1" fill="#000" text-anchor="end" textLength="3.55" lengthAdjust="spacingAndGlyphs">2</text>
<text x="33.35" y="333.90" font-size="7.1" fill="#000" text-anchor="middle" textLength="3.55" lengthAdjust="spacingAndGlyphs">4</text>
<text x="10.80" y="308.13" font-size="7.1" fill="#000" text-anchor="end" textLength="3.55" lengthAdjust="spacingAndGlyphs">4</text>
<text x="47.05" y="333.90" font-size="7.1" fill="#000" text-anchor="middle" textLength="3.55" lengthAdjust="spacingAndGlyphs">6</text>
<text x="10.80" y="294.43" font-size="7.1" fill="#000" text-anchor="end" textLength="3.55" lengthAdjust="spacingAndGlyphs">6</text>
<text x="60.75" y="333.90" font-size="7.1" fill="#000" text-anchor="middle" textLength="3.55" lengthAdjust="spacingAndGlyphs">8</text>
<text x="10.80" y="280.71" font-size="7.1" fill="#000" text-anchor="end" textLength="3.55" lengthAdjust="spacingAndGlyphs">8</text>
<text x="74.45" y="333.90" font-size="7.1" fill="#000" text-anchor="middle" textLength="7.11" lengthAdjust="spacingAndGlyphs">10</text>
<text x="10.80" y="267.00" font-size="7.1" fill="#000" text-anchor="end" textLength="7.11" lengthAdjust="spacingAndGlyphs">10</text>
<text x="88.15" y="333.90" font-size="7.1" fill="#000" text-anchor="middle" textLength="7.11" lengthAdjust="spacingAndGlyphs">12</text>
<text x="10.80" y="253.30" font-size="7.1" fill="#000" text-anchor="end" textLength="7.11" lengthAdjust="spacingAndGlyphs">12</text>
<text x="101.85" y="333.90" font-size="7.1" fill="#000" text-anchor="middle" textLength="7.11" lengthAdjust="spacingAndGlyphs">14</text>
<text x="10.80" y="239.59" font-size="7.1" fill="#000" text-anchor="end" textLength="7.11" lengthAdjust="spacingAndGlyphs">14</text>
<text x="115.55" y="333.90" font-size="7.1" fill="#000" text-anchor="middle" textLength="7.11" lengthAdjust="spacingAndGlyphs">16</text>
<text x="10.80" y="225.88" font-size="7.1" fill="#000" text-anchor="end" textLength="7.11" lengthAdjust="spacingAndGlyphs">16</text>
<text x="129.25" y="333.90" font-size="7.1" fill="#000" text-anchor="middle" textLength="7.11" lengthAdjust="spacingAndGlyphs">18</text>
<text x="10.80" y="212.17" font-size="7.1" fill="#000" text-anchor="end" textLength="7.11" lengthAdjust="spacingAndGlyphs">18</text>
<text x="142.95" y="333.90" font-size="7.1" fill="#000" text-anchor="middle" textLength="7.11" lengthAdjust="spacingAndGlyphs">20</text>
<text x="10.80" y="198.46" font-size="7.1" fill="#000" text-anchor="end" textLength="7.11" lengthAdjust="spacingAndGlyphs">20</text>
<defs><linearGradient id="g3" x1="0" y1="0" x2="0" y2="1"><stop offset="0.0078" stop-color="#960000"/><stop offset="0.0234" stop-color="#a90000"/><stop offset="0.0391" stop-color="#bb0000"/><stop offset="0.0547" stop-color="#cd0000"/><stop offset="0.0703" stop-color="#e00000"/><stop offset="0.0859" stop-color="#f20000"/><stop offset="0.1016" stop-color="#ff0000"/><stop offset="0.1172" stop-color="#ff0000"/><stop offset="0.1328" stop-color="#ff0000"/><stop offset="0.1484" stop-color="#ff0700"/><stop offset="0.1641" stop-color="#ff1a00"/><stop offset="0.1797" stop-color="#ff2c00"/><stop offset="0.1953" stop-color="#ff3e00"/><stop offset="0.2109" stop-color="#ff4f00"/><stop offset="0.2266" stop-color="#ff5f00"/><stop offset="0.2422" stop-color="#ff7000"/><stop offset="0.2578" stop-color="#ff8100"/><stop offset="0.2734" stop-color="#ff9100"/><stop offset="0.2891" stop-color="#ffa100"/><stop offset="0.3047" stop-color="#ffb100"/><stop offset="0.3203" stop-color="#ffc100"/><stop offset="0.3359" stop-color="#ffd000"/><stop offset="0.3516" stop-color="#ffe000"/><stop offset="0.3672" stop-color="#fff000"/><stop offset="0.3828" stop-color="#ffff00"/><stop offset="0.3984" stop-color="#e9ff00"/><stop offset="0.4141" stop-color="#d2ff00"/><stop offset="0.4297" stop-color="#b9ff00"/><stop offset="0.4453" stop-color="#9fff13"/><stop offset="0.4609" stop-color="#80ff37"/><stop offset="0.4766" stop-color="#59ff4f"/><stop offset="0.4922" stop-color="#00ff64"/><stop offset="0.5078" stop-color="#00ff77"/><stop offset="0.5234" stop-color="#00ff89"/><stop offset="0.5391" stop-color="#00ff9b"/><stop offset="0.5547" stop-color="#00ffac"/><stop offset="0.5703" stop-color="#00ffbd"/><stop offset="0.5859" stop-color="#00ffce"/><stop offset="0.6016" stop-color="#00ffdf"/><stop offset="0.6172" stop-color="#00ffef"/><stop offset="0.6328" stop-color="#00ffff"/><stop offset="0.6484" stop-color="#00f0ff"/><stop offset="0.6641" stop-color="#00e0ff"/><stop offset="0.6797" stop-color="#00d0ff"/><stop offset="0.6953" stop-color="#00c1ff"/><stop offset="0.7109" stop-color="#00b1ff"/><stop offset="0.7266" stop-color="#00a1ff"/><stop offset="0.7422" stop-color="#0091ff"/><stop offset="0.7578" stop-color="#0081ff"/><stop offset="0.7734" stop-color="#0070ff"/><stop offset="0.7891" stop-color="#005fff"/><stop offset="0.8047" stop-color="#004fff"/><stop offset="0.8203" stop-color="#003eff"/><stop offset="0.8359" stop-color="#002cff"/><stop offset="0.8516" stop-color="#001aff"/><stop offset="0.8672" stop-color="#0007ff"/><stop offset="0.8828" stop-color="#0000ff"/><stop offset="0.8984" stop-color="#0000f4"/><stop offset="0.9141" stop-color="#0000e4"/><stop offset="0.9297" stop-color="#0000d4"/><stop offset="0.9453" stop-color="#0000c4"/><stop offset="0.9609" stop-color="#0000b4"/><stop offset="0.9766" stop-color="#0000a4"/><stop offset="0.9922" stop-color="#000094"/></linearGradient></defs>
<rect x="157.20" y="189.20" width="10.00" height="137.50" fill="url(#g3)"/>
<rect x="157.20" y="189.20" width="10.00" height="137.50" fill="none" stroke="#000" stroke-opacity="0.25" stroke-width="0.5"/>
<path d="M157.20 189.20h1.5M167.20 189.20h-1.5" stroke="#000" stroke-opacity="0.5" stroke-width="0.6"/>
<text x="169.10" y="191.70" font-size="7.1" fill="#000" font-style="italic" textLength="3.55" lengthAdjust="spacingAndGlyphs">0</text>
<path d="M157.20 202.95h1.5M167.20 202.95h-1.5" stroke="#000" stroke-opacity="0.5" stroke-width="0.6"/>
<text x="169.10" y="205.45" font-size="7.1" fill="#000" font-style="italic" textLength="12.61" lengthAdjust="spacingAndGlyphs">−0.1</text>
<path d="M157.20 216.70h1.5M167.20 216.70h-1.5" stroke="#000" stroke-opacity="0.5" stroke-width="0.6"/>
<text x="169.10" y="219.20" font-size="7.1" fill="#000" font-style="italic" textLength="12.61" lengthAdjust="spacingAndGlyphs">−0.2</text>
<path d="M157.20 230.45h1.5M167.20 230.45h-1.5" stroke="#000" stroke-opacity="0.5" stroke-width="0.6"/>
<text x="169.10" y="232.95" font-size="7.1" fill="#000" font-style="italic" textLength="12.61" lengthAdjust="spacingAndGlyphs">−0.3</text>
<path d="M157.20 244.20h1.5M167.20 244.20h-1.5" stroke="#000" stroke-opacity="0.5" stroke-width="0.6"/>
<text x="169.10" y="246.70" font-size="7.1" fill="#000" font-style="italic" textLength="12.61" lengthAdjust="spacingAndGlyphs">−0.4</text>
<path d="M157.20 257.95h1.5M167.20 257.95h-1.5" stroke="#000" stroke-opacity="0.5" stroke-width="0.6"/>
<text x="169.10" y="260.45" font-size="7.1" fill="#000" font-style="italic" textLength="12.61" lengthAdjust="spacingAndGlyphs">−0.5</text>
<path d="M157.20 271.70h1.5M167.20 271.70h-1.5" stroke="#000" stroke-opacity="0.5" stroke-width="0.6"/>
<text x="169.10" y="274.20" font-size="7.1" fill="#000" font-style="italic" textLength="12.61" lengthAdjust="spacingAndGlyphs">−0.6</text>
<path d="M157.20 285.45h1.5M167.20 285.45h-1.5" stroke="#000" stroke-opacity="0.5" stroke-width="0.6"/>
<text x="169.10" y="287.95" font-size="7.1" fill="#000" font-style="italic" textLength="12.61" lengthAdjust="spacingAndGlyphs">−0.7</text>
<path d="M157.20 299.20h1.5M167.20 299.20h-1.5" stroke="#000" stroke-opacity="0.5" stroke-width="0.6"/>
<text x="169.10" y="301.70" font-size="7.1" fill="#000" font-style="italic" textLength="12.61" lengthAdjust="spacingAndGlyphs">−0.8</text>
<path d="M157.20 312.95h1.5M167.20 312.95h-1.5" stroke="#000" stroke-opacity="0.5" stroke-width="0.6"/>
<text x="169.10" y="315.45" font-size="7.1" fill="#000" font-style="italic" textLength="12.61" lengthAdjust="spacingAndGlyphs">−0.9</text>
<path d="M157.20 326.70h1.5M167.20 326.70h-1.5" stroke="#000" stroke-opacity="0.5" stroke-width="0.6"/>
<text x="169.10" y="329.20" font-size="7.1" fill="#000" font-style="italic" textLength="7.28" lengthAdjust="spacingAndGlyphs">−1</text>
<text x="19.50" y="181.90" font-size="10.7" fill="#111" stroke="#111" stroke-width="0.25">(d) Simulated Los displacement</text>
<rect x="194.90" y="320.73" width="7.85" height="6.87" fill="#960000"/><rect x="201.75" y="320.73" width="7.85" height="6.87" fill="#960000"/><rect x="208.61" y="320.73" width="7.85" height="6.87" fill="#960000"/><rect x="215.47" y="320.73" width="7.85" height="6.87" fill="#960000"/><rect x="222.32" y="320.73" width="7.85" height="6.87" fill="#960000"/><rect x="229.18" y="320.73" width="7.85" height="6.87" fill="#a90000"/><rect x="236.03" y="320.73" width="7.85" height="6.87" fill="#a90000"/><rect x="242.88" y="320.73" width="7.85" height="6.87" fill="#a90000"/><rect x="249.74" y="320.73" width="7.85" height="6.87" fill="#bb0000"/><rect x="256.60" y="320.73" width="7.85" height="6.87" fill="#bb0000"/><rect x="263.45" y="320.73" width="7.85" height="6.87" fill="#bb0000"/><rect x="270.31" y="320.73" width="7.85" height="6.87" fill="#bb0000"/><rect x="277.16" y="320.73" width="7.85" height="6.87" fill="#bb0000"/><rect x="284.01" y="320.73" width="7.85" height="6.87" fill="#bb0000"/><rect x="290.87" y="320.73" width="7.85" height="6.87" fill="#a90000"/><rect x="297.73" y="320.73" width="7.85" height="6.87" fill="#a90000"/><rect x="304.58" y="320.73" width="7.85" height="6.87" fill="#a90000"/><rect x="311.44" y="320.73" width="7.85" height="6.87" fill="#960000"/><rect x="318.29" y="320.73" width="7.85" height="6.87" fill="#960000"/><rect x="325.14" y="320.73" width="6.85" height="6.87" fill="#960000"/><rect x="194.90" y="313.86" width="7.85" height="7.87" fill="#960000"/><rect x="201.75" y="313.86" width="7.85" height="7.87" fill="#960000"/><rect x="208.61" y="313.86" width="7.85" height="7.87" fill="#960000"/><rect x="215.47" y="313.86" width="7.85" height="7.87" fill="#a90000"/><rect x="222.32" y="313.86" width="7.85" height="7.87" fill="#a90000"/><rect x="229.18" y="313.86" width="7.85" height="7.87" fill="#a90000"/><rect x="236.03" y="313.86" width="7.85" height="7.87" fill="#bb0000"/><rect x="242.88" y="313.86" width="7.85" height="7.87" fill="#cd0000"/><rect x="249.74" y="313.86" width="7.85" height="7.87" fill="#cd0000"/><rect x="256.60" y="313.86" width="7.85" height="7.87" fill="#e00000"/><rect x="263.45" y="313.86" width="7.85" height="7.87" fill="#e00000"/><rect x="270.31" y="313.86" width="7.85" height="7.87" fill="#e00000"/><rect x="277.16" y="313.86" width="7.85" height="7.87" fill="#e00000"/><rect x="284.01" y="313.86" width="7.85" height="7.87" fill="#cd0000"/><rect x="290.87" y="313.86" width="7.85" height="7.87" fill="#cd0000"/><rect x="297.73" y="313.86" width="7.85" height="7.87" fill="#bb0000"/><rect x="304.58" y="313.86" width="7.85" height="7.87" fill="#a90000"/><rect x="311.44" y="313.86" width="7.85" height="7.87" fill="#a90000"/><rect x="318.29" y="313.86" width="7.85" height="7.87" fill="#a90000"/><rect x="325.14" y="313.86" width="6.85" height="7.87" fill="#960000"/><rect x="194.90" y="306.99" width="7.85" height="7.87" fill="#960000"/><rect x="201.75" y="306.99" width="7.85" height="7.87" fill="#960000"/><rect x="208.61" y="306.99" width="7.85" height="7.87" fill="#a90000"/><rect x="215.47" y="306.99" width="7.85" height="7.87" fill="#a90000"/><rect x="222.32" y="306.99" width="7.85" height="7.87" fill="#bb0000"/><rect x="229.18" y="306.99" width="7.85" height="7.87" fill="#bb0000"/><rect x="236.03" y="306.99" width="7.85" height="7.87" fill="#cd0000"/><rect x="242.88" y="306.99" width="7.85" height="7.87" fill="#e00000"/><rect x="249.74" y="306.99" width="7.85" height="7.87" fill="#f20000"/><rect x="256.60" y="306.99" width="7.85" height="7.87" fill="#ff0000"/><rect x="263.45" y="306.99" width="7.85" height="7.87" fill="#ff0000"/><rect x="270.31" y="306.99" width="7.85" height="7.87" fill="#ff0000"/><rect x="277.16" y="306.99" width="7.85" height="7.87" fill="#ff0000"/><rect x="284.01" y="306.99" width="7.85" height="7.87" fill="#f20000"/><rect x="290.87" y="306.99" width="7.85" height="7.87" fill="#e00000"/><rect x="297.73" y="306.99" width="7.85" height="7.87" fill="#cd0000"/><rect x="304.58" y="306.99" width="7.85" height="7.87" fill="#bb0000"/><rect x="311.44" y="306.99" width="7.85" height="7.87" fill="#bb0000"/><rect x="318.29" y="306.99" width="7.85" height="7.87" fill="#a90000"/><rect x="325.14" y="306.99" width="6.85" height="7.87" fill="#a90000"/><rect x="194.90" y="300.12" width="7.85" height="7.87" fill="#960000"/><rect x="201.75" y="300.12" width="7.85" height="7.87" fill="#960000"/><rect x="208.61" y="300.12" width="7.85" height="7.87" fill="#a90000"/><rect x="215.47" y="300.12" width="7.85" height="7.87" fill="#bb0000"/><rect x="222.32" y="300.12" width="7.85" height="7.87" fill="#cd0000"/><rect x="229.18" y="300.12" width="7.85" height="7.87" fill="#e00000"/><rect x="236.03" y="300.12" width="7.85" height="7.87" fill="#f20000"/><rect x="242.88" y="300.12" width="7.85" height="7.87" fill="#ff0000"/><rect x="249.74" y="300.12" width="7.85" height="7.87" fill="#ff0700"/><rect x="256.60" y="300.12" width="7.85" height="7.87" fill="#ff1a00"/><rect x="263.45" y="300.12" width="7.85" height="7.87" fill="#ff1a00"/><rect x="270.31" y="300.12" width="7.85" height="7.87" fill="#ff1a00"/><rect x="277.16" y="300.12" width="7.85" height="7.87" fill="#ff1a00"/><rect x="284.01" y="300.12" width="7.85" height="7.87" fill="#ff0700"/><rect x="290.87" y="300.12" width="7.85" height="7.87" fill="#ff0000"/><rect x="297.73" y="300.12" width="7.85" height="7.87" fill="#f20000"/><rect x="304.58" y="300.12" width="7.85" height="7.87" fill="#e00000"/><rect x="311.44" y="300.12" width="7.85" height="7.87" fill="#cd0000"/><rect x="318.29" y="300.12" width="7.85" height="7.87" fill="#bb0000"/><rect x="325.14" y="300.12" width="6.85" height="7.87" fill="#a90000"/><rect x="194.90" y="293.25" width="7.85" height="7.87" fill="#960000"/><rect x="201.75" y="293.25" width="7.85" height="7.87" fill="#a90000"/><rect x="208.61" y="293.25" width="7.85" height="7.87" fill="#bb0000"/><rect x="215.47" y="293.25" width="7.85" height="7.87" fill="#cd0000"/><rect x="222.32" y="293.25" width="7.85" height="7.87" fill="#e00000"/><rect x="229.18" y="293.25" width="7.85" height="7.87" fill="#ff0000"/><rect x="236.03" y="293.25" width="7.85" height="7.87" fill="#ff0000"/><rect x="242.88" y="293.25" width="7.85" height="7.87" fill="#ff2c00"/><rect x="249.74" y="293.25" width="7.85" height="7.87" fill="#ff4f00"/><rect x="256.60" y="293.25" width="7.85" height="7.87" fill="#ff7000"/><rect x="263.45" y="293.25" width="7.85" height="7.87" fill="#ff8100"/><rect x="270.31" y="293.25" width="7.85" height="7.87" fill="#ff8100"/><rect x="277.16" y="293.25" width="7.85" height="7.87" fill="#ff7000"/><rect x="284.01" y="293.25" width="7.85" height="7.87" fill="#ff4f00"/><rect x="290.87" y="293.25" width="7.85" height="7.87" fill="#ff2c00"/><rect x="297.73" y="293.25" width="7.85" height="7.87" fill="#ff0000"/><rect x="304.58" y="293.25" width="7.85" height="7.87" fill="#ff0000"/><rect x="311.44" y="293.25" width="7.85" height="7.87" fill="#e00000"/><rect x="318.29" y="293.25" width="7.85" height="7.87" fill="#cd0000"/><rect x="325.14" y="293.25" width="6.85" height="7.87" fill="#bb0000"/><rect x="194.90" y="286.38" width="7.85" height="7.87" fill="#a90000"/><rect x="201.75" y="286.38" width="7.85" height="7.87" fill="#a90000"/><rect x="208.61" y="286.38" width="7.85" height="7.87" fill="#bb0000"/><rect x="215.47" y="286.38" width="7.85" height="7.87" fill="#e00000"/><rect x="222.32" y="286.38" width="7.85" height="7.87" fill="#ff0000"/><rect x="229.18" y="286.38" width="7.85" height="7.87" fill="#ff0700"/><rect x="236.03" y="286.38" width="7.85" height="7.87" fill="#ff3e00"/><rect x="242.88" y="286.38" width="7.85" height="7.87" fill="#ff8100"/><rect x="249.74" y="286.38" width="7.85" height="7.87" fill="#ffb100"/><rect x="256.60" y="286.38" width="7.85" height="7.87" fill="#ffe000"/><rect x="263.45" y="286.38" width="7.85" height="7.87" fill="#ffff00"/><rect x="270.31" y="286.38" width="7.85" height="7.87" fill="#ffff00"/><rect x="277.16" y="286.38" width="7.85" height="7.87" fill="#ffe000"/><rect x="284.01" y="286.38" width="7.85" height="7.87" fill="#ffb100"/><rect x="290.87" y="286.38" width="7.85" height="7.87" fill="#ff8100"/><rect x="297.73" y="286.38" width="7.85" height="7.87" fill="#ff3e00"/><rect x="304.58" y="286.38" width="7.85" height="7.87" fill="#ff0700"/><rect x="311.44" y="286.38" width="7.85" height="7.87" fill="#ff0000"/><rect x="318.29" y="286.38" width="7.85" height="7.87" fill="#e00000"/><rect x="325.14" y="286.38" width="6.85" height="7.87" fill="#bb0000"/><rect x="194.90" y="279.51" width="7.85" height="7.87" fill="#a90000"/><rect x="201.75" y="279.51" width="7.85" height="7.87" fill="#bb0000"/><rect x="208.61" y="279.51" width="7.85" height="7.87" fill="#cd0000"/><rect x="215.47" y="279.51" width="7.85" height="7.87" fill="#f20000"/><rect x="222.32" y="279.51" width="7.85" height="7.87" fill="#ff0000"/><rect x="229.18" y="279.51" width="7.85" height="7.87" fill="#ff3e00"/><rect x="236.03" y="279.51" width="7.85" height="7.87" fill="#ff8100"/><rect x="242.88" y="279.51" width="7.85" height="7.87" fill="#ffd000"/><rect x="249.74" y="279.51" width="7.85" height="7.87" fill="#d2ff00"/><rect x="256.60" y="279.51" width="7.85" height="7.87" fill="#00ff64"/><rect x="263.45" y="279.51" width="7.85" height="7.87" fill="#00ff89"/><rect x="270.31" y="279.51" width="7.85" height="7.87" fill="#00ff89"/><rect x="277.16" y="279.51" width="7.85" height="7.87" fill="#00ff64"/><rect x="284.01" y="279.51" width="7.85" height="7.87" fill="#d2ff00"/><rect x="290.87" y="279.51" width="7.85" height="7.87" fill="#ffd000"/><rect x="297.73" y="279.51" width="7.85" height="7.87" fill="#ff8100"/><rect x="304.58" y="279.51" width="7.85" height="7.87" fill="#ff3e00"/><rect x="311.44" y="279.51" width="7.85" height="7.87" fill="#ff0000"/><rect x="318.29" y="279.51" width="7.85" height="7.87" fill="#f20000"/><rect x="325.14" y="279.51" width="6.85" height="7.87" fill="#cd0000"/><rect x="194.90" y="272.64" width="7.85" height="7.87" fill="#a90000"/><rect x="201.75" y="272.64" width="7.85" height="7.87" fill="#bb0000"/><rect x="208.61" y="272.64" width="7.85" height="7.87" fill="#e00000"/><rect x="215.47" y="272.64" width="7.85" height="7.87" fill="#ff0000"/><rect x="222.32" y="272.64" width="7.85" height="7.87" fill="#ff1a00"/><rect x="229.18" y="272.64" width="7.85" height="7.87" fill="#ff7000"/><rect x="236.03" y="272.64" width="7.85" height="7.87" fill="#ffd000"/><rect x="242.88" y="272.64" width="7.85" height="7.87" fill="#b9ff00"/><rect x="249.74" y="272.64" width="7.85" height="7.87" fill="#00ff9b"/><rect x="256.60" y="272.64" width="7.85" height="7.87" fill="#00ffff"/><rect x="263.45" y="272.64" width="7.85" height="7.87" fill="#00d0ff"/><rect x="270.31" y="272.64" width="7.85" height="7.87" fill="#00d0ff"/><rect x="277.16" y="272.64" width="7.85" height="7.87" fill="#00ffff"/><rect x="284.01" y="272.64" width="7.85" height="7.87" fill="#00ff9b"/><rect x="290.87" y="272.64" width="7.85" height="7.87" fill="#b9ff00"/><rect x="297.73" y="272.64" width="7.85" height="7.87" fill="#ffd000"/><rect x="304.58" y="272.64" width="7.85" height="7.87" fill="#ff7000"/><rect x="311.44" y="272.64" width="7.85" height="7.87" fill="#ff1a00"/><rect x="318.29" y="272.64" width="7.85" height="7.87" fill="#ff0000"/><rect x="325.14" y="272.64" width="6.85" height="7.87" fill="#e00000"/><rect x="194.90" y="265.77" width="7.85" height="7.87" fill="#a90000"/><rect x="201.75" y="265.77" width="7.85" height="7.87" fill="#bb0000"/><rect x="208.61" y="265.77" width="7.85" height="7.87" fill="#e00000"/><rect x="215.47" y="265.77" width="7.85" height="7.87" fill="#ff0000"/><rect x="222.32" y="265.77" width="7.85" height="7.87" fill="#ff3e00"/><rect x="229.18" y="265.77" width="7.85" height="7.87" fill="#ff9100"/><rect x="236.03" y="265.77" width="7.85" height="7.87" fill="#e9ff00"/><rect x="242.88" y="265.77" width="7.85" height="7.87" fill="#00ff89"/><rect x="249.74" y="265.77" width="7.85" height="7.87" fill="#00f0ff"/><rect x="256.60" y="265.77" width="7.85" height="7.87" fill="#0081ff"/><rect x="263.45" y="265.77" width="7.85" height="7.87" fill="#003eff"/><rect x="270.31" y="265.77" width="7.85" height="7.87" fill="#003eff"/><rect x="277.16" y="265.77" width="7.85" height="7.87" fill="#0081ff"/><rect x="284.01" y="265.77" width="7.85" height="7.87" fill="#00f0ff"/><rect x="290.87" y="265.77" width="7.85" height="7.87" fill="#00ff89"/><rect x="297.73" y="265.77" width="7.85" height="7.87" fill="#e9ff00"/><rect x="304.58" y="265.77" width="7.85" height="7.87" fill="#ff9100"/><rect x="311.44" y="265.77" width="7.85" height="7.87" fill="#ff3e00"/><rect x="318.29" y="265.77" width="7.85" height="7.87" fill="#ff0000"/><rect x="325.14" y="265.77" width="6.85" height="7.87" fill="#e00000"/><rect x="194.90" y="258.90" width="7.85" height="7.87" fill="#a90000"/><rect x="201.75" y="258.90" width="7.85" height="7.87" fill="#cd0000"/><rect x="208.61" y="258.90" width="7.85" height="7.87" fill="#f20000"/><rect x="215.47" y="258.90" width="7.85" height="7.87" fill="#ff0000"/><rect x="222.32" y="258.90" width="7.85" height="7.87" fill="#ff4f00"/><rect x="229.18" y="258.90" width="7.85" height="7.87" fill="#ffb100"/><rect x="236.03" y="258.90" width="7.85" height="7.87" fill="#b9ff00"/><rect x="242.88" y="258.90" width="7.85" height="7.87" fill="#00ffce"/><rect x="249.74" y="258.90" width="7.85" height="7.87" fill="#00a1ff"/><rect x="256.60" y="258.90" width="7.85" height="7.87" fill="#001aff"/><rect x="263.45" y="258.90" width="7.85" height="7.87" fill="#0000d4"/><rect x="270.31" y="258.90" width="7.85" height="7.87" fill="#0000d4"/><rect x="277.16" y="258.90" width="7.85" height="7.87" fill="#001aff"/><rect x="284.01" y="258.90" width="7.85" height="7.87" fill="#00a1ff"/><rect x="290.87" y="258.90" width="7.85" height="7.87" fill="#00ffce"/><rect x="297.73" y="258.90" width="7.85" height="7.87" fill="#b9ff00"/><rect x="304.58" y="258.90" width="7.85" height="7.87" fill="#ffb100"/><rect x="311.44" y="258.90" width="7.85" height="7.87" fill="#ff4f00"/><rect x="318.29" y="258.90" width="7.85" height="7.87" fill="#ff0000"/><rect x="325.14" y="258.90" width="6.85" height="7.87" fill="#f20000"/><rect x="194.90" y="252.03" width="7.85" height="7.87" fill="#a90000"/><rect x="201.75" y="252.03" width="7.85" height="7.87" fill="#cd0000"/><rect x="208.61" y="252.03" width="7.85" height="7.87" fill="#f20000"/><rect x="215.47" y="252.03" width="7.85" height="7.87" fill="#ff0000"/><rect x="222.32" y="252.03" width="7.85" height="7.87" fill="#ff4f00"/><rect x="229.18" y="252.03" width="7.85" height="7.87" fill="#ffc100"/><rect x="236.03" y="252.03" width="7.85" height="7.87" fill="#9fff13"/><rect x="242.88" y="252.03" width="7.85" height="7.87" fill="#00ffdf"/><rect x="249.74" y="252.03" width="7.85" height="7.87" fill="#0081ff"/><rect x="256.60" y="252.03" width="7.85" height="7.87" fill="#0000ff"/><rect x="263.45" y="252.03" width="7.85" height="7.87" fill="#0000b4"/><rect x="270.31" y="252.03" width="7.85" height="7.87" fill="#0000b4"/><rect x="277.16" y="252.03" width="7.85" height="7.87" fill="#0000ff"/><rect x="284.01" y="252.03" width="7.85" height="7.87" fill="#0081ff"/><rect x="290.87" y="252.03" width="7.85" height="7.87" fill="#00ffdf"/><rect x="297.73" y="252.03" width="7.85" height="7.87" fill="#9fff13"/><rect x="304.58" y="252.03" width="7.85" height="7.87" fill="#ffc100"/><rect x="311.44" y="252.03" width="7.85" height="7.87" fill="#ff4f00"/><rect x="318.29" y="252.03" width="7.85" height="7.87" fill="#ff0000"/><rect x="325.14" y="252.03" width="6.85" height="7.87" fill="#f20000"/><rect x="194.90" y="245.16" width="7.85" height="7.87" fill="#a90000"/><rect x="201.75" y="245.16" width="7.85" height="7.87" fill="#cd0000"/><rect x="208.61" y="245.16" width="7.85" height="7.87" fill="#f20000"/><rect x="215.47" y="245.16" width="7.85" height="7.87" fill="#ff0000"/><rect x="222.32" y="245.16" width="7.85" height="7.87" fill="#ff4f00"/><rect x="229.18" y="245.16" width="7.85" height="7.87" fill="#ffb100"/><rect x="236.03" y="245.16" width="7.85" height="7.87" fill="#b9ff00"/><rect x="242.88" y="245.16" width="7.85" height="7.87" fill="#00ffce"/><rect x="249.74" y="245.16" width="7.85" height="7.87" fill="#00a1ff"/><rect x="256.60" y="245.16" width="7.85" height="7.87" fill="#001aff"/><rect x="263.45" y="245.16" width="7.85" height="7.87" fill="#0000d4"/><rect x="270.31" y="245.16" width="7.85" height="7.87" fill="#0000d4"/><rect x="277.16" y="245.16" width="7.85" height="7.87" fill="#001aff"/><rect x="284.01" y="245.16" width="7.85" height="7.87" fill="#00a1ff"/><rect x="290.87" y="245.16" width="7.85" height="7.87" fill="#00ffce"/><rect x="297.73" y="245.16" width="7.85" height="7.87" fill="#b9ff00"/><rect x="304.58" y="245.16" width="7.85" height="7.87" fill="#ffb100"/><rect x="311.44" y="245.16" width="7.85" height="7.87" fill="#ff4f00"/><rect x="318.29" y="245.16" width="7.85" height="7.87" fill="#ff0000"/><rect x="325.14" y="245.16" width="6.85" height="7.87" fill="#f20000"/><rect x="194.90" y="238.29" width="7.85" height="7.87" fill="#a90000"/><rect x="201.75" y="238.29" width="7.85" height="7.87" fill="#bb0000"/><rect x="208.61" y="238.29" width="7.85" height="7.87" fill="#e00000"/><rect x="215.47" y="238.29" width="7.85" height="7.87" fill="#ff0000"/><rect x="222.32" y="238.29" width="7.85" height="7.87" fill="#ff3e00"/><rect x="229.18" y="238.29" width="7.85" height="7.87" fill="#ff9100"/><rect x="236.03" y="238.29" width="7.85" height="7.87" fill="#e9ff00"/><rect x="242.88" y="238.29" width="7.85" height="7.87" fill="#00ff89"/><rect x="249.74" y="238.29" width="7.85" height="7.87" fill="#00f0ff"/><rect x="256.60" y="238.29" width="7.85" height="7.87" fill="#0081ff"/><rect x="263.45" y="238.29" width="7.85" height="7.87" fill="#003eff"/><rect x="270.31" y="238.29" width="7.85" height="7.87" fill="#003eff"/><rect x="277.16" y="238.29" width="7.85" height="7.87" fill="#0081ff"/><rect x="284.01" y="238.29" width="7.85" height="7.87" fill="#00f0ff"/><rect x="290.87" y="238.29" width="7.85" height="7.87" fill="#00ff89"/><rect x="297.73" y="238.29" width="7.85" height="7.87" fill="#e9ff00"/><rect x="304.58" y="238.29" width="7.85" height="7.87" fill="#ff9100"/><rect x="311.44" y="238.29" width="7.85" height="7.87" fill="#ff3e00"/><rect x="318.29" y="238.29" width="7.85" height="7.87" fill="#ff0000"/><rect x="325.14" y="238.29" width="6.85" height="7.87" fill="#e00000"/><rect x="194.90" y="231.42" width="7.85" height="7.87" fill="#a90000"/><rect x="201.75" y="231.42" width="7.85" height="7.87" fill="#bb0000"/><rect x="208.61" y="231.42" width="7.85" height="7.87" fill="#e00000"/><rect x="215.47" y="231.42" width="7.85" height="7.87" fill="#ff0000"/><rect x="222.32" y="231.42" width="7.85" height="7.87" fill="#ff1a00"/><rect x="229.18" y="231.42" width="7.85" height="7.87" fill="#ff7000"/><rect x="236.03" y="231.42" width="7.85" height="7.87" fill="#ffd000"/><rect x="242.88" y="231.42" width="7.85" height="7.87" fill="#b9ff00"/><rect x="249.74" y="231.42" width="7.85" height="7.87" fill="#00ff9b"/><rect x="256.60" y="231.42" width="7.85" height="7.87" fill="#00ffff"/><rect x="263.45" y="231.42" width="7.85" height="7.87" fill="#00d0ff"/><rect x="270.31" y="231.42" width="7.85" height="7.87" fill="#00d0ff"/><rect x="277.16" y="231.42" width="7.85" height="7.87" fill="#00ffff"/><rect x="284.01" y="231.42" width="7.85" height="7.87" fill="#00ff9b"/><rect x="290.87" y="231.42" width="7.85" height="7.87" fill="#b9ff00"/><rect x="297.73" y="231.42" width="7.85" height="7.87" fill="#ffd000"/><rect x="304.58" y="231.42" width="7.85" height="7.87" fill="#ff7000"/><rect x="311.44" y="231.42" width="7.85" height="7.87" fill="#ff1a00"/><rect x="318.29" y="231.42" width="7.85" height="7.87" fill="#ff0000"/><rect x="325.14" y="231.42" width="6.85" height="7.87" fill="#e00000"/><rect x="194.90" y="224.55" width="7.85" height="7.87" fill="#a90000"/><rect x="201.75" y="224.55" width="7.85" height="7.87" fill="#bb0000"/><rect x="208.61" y="224.55" width="7.85" height="7.87" fill="#cd0000"/><rect x="215.47" y="224.55" width="7.85" height="7.87" fill="#f20000"/><rect x="222.32" y="224.55" width="7.85" height="7.87" fill="#ff0000"/><rect x="229.18" y="224.55" width="7.85" height="7.87" fill="#ff3e00"/><rect x="236.03" y="224.55" width="7.85" height="7.87" fill="#ff8100"/><rect x="242.88" y="224.55" width="7.85" height="7.87" fill="#ffd000"/><rect x="249.74" y="224.55" width="7.85" height="7.87" fill="#d2ff00"/><rect x="256.60" y="224.55" width="7.85" height="7.87" fill="#00ff64"/><rect x="263.45" y="224.55" width="7.85" height="7.87" fill="#00ff89"/><rect x="270.31" y="224.55" width="7.85" height="7.87" fill="#00ff89"/><rect x="277.16" y="224.55" width="7.85" height="7.87" fill="#00ff64"/><rect x="284.01" y="224.55" width="7.85" height="7.87" fill="#d2ff00"/><rect x="290.87" y="224.55" width="7.85" height="7.87" fill="#ffd000"/><rect x="297.73" y="224.55" width="7.85" height="7.87" fill="#ff8100"/><rect x="304.58" y="224.55" width="7.85" height="7.87" fill="#ff3e00"/><rect x="311.44" y="224.55" width="7.85" height="7.87" fill="#ff0000"/><rect x="318.29" y="224.55" width="7.85" height="7.87" fill="#f20000"/><rect x="325.14" y="224.55" width="6.85" height="7.87" fill="#cd0000"/><rect x="194.90" y="217.68" width="7.85" height="7.87" fill="#a90000"/><rect x="201.75" y="217.68" width="7.85" height="7.87" fill="#a90000"/><rect x="208.61" y="217.68" width="7.85" height="7.87" fill="#bb0000"/><rect x="215.47" y="217.68" width="7.85" height="7.87" fill="#e00000"/><rect x="222.32" y="217.68" width="7.85" height="7.87" fill="#ff0000"/><rect x="229.18" y="217.68" width="7.85" height="7.87" fill="#ff0700"/><rect x="236.03" y="217.68" width="7.85" height="7.87" fill="#ff3e00"/><rect x="242.88" y="217.68" width="7.85" height="7.87" fill="#ff8100"/><rect x="249.74" y="217.68" width="7.85" height="7.87" fill="#ffb100"/><rect x="256.60" y="217.68" width="7.85" height="7.87" fill="#ffe000"/><rect x="263.45" y="217.68" width="7.85" height="7.87" fill="#ffff00"/><rect x="270.31" y="217.68" width="7.85" height="7.87" fill="#ffff00"/><rect x="277.16" y="217.68" width="7.85" height="7.87" fill="#ffe000"/><rect x="284.01" y="217.68" width="7.85" height="7.87" fill="#ffb100"/><rect x="290.87" y="217.68" width="7.85" height="7.87" fill="#ff8100"/><rect x="297.73" y="217.68" width="7.85" height="7.87" fill="#ff3e00"/><rect x="304.58" y="217.68" width="7.85" height="7.87" fill="#ff0700"/><rect x="311.44" y="217.68" width="7.85" height="7.87" fill="#ff0000"/><rect x="318.29" y="217.68" width="7.85" height="7.87" fill="#e00000"/><rect x="325.14" y="217.68" width="6.85" height="7.87" fill="#bb0000"/><rect x="194.90" y="210.81" width="7.85" height="7.87" fill="#960000"/><rect x="201.75" y="210.81" width="7.85" height="7.87" fill="#a90000"/><rect x="208.61" y="210.81" width="7.85" height="7.87" fill="#bb0000"/><rect x="215.47" y="210.81" width="7.85" height="7.87" fill="#cd0000"/><rect x="222.32" y="210.81" width="7.85" height="7.87" fill="#e00000"/><rect x="229.18" y="210.81" width="7.85" height="7.87" fill="#ff0000"/><rect x="236.03" y="210.81" width="7.85" height="7.87" fill="#ff0000"/><rect x="242.88" y="210.81" width="7.85" height="7.87" fill="#ff2c00"/><rect x="249.74" y="210.81" width="7.85" height="7.87" fill="#ff4f00"/><rect x="256.60" y="210.81" width="7.85" height="7.87" fill="#ff7000"/><rect x="263.45" y="210.81" width="7.85" height="7.87" fill="#ff8100"/><rect x="270.31" y="210.81" width="7.85" height="7.87" fill="#ff8100"/><rect x="277.16" y="210.81" width="7.85" height="7.87" fill="#ff7000"/><rect x="284.01" y="210.81" width="7.85" height="7.87" fill="#ff4f00"/><rect x="290.87" y="210.81" width="7.85" height="7.87" fill="#ff2c00"/><rect x="297.73" y="210.81" width="7.85" height="7.87" fill="#ff0000"/><rect x="304.58" y="210.81" width="7.85" height="7.87" fill="#ff0000"/><rect x="311.44" y="210.81" width="7.85" height="7.87" fill="#e00000"/><rect x="318.29" y="210.81" width="7.85" height="7.87" fill="#cd0000"/><rect x="325.14" y="210.81" width="6.85" height="7.87" fill="#bb0000"/><rect x="194.90" y="203.94" width="7.85" height="7.87" fill="#960000"/><rect x="201.75" y="203.94" width="7.85" height="7.87" fill="#960000"/><rect x="208.61" y="203.94" width="7.85" height="7.87" fill="#a90000"/><rect x="215.47" y="203.94" width="7.85" height="7.87" fill="#bb0000"/><rect x="222.32" y="203.94" width="7.85" height="7.87" fill="#cd0000"/><rect x="229.18" y="203.94" width="7.85" height="7.87" fill="#e00000"/><rect x="236.03" y="203.94" width="7.85" height="7.87" fill="#f20000"/><rect x="242.88" y="203.94" width="7.85" height="7.87" fill="#ff0000"/><rect x="249.74" y="203.94" width="7.85" height="7.87" fill="#ff0700"/><rect x="256.60" y="203.94" width="7.85" height="7.87" fill="#ff1a00"/><rect x="263.45" y="203.94" width="7.85" height="7.87" fill="#ff1a00"/><rect x="270.31" y="203.94" width="7.85" height="7.87" fill="#ff1a00"/><rect x="277.16" y="203.94" width="7.85" height="7.87" fill="#ff1a00"/><rect x="284.01" y="203.94" width="7.85" height="7.87" fill="#ff0700"/><rect x="290.87" y="203.94" width="7.85" height="7.87" fill="#ff0000"/><rect x="297.73" y="203.94" width="7.85" height="7.87" fill="#f20000"/><rect x="304.58" y="203.94" width="7.85" height="7.87" fill="#e00000"/><rect x="311.44" y="203.94" width="7.85" height="7.87" fill="#cd0000"/><rect x="318.29" y="203.94" width="7.85" height="7.87" fill="#bb0000"/><rect x="325.14" y="203.94" width="6.85" height="7.87" fill="#a90000"/><rect x="194.90" y="197.07" width="7.85" height="7.87" fill="#960000"/><rect x="201.75" y="197.07" width="7.85" height="7.87" fill="#960000"/><rect x="208.61" y="197.07" width="7.85" height="7.87" fill="#a90000"/><rect x="215.47" y="197.07" width="7.85" height="7.87" fill="#a90000"/><rect x="222.32" y="197.07" width="7.85" height="7.87" fill="#bb0000"/><rect x="229.18" y="197.07" width="7.85" height="7.87" fill="#bb0000"/><rect x="236.03" y="197.07" width="7.85" height="7.87" fill="#cd0000"/><rect x="242.88" y="197.07" width="7.85" height="7.87" fill="#e00000"/><rect x="249.74" y="197.07" width="7.85" height="7.87" fill="#f20000"/><rect x="256.60" y="197.07" width="7.85" height="7.87" fill="#ff0000"/><rect x="263.45" y="197.07" width="7.85" height="7.87" fill="#ff0000"/><rect x="270.31" y="197.07" width="7.85" height="7.87" fill="#ff0000"/><rect x="277.16" y="197.07" width="7.85" height="7.87" fill="#ff0000"/><rect x="284.01" y="197.07" width="7.85" height="7.87" fill="#f20000"/><rect x="290.87" y="197.07" width="7.85" height="7.87" fill="#e00000"/><rect x="297.73" y="197.07" width="7.85" height="7.87" fill="#cd0000"/><rect x="304.58" y="197.07" width="7.85" height="7.87" fill="#bb0000"/><rect x="311.44" y="197.07" width="7.85" height="7.87" fill="#bb0000"/><rect x="318.29" y="197.07" width="7.85" height="7.87" fill="#a90000"/><rect x="325.14" y="197.07" width="6.85" height="7.87" fill="#a90000"/><rect x="194.90" y="190.20" width="7.85" height="7.87" fill="#960000"/><rect x="201.75" y="190.20" width="7.85" height="7.87" fill="#960000"/><rect x="208.61" y="190.20" width="7.85" height="7.87" fill="#960000"/><rect x="215.47" y="190.20" width="7.85" height="7.87" fill="#a90000"/><rect x="222.32" y="190.20" width="7.85" height="7.87" fill="#a90000"/><rect x="229.18" y="190.20" width="7.85" height="7.87" fill="#a90000"/><rect x="236.03" y="190.20" width="7.85" height="7.87" fill="#bb0000"/><rect x="242.88" y="190.20" width="7.85" height="7.87" fill="#cd0000"/><rect x="249.74" y="190.20" width="7.85" height="7.87" fill="#cd0000"/><rect x="256.60" y="190.20" width="7.85" height="7.87" fill="#e00000"/><rect x="263.45" y="190.20" width="7.85" height="7.87" fill="#e00000"/><rect x="270.31" y="190.20" width="7.85" height="7.87" fill="#e00000"/><rect x="277.16" y="190.20" width="7.85" height="7.87" fill="#e00000"/><rect x="284.01" y="190.20" width="7.85" height="7.87" fill="#cd0000"/><rect x="290.87" y="190.20" width="7.85" height="7.87" fill="#cd0000"/><rect x="297.73" y="190.20" width="7.85" height="7.87" fill="#bb0000"/><rect x="304.58" y="190.20" width="7.85" height="7.87" fill="#a90000"/><rect x="311.44" y="190.20" width="7.85" height="7.87" fill="#a90000"/><rect x="318.29" y="190.20" width="7.85" height="7.87" fill="#a90000"/><rect x="325.14" y="190.20" width="6.85" height="7.87" fill="#960000"/>
<path d="M201.75 190.20V327.60M194.90 197.07H332.00M208.61 190.20V327.60M194.90 203.94H332.00M215.47 190.20V327.60M194.90 210.81H332.00M222.32 190.20V327.60M194.90 217.68H332.00M229.18 190.20V327.60M194.90 224.55H332.00M236.03 190.20V327.60M194.90 231.42H332.00M242.88 190.20V327.60M194.90 238.29H332.00M249.74 190.20V327.60M194.90 245.16H332.00M256.60 190.20V327.60M194.90 252.03H332.00M263.45 190.20V327.60M194.90 258.90H332.00M270.31 190.20V327.60M194.90 265.77H332.00M277.16 190.20V327.60M194.90 272.64H332.00M284.01 190.20V327.60M194.90 279.51H332.00M290.87 190.20V327.60M194.90 286.38H332.00M297.73 190.20V327.60M194.90 293.25H332.00M304.58 190.20V327.60M194.90 300.12H332.00M311.44 190.20V327.60M194.90 306.99H332.00M318.29 190.20V327.60M194.90 313.86H332.00M325.14 190.20V327.60M194.90 320.73H332.00" stroke="#000" stroke-opacity="0.42" stroke-width="0.7" fill="none"/>
<text x="201.75" y="335.10" font-size="7.1" fill="#000" text-anchor="middle" textLength="3.55" lengthAdjust="spacingAndGlyphs">2</text>
<text x="192.90" y="323.03" font-size="7.1" fill="#000" text-anchor="end" textLength="3.55" lengthAdjust="spacingAndGlyphs">2</text>
<text x="215.47" y="335.10" font-size="7.1" fill="#000" text-anchor="middle" textLength="3.55" lengthAdjust="spacingAndGlyphs">4</text>
<text x="192.90" y="309.29" font-size="7.1" fill="#000" text-anchor="end" textLength="3.55" lengthAdjust="spacingAndGlyphs">4</text>
<text x="229.18" y="335.10" font-size="7.1" fill="#000" text-anchor="middle" textLength="3.55" lengthAdjust="spacingAndGlyphs">6</text>
<text x="192.90" y="295.55" font-size="7.1" fill="#000" text-anchor="end" textLength="3.55" lengthAdjust="spacingAndGlyphs">6</text>
<text x="242.88" y="335.10" font-size="7.1" fill="#000" text-anchor="middle" textLength="3.55" lengthAdjust="spacingAndGlyphs">8</text>
<text x="192.90" y="281.81" font-size="7.1" fill="#000" text-anchor="end" textLength="3.55" lengthAdjust="spacingAndGlyphs">8</text>
<text x="256.60" y="335.10" font-size="7.1" fill="#000" text-anchor="middle" textLength="7.11" lengthAdjust="spacingAndGlyphs">10</text>
<text x="192.90" y="268.07" font-size="7.1" fill="#000" text-anchor="end" textLength="7.11" lengthAdjust="spacingAndGlyphs">10</text>
<text x="270.31" y="335.10" font-size="7.1" fill="#000" text-anchor="middle" textLength="7.11" lengthAdjust="spacingAndGlyphs">12</text>
<text x="192.90" y="254.33" font-size="7.1" fill="#000" text-anchor="end" textLength="7.11" lengthAdjust="spacingAndGlyphs">12</text>
<text x="284.01" y="335.10" font-size="7.1" fill="#000" text-anchor="middle" textLength="7.11" lengthAdjust="spacingAndGlyphs">14</text>
<text x="192.90" y="240.59" font-size="7.1" fill="#000" text-anchor="end" textLength="7.11" lengthAdjust="spacingAndGlyphs">14</text>
<text x="297.73" y="335.10" font-size="7.1" fill="#000" text-anchor="middle" textLength="7.11" lengthAdjust="spacingAndGlyphs">16</text>
<text x="192.90" y="226.85" font-size="7.1" fill="#000" text-anchor="end" textLength="7.11" lengthAdjust="spacingAndGlyphs">16</text>
<text x="311.44" y="335.10" font-size="7.1" fill="#000" text-anchor="middle" textLength="7.11" lengthAdjust="spacingAndGlyphs">18</text>
<text x="192.90" y="213.11" font-size="7.1" fill="#000" text-anchor="end" textLength="7.11" lengthAdjust="spacingAndGlyphs">18</text>
<text x="325.14" y="335.10" font-size="7.1" fill="#000" text-anchor="middle" textLength="7.11" lengthAdjust="spacingAndGlyphs">20</text>
<text x="192.90" y="199.37" font-size="7.1" fill="#000" text-anchor="end" textLength="7.11" lengthAdjust="spacingAndGlyphs">20</text>
<defs><linearGradient id="g4" x1="0" y1="0" x2="0" y2="1"><stop offset="0.0078" stop-color="#960000"/><stop offset="0.0234" stop-color="#a90000"/><stop offset="0.0391" stop-color="#bb0000"/><stop offset="0.0547" stop-color="#cd0000"/><stop offset="0.0703" stop-color="#e00000"/><stop offset="0.0859" stop-color="#f20000"/><stop offset="0.1016" stop-color="#ff0000"/><stop offset="0.1172" stop-color="#ff0000"/><stop offset="0.1328" stop-color="#ff0000"/><stop offset="0.1484" stop-color="#ff0700"/><stop offset="0.1641" stop-color="#ff1a00"/><stop offset="0.1797" stop-color="#ff2c00"/><stop offset="0.1953" stop-color="#ff3e00"/><stop offset="0.2109" stop-color="#ff4f00"/><stop offset="0.2266" stop-color="#ff5f00"/><stop offset="0.2422" stop-color="#ff7000"/><stop offset="0.2578" stop-color="#ff8100"/><stop offset="0.2734" stop-color="#ff9100"/><stop offset="0.2891" stop-color="#ffa100"/><stop offset="0.3047" stop-color="#ffb100"/><stop offset="0.3203" stop-color="#ffc100"/><stop offset="0.3359" stop-color="#ffd000"/><stop offset="0.3516" stop-color="#ffe000"/><stop offset="0.3672" stop-color="#fff000"/><stop offset="0.3828" stop-color="#ffff00"/><stop offset="0.3984" stop-color="#e9ff00"/><stop offset="0.4141" stop-color="#d2ff00"/><stop offset="0.4297" stop-color="#b9ff00"/><stop offset="0.4453" stop-color="#9fff13"/><stop offset="0.4609" stop-color="#80ff37"/><stop offset="0.4766" stop-color="#59ff4f"/><stop offset="0.4922" stop-color="#00ff64"/><stop offset="0.5078" stop-color="#00ff77"/><stop offset="0.5234" stop-color="#00ff89"/><stop offset="0.5391" stop-color="#00ff9b"/><stop offset="0.5547" stop-color="#00ffac"/><stop offset="0.5703" stop-color="#00ffbd"/><stop offset="0.5859" stop-color="#00ffce"/><stop offset="0.6016" stop-color="#00ffdf"/><stop offset="0.6172" stop-color="#00ffef"/><stop offset="0.6328" stop-color="#00ffff"/><stop offset="0.6484" stop-color="#00f0ff"/><stop offset="0.6641" stop-color="#00e0ff"/><stop offset="0.6797" stop-color="#00d0ff"/><stop offset="0.6953" stop-color="#00c1ff"/><stop offset="0.7109" stop-color="#00b1ff"/><stop offset="0.7266" stop-color="#00a1ff"/><stop offset="0.7422" stop-color="#0091ff"/><stop offset="0.7578" stop-color="#0081ff"/><stop offset="0.7734" stop-color="#0070ff"/><stop offset="0.7891" stop-color="#005fff"/><stop offset="0.8047" stop-color="#004fff"/><stop offset="0.8203" stop-color="#003eff"/><stop offset="0.8359" stop-color="#002cff"/><stop offset="0.8516" stop-color="#001aff"/><stop offset="0.8672" stop-color="#0007ff"/><stop offset="0.8828" stop-color="#0000ff"/><stop offset="0.8984" stop-color="#0000f4"/><stop offset="0.9141" stop-color="#0000e4"/><stop offset="0.9297" stop-color="#0000d4"/><stop offset="0.9453" stop-color="#0000c4"/><stop offset="0.9609" stop-color="#0000b4"/><stop offset="0.9766" stop-color="#0000a4"/><stop offset="0.9922" stop-color="#000094"/></linearGradient></defs>
<rect x="339.10" y="190.20" width="10.30" height="137.40" fill="url(#g4)"/>
<rect x="339.10" y="190.20" width="10.30" height="137.40" fill="none" stroke="#000" stroke-opacity="0.25" stroke-width="0.5"/>
<path d="M339.10 190.20h1.5M349.40 190.20h-1.5" stroke="#000" stroke-opacity="0.5" stroke-width="0.6"/>
<text x="351.30" y="192.70" font-size="7.1" fill="#000" font-style="italic" textLength="3.55" lengthAdjust="spacingAndGlyphs">0</text>
<path d="M339.10 203.94h1.5M349.40 203.94h-1.5" stroke="#000" stroke-opacity="0.5" stroke-width="0.6"/>
<text x="351.30" y="206.44" font-size="7.1" fill="#000" font-style="italic" textLength="12.61" lengthAdjust="spacingAndGlyphs">−0.1</text>
<path d="M339.10 217.68h1.5M349.40 217.68h-1.5" stroke="#000" stroke-opacity="0.5" stroke-width="0.6"/>
<text x="351.30" y="220.18" font-size="7.1" fill="#000" font-style="italic" textLength="12.61" lengthAdjust="spacingAndGlyphs">−0.2</text>
<path d="M339.10 231.42h1.5M349.40 231.42h-1.5" stroke="#000" stroke-opacity="0.5" stroke-width="0.6"/>
<text x="351.30" y="233.92" font-size="7.1" fill="#000" font-style="italic" textLength="12.61" lengthAdjust="spacingAndGlyphs">−0.3</text>
<path d="M339.10 245.16h1.5M349.40 245.16h-1.5" stroke="#000" stroke-opacity="0.5" stroke-width="0.6"/>
<text x="351.30" y="247.66" font-size="7.1" fill="#000" font-style="italic" textLength="12.61" lengthAdjust="spacingAndGlyphs">−0.4</text>
<path d="M339.10 258.90h1.5M349.40 258.90h-1.5" stroke="#000" stroke-opacity="0.5" stroke-width="0.6"/>
<text x="351.30" y="261.40" font-size="7.1" fill="#000" font-style="italic" textLength="12.61" lengthAdjust="spacingAndGlyphs">−0.5</text>
<path d="M339.10 272.64h1.5M349.40 272.64h-1.5" stroke="#000" stroke-opacity="0.5" stroke-width="0.6"/>
<text x="351.30" y="275.14" font-size="7.1" fill="#000" font-style="italic" textLength="12.61" lengthAdjust="spacingAndGlyphs">−0.6</text>
<path d="M339.10 286.38h1.5M349.40 286.38h-1.5" stroke="#000" stroke-opacity="0.5" stroke-width="0.6"/>
<text x="351.30" y="288.88" font-size="7.1" fill="#000" font-style="italic" textLength="12.61" lengthAdjust="spacingAndGlyphs">−0.7</text>
<path d="M339.10 300.12h1.5M349.40 300.12h-1.5" stroke="#000" stroke-opacity="0.5" stroke-width="0.6"/>
<text x="351.30" y="302.62" font-size="7.1" fill="#000" font-style="italic" textLength="12.61" lengthAdjust="spacingAndGlyphs">−0.8</text>
<path d="M339.10 313.86h1.5M349.40 313.86h-1.5" stroke="#000" stroke-opacity="0.5" stroke-width="0.6"/>
<text x="351.30" y="316.36" font-size="7.1" fill="#000" font-style="italic" textLength="12.61" lengthAdjust="spacingAndGlyphs">−0.9</text>
<path d="M339.10 327.60h1.5M349.40 327.60h-1.5" stroke="#000" stroke-opacity="0.5" stroke-width="0.6"/>
<text x="351.30" y="330.10" font-size="7.1" fill="#000" font-style="italic" textLength="7.28" lengthAdjust="spacingAndGlyphs">−1</text>
<text x="193.00" y="174.80" font-size="10.35" fill="#111" stroke="#111" stroke-width="0.25">(e) Estimated vertical displacement</text>
<text x="193.00" y="187.00" font-size="10.35" fill="#111" stroke="#111" stroke-width="0.25">with non-horizontal assumption</text>
<rect x="376.90" y="320.52" width="7.88" height="6.87" fill="#00ff64"/><rect x="383.77" y="320.52" width="7.88" height="6.87" fill="#00ff64"/><rect x="390.65" y="320.52" width="7.88" height="6.87" fill="#00ff64"/><rect x="397.52" y="320.52" width="7.88" height="6.87" fill="#00ff64"/><rect x="404.40" y="320.52" width="7.88" height="6.87" fill="#00ff64"/><rect x="411.27" y="320.52" width="7.88" height="6.87" fill="#00ff64"/><rect x="418.15" y="320.52" width="7.88" height="6.87" fill="#00ff64"/><rect x="425.02" y="320.52" width="7.88" height="6.87" fill="#00ff64"/><rect x="431.90" y="320.52" width="7.88" height="6.87" fill="#00ff64"/><rect x="438.77" y="320.52" width="7.88" height="6.87" fill="#00ff64"/><rect x="445.65" y="320.52" width="7.88" height="6.87" fill="#00ff64"/><rect x="452.52" y="320.52" width="7.88" height="6.87" fill="#00ff64"/><rect x="459.40" y="320.52" width="7.88" height="6.87" fill="#00ff64"/><rect x="466.27" y="320.52" width="7.88" height="6.87" fill="#00ff64"/><rect x="473.15" y="320.52" width="7.88" height="6.87" fill="#00ff64"/><rect x="480.02" y="320.52" width="7.88" height="6.87" fill="#00ff64"/><rect x="486.90" y="320.52" width="7.88" height="6.87" fill="#00ff64"/><rect x="493.77" y="320.52" width="7.88" height="6.87" fill="#00ff64"/><rect x="500.65" y="320.52" width="7.88" height="6.87" fill="#00ff64"/><rect x="507.52" y="320.52" width="6.88" height="6.87" fill="#00ff64"/><rect x="376.90" y="313.65" width="7.88" height="7.87" fill="#00ff64"/><rect x="383.77" y="313.65" width="7.88" height="7.87" fill="#00ff64"/><rect x="390.65" y="313.65" width="7.88" height="7.87" fill="#00ff64"/><rect x="397.52" y="313.65" width="7.88" height="7.87" fill="#00ff64"/><rect x="404.40" y="313.65" width="7.88" height="7.87" fill="#00ff64"/><rect x="411.27" y="313.65" width="7.88" height="7.87" fill="#00ff64"/><rect x="418.15" y="313.65" width="7.88" height="7.87" fill="#00ff64"/><rect x="425.02" y="313.65" width="7.88" height="7.87" fill="#00ff64"/><rect x="431.90" y="313.65" width="7.88" height="7.87" fill="#00ff64"/><rect x="438.77" y="313.65" width="7.88" height="7.87" fill="#00ff64"/><rect x="445.65" y="313.65" width="7.88" height="7.87" fill="#00ff64"/><rect x="452.52" y="313.65" width="7.88" height="7.87" fill="#00ff64"/><rect x="459.40" y="313.65" width="7.88" height="7.87" fill="#00ff64"/><rect x="466.27" y="313.65" width="7.88" height="7.87" fill="#00ff64"/><rect x="473.15" y="313.65" width="7.88" height="7.87" fill="#00ff64"/><rect x="480.02" y="313.65" width="7.88" height="7.87" fill="#00ff64"/><rect x="486.90" y="313.65" width="7.88" height="7.87" fill="#00ff64"/><rect x="493.77" y="313.65" width="7.88" height="7.87" fill="#00ff64"/><rect x="500.65" y="313.65" width="7.88" height="7.87" fill="#00ff64"/><rect x="507.52" y="313.65" width="6.88" height="7.87" fill="#00ff64"/><rect x="376.90" y="306.77" width="7.88" height="7.87" fill="#00ff64"/><rect x="383.77" y="306.77" width="7.88" height="7.87" fill="#00ff64"/><rect x="390.65" y="306.77" width="7.88" height="7.87" fill="#00ff64"/><rect x="397.52" y="306.77" width="7.88" height="7.87" fill="#00ff64"/><rect x="404.40" y="306.77" width="7.88" height="7.87" fill="#00ff64"/><rect x="411.27" y="306.77" width="7.88" height="7.87" fill="#00ff64"/><rect x="418.15" y="306.77" width="7.88" height="7.87" fill="#00ff64"/><rect x="425.02" y="306.77" width="7.88" height="7.87" fill="#00ff64"/><rect x="431.90" y="306.77" width="7.88" height="7.87" fill="#00ff64"/><rect x="438.77" y="306.77" width="7.88" height="7.87" fill="#00ff64"/><rect x="445.65" y="306.77" width="7.88" height="7.87" fill="#00ff64"/><rect x="452.52" y="306.77" width="7.88" height="7.87" fill="#00ff64"/><rect x="459.40" y="306.77" width="7.88" height="7.87" fill="#00ff64"/><rect x="466.27" y="306.77" width="7.88" height="7.87" fill="#00ff64"/><rect x="473.15" y="306.77" width="7.88" height="7.87" fill="#00ff64"/><rect x="480.02" y="306.77" width="7.88" height="7.87" fill="#00ff64"/><rect x="486.90" y="306.77" width="7.88" height="7.87" fill="#00ff64"/><rect x="493.77" y="306.77" width="7.88" height="7.87" fill="#00ff64"/><rect x="500.65" y="306.77" width="7.88" height="7.87" fill="#00ff64"/><rect x="507.52" y="306.77" width="6.88" height="7.87" fill="#00ff64"/><rect x="376.90" y="299.90" width="7.88" height="7.87" fill="#00ff64"/><rect x="383.77" y="299.90" width="7.88" height="7.87" fill="#00ff64"/><rect x="390.65" y="299.90" width="7.88" height="7.87" fill="#00ff64"/><rect x="397.52" y="299.90" width="7.88" height="7.87" fill="#00ff64"/><rect x="404.40" y="299.90" width="7.88" height="7.87" fill="#00ff64"/><rect x="411.27" y="299.90" width="7.88" height="7.87" fill="#00ff64"/><rect x="418.15" y="299.90" width="7.88" height="7.87" fill="#00ff64"/><rect x="425.02" y="299.90" width="7.88" height="7.87" fill="#00ff64"/><rect x="431.90" y="299.90" width="7.88" height="7.87" fill="#00ff64"/><rect x="438.77" y="299.90" width="7.88" height="7.87" fill="#00ff64"/><rect x="445.65" y="299.90" width="7.88" height="7.87" fill="#00ff64"/><rect x="452.52" y="299.90" width="7.88" height="7.87" fill="#00ff64"/><rect x="459.40" y="299.90" width="7.88" height="7.87" fill="#00ff64"/><rect x="466.27" y="299.90" width="7.88" height="7.87" fill="#00ff64"/><rect x="473.15" y="299.90" width="7.88" height="7.87" fill="#00ff64"/><rect x="480.02" y="299.90" width="7.88" height="7.87" fill="#00ff64"/><rect x="486.90" y="299.90" width="7.88" height="7.87" fill="#00ff64"/><rect x="493.77" y="299.90" width="7.88" height="7.87" fill="#00ff64"/><rect x="500.65" y="299.90" width="7.88" height="7.87" fill="#00ff64"/><rect x="507.52" y="299.90" width="6.88" height="7.87" fill="#00ff64"/><rect x="376.90" y="293.02" width="7.88" height="7.87" fill="#00ff64"/><rect x="383.77" y="293.02" width="7.88" height="7.87" fill="#00ff64"/><rect x="390.65" y="293.02" width="7.88" height="7.87" fill="#00ff64"/><rect x="397.52" y="293.02" width="7.88" height="7.87" fill="#00ff64"/><rect x="404.40" y="293.02" width="7.88" height="7.87" fill="#00ff64"/><rect x="411.27" y="293.02" width="7.88" height="7.87" fill="#00ff64"/><rect x="418.15" y="293.02" width="7.88" height="7.87" fill="#00ff64"/><rect x="425.02" y="293.02" width="7.88" height="7.87" fill="#00ff64"/><rect x="431.90" y="293.02" width="7.88" height="7.87" fill="#00ff64"/><rect x="438.77" y="293.02" width="7.88" height="7.87" fill="#00ff64"/><rect x="445.65" y="293.02" width="7.88" height="7.87" fill="#00ff64"/><rect x="452.52" y="293.02" width="7.88" height="7.87" fill="#00ff64"/><rect x="459.40" y="293.02" width="7.88" height="7.87" fill="#00ff64"/><rect x="466.27" y="293.02" width="7.88" height="7.87" fill="#00ff64"/><rect x="473.15" y="293.02" width="7.88" height="7.87" fill="#00ff64"/><rect x="480.02" y="293.02" width="7.88" height="7.87" fill="#00ff64"/><rect x="486.90" y="293.02" width="7.88" height="7.87" fill="#00ff64"/><rect x="493.77" y="293.02" width="7.88" height="7.87" fill="#00ff64"/><rect x="500.65" y="293.02" width="7.88" height="7.87" fill="#00ff64"/><rect x="507.52" y="293.02" width="6.88" height="7.87" fill="#00ff64"/><rect x="376.90" y="286.15" width="7.88" height="7.87" fill="#00ff64"/><rect x="383.77" y="286.15" width="7.88" height="7.87" fill="#00ff64"/><rect x="390.65" y="286.15" width="7.88" height="7.87" fill="#00ff64"/><rect x="397.52" y="286.15" width="7.88" height="7.87" fill="#00ff64"/><rect x="404.40" y="286.15" width="7.88" height="7.87" fill="#00ff64"/><rect x="411.27" y="286.15" width="7.88" height="7.87" fill="#00ff64"/><rect x="418.15" y="286.15" width="7.88" height="7.87" fill="#00ff64"/><rect x="425.02" y="286.15" width="7.88" height="7.87" fill="#00ff64"/><rect x="431.90" y="286.15" width="7.88" height="7.87" fill="#00ff64"/><rect x="438.77" y="286.15" width="7.88" height="7.87" fill="#00ff64"/><rect x="445.65" y="286.15" width="7.88" height="7.87" fill="#00ff64"/><rect x="452.52" y="286.15" width="7.88" height="7.87" fill="#00ff64"/><rect x="459.40" y="286.15" width="7.88" height="7.87" fill="#00ff64"/><rect x="466.27" y="286.15" width="7.88" height="7.87" fill="#00ff64"/><rect x="473.15" y="286.15" width="7.88" height="7.87" fill="#00ff64"/><rect x="480.02" y="286.15" width="7.88" height="7.87" fill="#00ff64"/><rect x="486.90" y="286.15" width="7.88" height="7.87" fill="#00ff64"/><rect x="493.77" y="286.15" width="7.88" height="7.87" fill="#00ff64"/><rect x="500.65" y="286.15" width="7.88" height="7.87" fill="#00ff64"/><rect x="507.52" y="286.15" width="6.88" height="7.87" fill="#00ff64"/><rect x="376.90" y="279.27" width="7.88" height="7.87" fill="#00ff64"/><rect x="383.77" y="279.27" width="7.88" height="7.87" fill="#00ff64"/><rect x="390.65" y="279.27" width="7.88" height="7.87" fill="#00ff64"/><rect x="397.52" y="279.27" width="7.88" height="7.87" fill="#00ff64"/><rect x="404.40" y="279.27" width="7.88" height="7.87" fill="#00ff64"/><rect x="411.27" y="279.27" width="7.88" height="7.87" fill="#59ff4f"/><rect x="418.15" y="279.27" width="7.88" height="7.87" fill="#59ff4f"/><rect x="425.02" y="279.27" width="7.88" height="7.87" fill="#59ff4f"/><rect x="431.90" y="279.27" width="7.88" height="7.87" fill="#59ff4f"/><rect x="438.77" y="279.27" width="7.88" height="7.87" fill="#00ff64"/><rect x="445.65" y="279.27" width="7.88" height="7.87" fill="#00ff64"/><rect x="452.52" y="279.27" width="7.88" height="7.87" fill="#00ff64"/><rect x="459.40" y="279.27" width="7.88" height="7.87" fill="#00ff64"/><rect x="466.27" y="279.27" width="7.88" height="7.87" fill="#00ff64"/><rect x="473.15" y="279.27" width="7.88" height="7.87" fill="#00ff64"/><rect x="480.02" y="279.27" width="7.88" height="7.87" fill="#00ff77"/><rect x="486.90" y="279.27" width="7.88" height="7.87" fill="#00ff64"/><rect x="493.77" y="279.27" width="7.88" height="7.87" fill="#00ff64"/><rect x="500.65" y="279.27" width="7.88" height="7.87" fill="#00ff64"/><rect x="507.52" y="279.27" width="6.88" height="7.87" fill="#00ff64"/><rect x="376.90" y="272.40" width="7.88" height="7.87" fill="#00ff64"/><rect x="383.77" y="272.40" width="7.88" height="7.87" fill="#00ff64"/><rect x="390.65" y="272.40" width="7.88" height="7.87" fill="#00ff64"/><rect x="397.52" y="272.40" width="7.88" height="7.87" fill="#00ff64"/><rect x="404.40" y="272.40" width="7.88" height="7.87" fill="#59ff4f"/><rect x="411.27" y="272.40" width="7.88" height="7.87" fill="#59ff4f"/><rect x="418.15" y="272.40" width="7.88" height="7.87" fill="#59ff4f"/><rect x="425.02" y="272.40" width="7.88" height="7.87" fill="#59ff4f"/><rect x="431.90" y="272.40" width="7.88" height="7.87" fill="#59ff4f"/><rect x="438.77" y="272.40" width="7.88" height="7.87" fill="#00ff64"/><rect x="445.65" y="272.40" width="7.88" height="7.87" fill="#00ff64"/><rect x="452.52" y="272.40" width="7.88" height="7.87" fill="#00ff64"/><rect x="459.40" y="272.40" width="7.88" height="7.87" fill="#00ff64"/><rect x="466.27" y="272.40" width="7.88" height="7.87" fill="#00ff77"/><rect x="473.15" y="272.40" width="7.88" height="7.87" fill="#00ff77"/><rect x="480.02" y="272.40" width="7.88" height="7.87" fill="#00ff77"/><rect x="486.90" y="272.40" width="7.88" height="7.87" fill="#00ff77"/><rect x="493.77" y="272.40" width="7.88" height="7.87" fill="#00ff77"/><rect x="500.65" y="272.40" width="7.88" height="7.87" fill="#00ff64"/><rect x="507.52" y="272.40" width="6.88" height="7.87" fill="#00ff64"/><rect x="376.90" y="265.52" width="7.88" height="7.87" fill="#00ff64"/><rect x="383.77" y="265.52" width="7.88" height="7.87" fill="#00ff64"/><rect x="390.65" y="265.52" width="7.88" height="7.87" fill="#00ff64"/><rect x="397.52" y="265.52" width="7.88" height="7.87" fill="#00ff64"/><rect x="404.40" y="265.52" width="7.88" height="7.87" fill="#59ff4f"/><rect x="411.27" y="265.52" width="7.88" height="7.87" fill="#59ff4f"/><rect x="418.15" y="265.52" width="7.88" height="7.87" fill="#80ff37"/><rect x="425.02" y="265.52" width="7.88" height="7.87" fill="#80ff37"/><rect x="431.90" y="265.52" width="7.88" height="7.87" fill="#59ff4f"/><rect x="438.77" y="265.52" width="7.88" height="7.87" fill="#59ff4f"/><rect x="445.65" y="265.52" width="7.88" height="7.87" fill="#00ff64"/><rect x="452.52" y="265.52" width="7.88" height="7.87" fill="#00ff64"/><rect x="459.40" y="265.52" width="7.88" height="7.87" fill="#00ff77"/><rect x="466.27" y="265.52" width="7.88" height="7.87" fill="#00ff77"/><rect x="473.15" y="265.52" width="7.88" height="7.87" fill="#00ff77"/><rect x="480.02" y="265.52" width="7.88" height="7.87" fill="#00ff89"/><rect x="486.90" y="265.52" width="7.88" height="7.87" fill="#00ff77"/><rect x="493.77" y="265.52" width="7.88" height="7.87" fill="#00ff77"/><rect x="500.65" y="265.52" width="7.88" height="7.87" fill="#00ff64"/><rect x="507.52" y="265.52" width="6.88" height="7.87" fill="#00ff64"/><rect x="376.90" y="258.65" width="7.88" height="7.87" fill="#00ff64"/><rect x="383.77" y="258.65" width="7.88" height="7.87" fill="#00ff64"/><rect x="390.65" y="258.65" width="7.88" height="7.87" fill="#00ff64"/><rect x="397.52" y="258.65" width="7.88" height="7.87" fill="#59ff4f"/><rect x="404.40" y="258.65" width="7.88" height="7.87" fill="#59ff4f"/><rect x="411.27" y="258.65" width="7.88" height="7.87" fill="#80ff37"/><rect x="418.15" y="258.65" width="7.88" height="7.87" fill="#80ff37"/><rect x="425.02" y="258.65" width="7.88" height="7.87" fill="#80ff37"/><rect x="431.90" y="258.65" width="7.88" height="7.87" fill="#80ff37"/><rect x="438.77" y="258.65" width="7.88" height="7.87" fill="#59ff4f"/><rect x="445.65" y="258.65" width="7.88" height="7.87" fill="#00ff64"/><rect x="452.52" y="258.65" width="7.88" height="7.87" fill="#00ff64"/><rect x="459.40" y="258.65" width="7.88" height="7.87" fill="#00ff77"/><rect x="466.27" y="258.65" width="7.88" height="7.87" fill="#00ff77"/><rect x="473.15" y="258.65" width="7.88" height="7.87" fill="#00ff89"/><rect x="480.02" y="258.65" width="7.88" height="7.87" fill="#00ff89"/><rect x="486.90" y="258.65" width="7.88" height="7.87" fill="#00ff89"/><rect x="493.77" y="258.65" width="7.88" height="7.87" fill="#00ff77"/><rect x="500.65" y="258.65" width="7.88" height="7.87" fill="#00ff77"/><rect x="507.52" y="258.65" width="6.88" height="7.87" fill="#00ff64"/><rect x="376.90" y="251.77" width="7.88" height="7.87" fill="#00ff64"/><rect x="383.77" y="251.77" width="7.88" height="7.87" fill="#00ff64"/><rect x="390.65" y="251.77" width="7.88" height="7.87" fill="#00ff64"/><rect x="397.52" y="251.77" width="7.88" height="7.87" fill="#59ff4f"/><rect x="404.40" y="251.77" width="7.88" height="7.87" fill="#59ff4f"/><rect x="411.27" y="251.77" width="7.88" height="7.87" fill="#80ff37"/><rect x="418.15" y="251.77" width="7.88" height="7.87" fill="#80ff37"/><rect x="425.02" y="251.77" width="7.88" height="7.87" fill="#80ff37"/><rect x="431.90" y="251.77" width="7.88" height="7.87" fill="#80ff37"/><rect x="438.77" y="251.77" width="7.88" height="7.87" fill="#59ff4f"/><rect x="445.65" y="251.77" width="7.88" height="7.87" fill="#00ff64"/><rect x="452.52" y="251.77" width="7.88" height="7.87" fill="#00ff64"/><rect x="459.40" y="251.77" width="7.88" height="7.87" fill="#00ff77"/><rect x="466.27" y="251.77" width="7.88" height="7.87" fill="#00ff89"/><rect x="473.15" y="251.77" width="7.88" height="7.87" fill="#00ff89"/><rect x="480.02" y="251.77" width="7.88" height="7.87" fill="#00ff89"/><rect x="486.90" y="251.77" width="7.88" height="7.87" fill="#00ff89"/><rect x="493.77" y="251.77" width="7.88" height="7.87" fill="#00ff77"/><rect x="500.65" y="251.77" width="7.88" height="7.87" fill="#00ff77"/><rect x="507.52" y="251.77" width="6.88" height="7.87" fill="#00ff64"/><rect x="376.90" y="244.90" width="7.88" height="7.87" fill="#00ff64"/><rect x="383.77" y="244.90" width="7.88" height="7.87" fill="#00ff64"/><rect x="390.65" y="244.90" width="7.88" height="7.87" fill="#00ff64"/><rect x="397.52" y="244.90" width="7.88" height="7.87" fill="#59ff4f"/><rect x="404.40" y="244.90" width="7.88" height="7.87" fill="#59ff4f"/><rect x="411.27" y="244.90" width="7.88" height="7.87" fill="#80ff37"/><rect x="418.15" y="244.90" width="7.88" height="7.87" fill="#80ff37"/><rect x="425.02" y="244.90" width="7.88" height="7.87" fill="#80ff37"/><rect x="431.90" y="244.90" width="7.88" height="7.87" fill="#80ff37"/><rect x="438.77" y="244.90" width="7.88" height="7.87" fill="#59ff4f"/><rect x="445.65" y="244.90" width="7.88" height="7.87" fill="#00ff64"/><rect x="452.52" y="244.90" width="7.88" height="7.87" fill="#00ff64"/><rect x="459.40" y="244.90" width="7.88" height="7.87" fill="#00ff77"/><rect x="466.27" y="244.90" width="7.88" height="7.87" fill="#00ff77"/><rect x="473.15" y="244.90" width="7.88" height="7.87" fill="#00ff89"/><rect x="480.02" y="244.90" width="7.88" height="7.87" fill="#00ff89"/><rect x="486.90" y="244.90" width="7.88" height="7.87" fill="#00ff89"/><rect x="493.77" y="244.90" width="7.88" height="7.87" fill="#00ff77"/><rect x="500.65" y="244.90" width="7.88" height="7.87" fill="#00ff77"/><rect x="507.52" y="244.90" width="6.88" height="7.87" fill="#00ff64"/><rect x="376.90" y="238.03" width="7.88" height="7.87" fill="#00ff64"/><rect x="383.77" y="238.03" width="7.88" height="7.87" fill="#00ff64"/><rect x="390.65" y="238.03" width="7.88" height="7.87" fill="#00ff64"/><rect x="397.52" y="238.03" width="7.88" height="7.87" fill="#59ff4f"/><rect x="404.40" y="238.03" width="7.88" height="7.87" fill="#59ff4f"/><rect x="411.27" y="238.03" width="7.88" height="7.87" fill="#80ff37"/><rect x="418.15" y="238.03" width="7.88" height="7.87" fill="#80ff37"/><rect x="425.02" y="238.03" width="7.88" height="7.87" fill="#80ff37"/><rect x="431.90" y="238.03" width="7.88" height="7.87" fill="#80ff37"/><rect x="438.77" y="238.03" width="7.88" height="7.87" fill="#59ff4f"/><rect x="445.65" y="238.03" width="7.88" height="7.87" fill="#00ff64"/><rect x="452.52" y="238.03" width="7.88" height="7.87" fill="#00ff64"/><rect x="459.40" y="238.03" width="7.88" height="7.87" fill="#00ff77"/><rect x="466.27" y="238.03" width="7.88" height="7.87" fill="#00ff77"/><rect x="473.15" y="238.03" width="7.88" height="7.87" fill="#00ff77"/><rect x="480.02" y="238.03" width="7.88" height="7.87" fill="#00ff89"/><rect x="486.90" y="238.03" width="7.88" height="7.87" fill="#00ff77"/><rect x="493.77" y="238.03" width="7.88" height="7.87" fill="#00ff77"/><rect x="500.65" y="238.03" width="7.88" height="7.87" fill="#00ff64"/><rect x="507.52" y="238.03" width="6.88" height="7.87" fill="#00ff64"/><rect x="376.90" y="231.15" width="7.88" height="7.87" fill="#00ff64"/><rect x="383.77" y="231.15" width="7.88" height="7.87" fill="#00ff64"/><rect x="390.65" y="231.15" width="7.88" height="7.87" fill="#00ff64"/><rect x="397.52" y="231.15" width="7.88" height="7.87" fill="#00ff64"/><rect x="404.40" y="231.15" width="7.88" height="7.87" fill="#59ff4f"/><rect x="411.27" y="231.15" width="7.88" height="7.87" fill="#59ff4f"/><rect x="418.15" y="231.15" width="7.88" height="7.87" fill="#80ff37"/><rect x="425.02" y="231.15" width="7.88" height="7.87" fill="#80ff37"/><rect x="431.90" y="231.15" width="7.88" height="7.87" fill="#59ff4f"/><rect x="438.77" y="231.15" width="7.88" height="7.87" fill="#59ff4f"/><rect x="445.65" y="231.15" width="7.88" height="7.87" fill="#00ff64"/><rect x="452.52" y="231.15" width="7.88" height="7.87" fill="#00ff64"/><rect x="459.40" y="231.15" width="7.88" height="7.87" fill="#00ff64"/><rect x="466.27" y="231.15" width="7.88" height="7.87" fill="#00ff77"/><rect x="473.15" y="231.15" width="7.88" height="7.87" fill="#00ff77"/><rect x="480.02" y="231.15" width="7.88" height="7.87" fill="#00ff77"/><rect x="486.90" y="231.15" width="7.88" height="7.87" fill="#00ff77"/><rect x="493.77" y="231.15" width="7.88" height="7.87" fill="#00ff77"/><rect x="500.65" y="231.15" width="7.88" height="7.87" fill="#00ff64"/><rect x="507.52" y="231.15" width="6.88" height="7.87" fill="#00ff64"/><rect x="376.90" y="224.28" width="7.88" height="7.87" fill="#00ff64"/><rect x="383.77" y="224.28" width="7.88" height="7.87" fill="#00ff64"/><rect x="390.65" y="224.28" width="7.88" height="7.87" fill="#00ff64"/><rect x="397.52" y="224.28" width="7.88" height="7.87" fill="#00ff64"/><rect x="404.40" y="224.28" width="7.88" height="7.87" fill="#59ff4f"/><rect x="411.27" y="224.28" width="7.88" height="7.87" fill="#59ff4f"/><rect x="418.15" y="224.28" width="7.88" height="7.87" fill="#59ff4f"/><rect x="425.02" y="224.28" width="7.88" height="7.87" fill="#59ff4f"/><rect x="431.90" y="224.28" width="7.88" height="7.87" fill="#59ff4f"/><rect x="438.77" y="224.28" width="7.88" height="7.87" fill="#00ff64"/><rect x="445.65" y="224.28" width="7.88" height="7.87" fill="#00ff64"/><rect x="452.52" y="224.28" width="7.88" height="7.87" fill="#00ff64"/><rect x="459.40" y="224.28" width="7.88" height="7.87" fill="#00ff64"/><rect x="466.27" y="224.28" width="7.88" height="7.87" fill="#00ff64"/><rect x="473.15" y="224.28" width="7.88" height="7.87" fill="#00ff64"/><rect x="480.02" y="224.28" width="7.88" height="7.87" fill="#00ff77"/><rect x="486.90" y="224.28" width="7.88" height="7.87" fill="#00ff64"/><rect x="493.77" y="224.28" width="7.88" height="7.87" fill="#00ff64"/><rect x="500.65" y="224.28" width="7.88" height="7.87" fill="#00ff64"/><rect x="507.52" y="224.28" width="6.88" height="7.87" fill="#00ff64"/><rect x="376.90" y="217.40" width="7.88" height="7.87" fill="#00ff64"/><rect x="383.77" y="217.40" width="7.88" height="7.87" fill="#00ff64"/><rect x="390.65" y="217.40" width="7.88" height="7.87" fill="#00ff64"/><rect x="397.52" y="217.40" width="7.88" height="7.87" fill="#00ff64"/><rect x="404.40" y="217.40" width="7.88" height="7.87" fill="#00ff64"/><rect x="411.27" y="217.40" width="7.88" height="7.87" fill="#59ff4f"/><rect x="418.15" y="217.40" width="7.88" height="7.87" fill="#59ff4f"/><rect x="425.02" y="217.40" width="7.88" height="7.87" fill="#59ff4f"/><rect x="431.90" y="217.40" width="7.88" height="7.87" fill="#59ff4f"/><rect x="438.77" y="217.40" width="7.88" height="7.87" fill="#00ff64"/><rect x="445.65" y="217.40" width="7.88" height="7.87" fill="#00ff64"/><rect x="452.52" y="217.40" width="7.88" height="7.87" fill="#00ff64"/><rect x="459.40" y="217.40" width="7.88" height="7.87" fill="#00ff64"/><rect x="466.27" y="217.40" width="7.88" height="7.87" fill="#00ff64"/><rect x="473.15" y="217.40" width="7.88" height="7.87" fill="#00ff64"/><rect x="480.02" y="217.40" width="7.88" height="7.87" fill="#00ff64"/><rect x="486.90" y="217.40" width="7.88" height="7.87" fill="#00ff64"/><rect x="493.77" y="217.40" width="7.88" height="7.87" fill="#00ff64"/><rect x="500.65" y="217.40" width="7.88" height="7.87" fill="#00ff64"/><rect x="507.52" y="217.40" width="6.88" height="7.87" fill="#00ff64"/><rect x="376.90" y="210.53" width="7.88" height="7.87" fill="#00ff64"/><rect x="383.77" y="210.53" width="7.88" height="7.87" fill="#00ff64"/><rect x="390.65" y="210.53" width="7.88" height="7.87" fill="#00ff64"/><rect x="397.52" y="210.53" width="7.88" height="7.87" fill="#00ff64"/><rect x="404.40" y="210.53" width="7.88" height="7.87" fill="#00ff64"/><rect x="411.27" y="210.53" width="7.88" height="7.87" fill="#00ff64"/><rect x="418.15" y="210.53" width="7.88" height="7.87" fill="#00ff64"/><rect x="425.02" y="210.53" width="7.88" height="7.87" fill="#00ff64"/><rect x="431.90" y="210.53" width="7.88" height="7.87" fill="#00ff64"/><rect x="438.77" y="210.53" width="7.88" height="7.87" fill="#00ff64"/><rect x="445.65" y="210.53" width="7.88" height="7.87" fill="#00ff64"/><rect x="452.52" y="210.53" width="7.88" height="7.87" fill="#00ff64"/><rect x="459.40" y="210.53" width="7.88" height="7.87" fill="#00ff64"/><rect x="466.27" y="210.53" width="7.88" height="7.87" fill="#00ff64"/><rect x="473.15" y="210.53" width="7.88" height="7.87" fill="#00ff64"/><rect x="480.02" y="210.53" width="7.88" height="7.87" fill="#00ff64"/><rect x="486.90" y="210.53" width="7.88" height="7.87" fill="#00ff64"/><rect x="493.77" y="210.53" width="7.88" height="7.87" fill="#00ff64"/><rect x="500.65" y="210.53" width="7.88" height="7.87" fill="#00ff64"/><rect x="507.52" y="210.53" width="6.88" height="7.87" fill="#00ff64"/><rect x="376.90" y="203.65" width="7.88" height="7.87" fill="#00ff64"/><rect x="383.77" y="203.65" width="7.88" height="7.87" fill="#00ff64"/><rect x="390.65" y="203.65" width="7.88" height="7.87" fill="#00ff64"/><rect x="397.52" y="203.65" width="7.88" height="7.87" fill="#00ff64"/><rect x="404.40" y="203.65" width="7.88" height="7.87" fill="#00ff64"/><rect x="411.27" y="203.65" width="7.88" height="7.87" fill="#00ff64"/><rect x="418.15" y="203.65" width="7.88" height="7.87" fill="#00ff64"/><rect x="425.02" y="203.65" width="7.88" height="7.87" fill="#00ff64"/><rect x="431.90" y="203.65" width="7.88" height="7.87" fill="#00ff64"/><rect x="438.77" y="203.65" width="7.88" height="7.87" fill="#00ff64"/><rect x="445.65" y="203.65" width="7.88" height="7.87" fill="#00ff64"/><rect x="452.52" y="203.65" width="7.88" height="7.87" fill="#00ff64"/><rect x="459.40" y="203.65" width="7.88" height="7.87" fill="#00ff64"/><rect x="466.27" y="203.65" width="7.88" height="7.87" fill="#00ff64"/><rect x="473.15" y="203.65" width="7.88" height="7.87" fill="#00ff64"/><rect x="480.02" y="203.65" width="7.88" height="7.87" fill="#00ff64"/><rect x="486.90" y="203.65" width="7.88" height="7.87" fill="#00ff64"/><rect x="493.77" y="203.65" width="7.88" height="7.87" fill="#00ff64"/><rect x="500.65" y="203.65" width="7.88" height="7.87" fill="#00ff64"/><rect x="507.52" y="203.65" width="6.88" height="7.87" fill="#00ff64"/><rect x="376.90" y="196.78" width="7.88" height="7.87" fill="#00ff64"/><rect x="383.77" y="196.78" width="7.88" height="7.87" fill="#00ff64"/><rect x="390.65" y="196.78" width="7.88" height="7.87" fill="#00ff64"/><rect x="397.52" y="196.78" width="7.88" height="7.87" fill="#00ff64"/><rect x="404.40" y="196.78" width="7.88" height="7.87" fill="#00ff64"/><rect x="411.27" y="196.78" width="7.88" height="7.87" fill="#00ff64"/><rect x="418.15" y="196.78" width="7.88" height="7.87" fill="#00ff64"/><rect x="425.02" y="196.78" width="7.88" height="7.87" fill="#00ff64"/><rect x="431.90" y="196.78" width="7.88" height="7.87" fill="#00ff64"/><rect x="438.77" y="196.78" width="7.88" height="7.87" fill="#00ff64"/><rect x="445.65" y="196.78" width="7.88" height="7.87" fill="#00ff64"/><rect x="452.52" y="196.78" width="7.88" height="7.87" fill="#00ff64"/><rect x="459.40" y="196.78" width="7.88" height="7.87" fill="#00ff64"/><rect x="466.27" y="196.78" width="7.88" height="7.87" fill="#00ff64"/><rect x="473.15" y="196.78" width="7.88" height="7.87" fill="#00ff64"/><rect x="480.02" y="196.78" width="7.88" height="7.87" fill="#00ff64"/><rect x="486.90" y="196.78" width="7.88" height="7.87" fill="#00ff64"/><rect x="493.77" y="196.78" width="7.88" height="7.87" fill="#00ff64"/><rect x="500.65" y="196.78" width="7.88" height="7.87" fill="#00ff64"/><rect x="507.52" y="196.78" width="6.88" height="7.87" fill="#00ff64"/><rect x="376.90" y="189.90" width="7.88" height="7.87" fill="#00ff64"/><rect x="383.77" y="189.90" width="7.88" height="7.87" fill="#00ff64"/><rect x="390.65" y="189.90" width="7.88" height="7.87" fill="#00ff64"/><rect x="397.52" y="189.90" width="7.88" height="7.87" fill="#00ff64"/><rect x="404.40" y="189.90" width="7.88" height="7.87" fill="#00ff64"/><rect x="411.27" y="189.90" width="7.88" height="7.87" fill="#00ff64"/><rect x="418.15" y="189.90" width="7.88" height="7.87" fill="#00ff64"/><rect x="425.02" y="189.90" width="7.88" height="7.87" fill="#00ff64"/><rect x="431.90" y="189.90" width="7.88" height="7.87" fill="#00ff64"/><rect x="438.77" y="189.90" width="7.88" height="7.87" fill="#00ff64"/><rect x="445.65" y="189.90" width="7.88" height="7.87" fill="#00ff64"/><rect x="452.52" y="189.90" width="7.88" height="7.87" fill="#00ff64"/><rect x="459.40" y="189.90" width="7.88" height="7.87" fill="#00ff64"/><rect x="466.27" y="189.90" width="7.88" height="7.87" fill="#00ff64"/><rect x="473.15" y="189.90" width="7.88" height="7.87" fill="#00ff64"/><rect x="480.02" y="189.90" width="7.88" height="7.87" fill="#00ff64"/><rect x="486.90" y="189.90" width="7.88" height="7.87" fill="#00ff64"/><rect x="493.77" y="189.90" width="7.88" height="7.87" fill="#00ff64"/><rect x="500.65" y="189.90" width="7.88" height="7.87" fill="#00ff64"/><rect x="507.52" y="189.90" width="6.88" height="7.87" fill="#00ff64"/>
<path d="M383.77 189.90V327.40M376.90 196.78H514.40M390.65 189.90V327.40M376.90 203.65H514.40M397.52 189.90V327.40M376.90 210.53H514.40M404.40 189.90V327.40M376.90 217.40H514.40M411.27 189.90V327.40M376.90 224.28H514.40M418.15 189.90V327.40M376.90 231.15H514.40M425.02 189.90V327.40M376.90 238.02H514.40M431.90 189.90V327.40M376.90 244.90H514.40M438.77 189.90V327.40M376.90 251.77H514.40M445.65 189.90V327.40M376.90 258.65H514.40M452.52 189.90V327.40M376.90 265.52H514.40M459.40 189.90V327.40M376.90 272.40H514.40M466.27 189.90V327.40M376.90 279.27H514.40M473.15 189.90V327.40M376.90 286.15H514.40M480.02 189.90V327.40M376.90 293.02H514.40M486.90 189.90V327.40M376.90 299.90H514.40M493.77 189.90V327.40M376.90 306.77H514.40M500.65 189.90V327.40M376.90 313.65H514.40M507.52 189.90V327.40M376.90 320.52H514.40" stroke="#000" stroke-opacity="0.42" stroke-width="0.7" fill="none"/>
<text x="383.77" y="334.90" font-size="7.1" fill="#000" text-anchor="middle" textLength="3.55" lengthAdjust="spacingAndGlyphs">2</text>
<text x="374.90" y="322.82" font-size="7.1" fill="#000" text-anchor="end" textLength="3.55" lengthAdjust="spacingAndGlyphs">2</text>
<text x="397.52" y="334.90" font-size="7.1" fill="#000" text-anchor="middle" textLength="3.55" lengthAdjust="spacingAndGlyphs">4</text>
<text x="374.90" y="309.07" font-size="7.1" fill="#000" text-anchor="end" textLength="3.55" lengthAdjust="spacingAndGlyphs">4</text>
<text x="411.27" y="334.90" font-size="7.1" fill="#000" text-anchor="middle" textLength="3.55" lengthAdjust="spacingAndGlyphs">6</text>
<text x="374.90" y="295.32" font-size="7.1" fill="#000" text-anchor="end" textLength="3.55" lengthAdjust="spacingAndGlyphs">6</text>
<text x="425.02" y="334.90" font-size="7.1" fill="#000" text-anchor="middle" textLength="3.55" lengthAdjust="spacingAndGlyphs">8</text>
<text x="374.90" y="281.57" font-size="7.1" fill="#000" text-anchor="end" textLength="3.55" lengthAdjust="spacingAndGlyphs">8</text>
<text x="438.77" y="334.90" font-size="7.1" fill="#000" text-anchor="middle" textLength="7.11" lengthAdjust="spacingAndGlyphs">10</text>
<text x="374.90" y="267.82" font-size="7.1" fill="#000" text-anchor="end" textLength="7.11" lengthAdjust="spacingAndGlyphs">10</text>
<text x="452.52" y="334.90" font-size="7.1" fill="#000" text-anchor="middle" textLength="7.11" lengthAdjust="spacingAndGlyphs">12</text>
<text x="374.90" y="254.07" font-size="7.1" fill="#000" text-anchor="end" textLength="7.11" lengthAdjust="spacingAndGlyphs">12</text>
<text x="466.27" y="334.90" font-size="7.1" fill="#000" text-anchor="middle" textLength="7.11" lengthAdjust="spacingAndGlyphs">14</text>
<text x="374.90" y="240.33" font-size="7.1" fill="#000" text-anchor="end" textLength="7.11" lengthAdjust="spacingAndGlyphs">14</text>
<text x="480.02" y="334.90" font-size="7.1" fill="#000" text-anchor="middle" textLength="7.11" lengthAdjust="spacingAndGlyphs">16</text>
<text x="374.90" y="226.58" font-size="7.1" fill="#000" text-anchor="end" textLength="7.11" lengthAdjust="spacingAndGlyphs">16</text>
<text x="493.77" y="334.90" font-size="7.1" fill="#000" text-anchor="middle" textLength="7.11" lengthAdjust="spacingAndGlyphs">18</text>
<text x="374.90" y="212.83" font-size="7.1" fill="#000" text-anchor="end" textLength="7.11" lengthAdjust="spacingAndGlyphs">18</text>
<text x="507.52" y="334.90" font-size="7.1" fill="#000" text-anchor="middle" textLength="7.11" lengthAdjust="spacingAndGlyphs">20</text>
<text x="374.90" y="199.08" font-size="7.1" fill="#000" text-anchor="end" textLength="7.11" lengthAdjust="spacingAndGlyphs">20</text>
<defs><linearGradient id="g5" x1="0" y1="0" x2="0" y2="1"><stop offset="0.0078" stop-color="#960000"/><stop offset="0.0234" stop-color="#a90000"/><stop offset="0.0391" stop-color="#bb0000"/><stop offset="0.0547" stop-color="#cd0000"/><stop offset="0.0703" stop-color="#e00000"/><stop offset="0.0859" stop-color="#f20000"/><stop offset="0.1016" stop-color="#ff0000"/><stop offset="0.1172" stop-color="#ff0000"/><stop offset="0.1328" stop-color="#ff0000"/><stop offset="0.1484" stop-color="#ff0700"/><stop offset="0.1641" stop-color="#ff1a00"/><stop offset="0.1797" stop-color="#ff2c00"/><stop offset="0.1953" stop-color="#ff3e00"/><stop offset="0.2109" stop-color="#ff4f00"/><stop offset="0.2266" stop-color="#ff5f00"/><stop offset="0.2422" stop-color="#ff7000"/><stop offset="0.2578" stop-color="#ff8100"/><stop offset="0.2734" stop-color="#ff9100"/><stop offset="0.2891" stop-color="#ffa100"/><stop offset="0.3047" stop-color="#ffb100"/><stop offset="0.3203" stop-color="#ffc100"/><stop offset="0.3359" stop-color="#ffd000"/><stop offset="0.3516" stop-color="#ffe000"/><stop offset="0.3672" stop-color="#fff000"/><stop offset="0.3828" stop-color="#ffff00"/><stop offset="0.3984" stop-color="#e9ff00"/><stop offset="0.4141" stop-color="#d2ff00"/><stop offset="0.4297" stop-color="#b9ff00"/><stop offset="0.4453" stop-color="#9fff13"/><stop offset="0.4609" stop-color="#80ff37"/><stop offset="0.4766" stop-color="#59ff4f"/><stop offset="0.4922" stop-color="#00ff64"/><stop offset="0.5078" stop-color="#00ff77"/><stop offset="0.5234" stop-color="#00ff89"/><stop offset="0.5391" stop-color="#00ff9b"/><stop offset="0.5547" stop-color="#00ffac"/><stop offset="0.5703" stop-color="#00ffbd"/><stop offset="0.5859" stop-color="#00ffce"/><stop offset="0.6016" stop-color="#00ffdf"/><stop offset="0.6172" stop-color="#00ffef"/><stop offset="0.6328" stop-color="#00ffff"/><stop offset="0.6484" stop-color="#00f0ff"/><stop offset="0.6641" stop-color="#00e0ff"/><stop offset="0.6797" stop-color="#00d0ff"/><stop offset="0.6953" stop-color="#00c1ff"/><stop offset="0.7109" stop-color="#00b1ff"/><stop offset="0.7266" stop-color="#00a1ff"/><stop offset="0.7422" stop-color="#0091ff"/><stop offset="0.7578" stop-color="#0081ff"/><stop offset="0.7734" stop-color="#0070ff"/><stop offset="0.7891" stop-color="#005fff"/><stop offset="0.8047" stop-color="#004fff"/><stop offset="0.8203" stop-color="#003eff"/><stop offset="0.8359" stop-color="#002cff"/><stop offset="0.8516" stop-color="#001aff"/><stop offset="0.8672" stop-color="#0007ff"/><stop offset="0.8828" stop-color="#0000ff"/><stop offset="0.8984" stop-color="#0000f4"/><stop offset="0.9141" stop-color="#0000e4"/><stop offset="0.9297" stop-color="#0000d4"/><stop offset="0.9453" stop-color="#0000c4"/><stop offset="0.9609" stop-color="#0000b4"/><stop offset="0.9766" stop-color="#0000a4"/><stop offset="0.9922" stop-color="#000094"/></linearGradient></defs>
<rect x="522.00" y="189.90" width="9.60" height="137.50" fill="url(#g5)"/>
<rect x="522.00" y="189.90" width="9.60" height="137.50" fill="none" stroke="#000" stroke-opacity="0.25" stroke-width="0.5"/>
<path d="M522.00 189.90h1.5M531.60 189.90h-1.5" stroke="#000" stroke-opacity="0.5" stroke-width="0.6"/>
<text x="533.50" y="192.40" font-size="7.1" fill="#000" font-style="italic" textLength="3.55" lengthAdjust="spacingAndGlyphs">1</text>
<path d="M522.00 203.65h1.5M531.60 203.65h-1.5" stroke="#000" stroke-opacity="0.5" stroke-width="0.6"/>
<text x="533.50" y="206.15" font-size="7.1" fill="#000" font-style="italic" textLength="8.88" lengthAdjust="spacingAndGlyphs">0.8</text>
<path d="M522.00 217.40h1.5M531.60 217.40h-1.5" stroke="#000" stroke-opacity="0.5" stroke-width="0.6"/>
<text x="533.50" y="219.90" font-size="7.1" fill="#000" font-style="italic" textLength="8.88" lengthAdjust="spacingAndGlyphs">0.6</text>
<path d="M522.00 231.15h1.5M531.60 231.15h-1.5" stroke="#000" stroke-opacity="0.5" stroke-width="0.6"/>
<text x="533.50" y="233.65" font-size="7.1" fill="#000" font-style="italic" textLength="8.88" lengthAdjust="spacingAndGlyphs">0.4</text>
<path d="M522.00 244.90h1.5M531.60 244.90h-1.5" stroke="#000" stroke-opacity="0.5" stroke-width="0.6"/>
<text x="533.50" y="247.40" font-size="7.1" fill="#000" font-style="italic" textLength="8.88" lengthAdjust="spacingAndGlyphs">0.2</text>
<path d="M522.00 258.65h1.5M531.60 258.65h-1.5" stroke="#000" stroke-opacity="0.5" stroke-width="0.6"/>
<text x="533.50" y="261.15" font-size="7.1" fill="#000" font-style="italic" textLength="3.55" lengthAdjust="spacingAndGlyphs">0</text>
<path d="M522.00 272.40h1.5M531.60 272.40h-1.5" stroke="#000" stroke-opacity="0.5" stroke-width="0.6"/>
<text x="533.50" y="274.90" font-size="7.1" fill="#000" font-style="italic" textLength="12.61" lengthAdjust="spacingAndGlyphs">−0.2</text>
<path d="M522.00 286.15h1.5M531.60 286.15h-1.5" stroke="#000" stroke-opacity="0.5" stroke-width="0.6"/>
<text x="533.50" y="288.65" font-size="7.1" fill="#000" font-style="italic" textLength="12.61" lengthAdjust="spacingAndGlyphs">−0.4</text>
<path d="M522.00 299.90h1.5M531.60 299.90h-1.5" stroke="#000" stroke-opacity="0.5" stroke-width="0.6"/>
<text x="533.50" y="302.40" font-size="7.1" fill="#000" font-style="italic" textLength="12.61" lengthAdjust="spacingAndGlyphs">−0.6</text>
<path d="M522.00 313.65h1.5M531.60 313.65h-1.5" stroke="#000" stroke-opacity="0.5" stroke-width="0.6"/>
<text x="533.50" y="316.15" font-size="7.1" fill="#000" font-style="italic" textLength="12.61" lengthAdjust="spacingAndGlyphs">−0.8</text>
<path d="M522.00 327.40h1.5M531.60 327.40h-1.5" stroke="#000" stroke-opacity="0.5" stroke-width="0.6"/>
<text x="533.50" y="329.90" font-size="7.1" fill="#000" font-style="italic" textLength="7.28" lengthAdjust="spacingAndGlyphs">−1</text>
<text x="377.20" y="180.70" font-size="10.36" fill="#111" stroke="#111" stroke-width="0.25">(f) Difference between (d) and (e)</text>
</svg></body></html>
